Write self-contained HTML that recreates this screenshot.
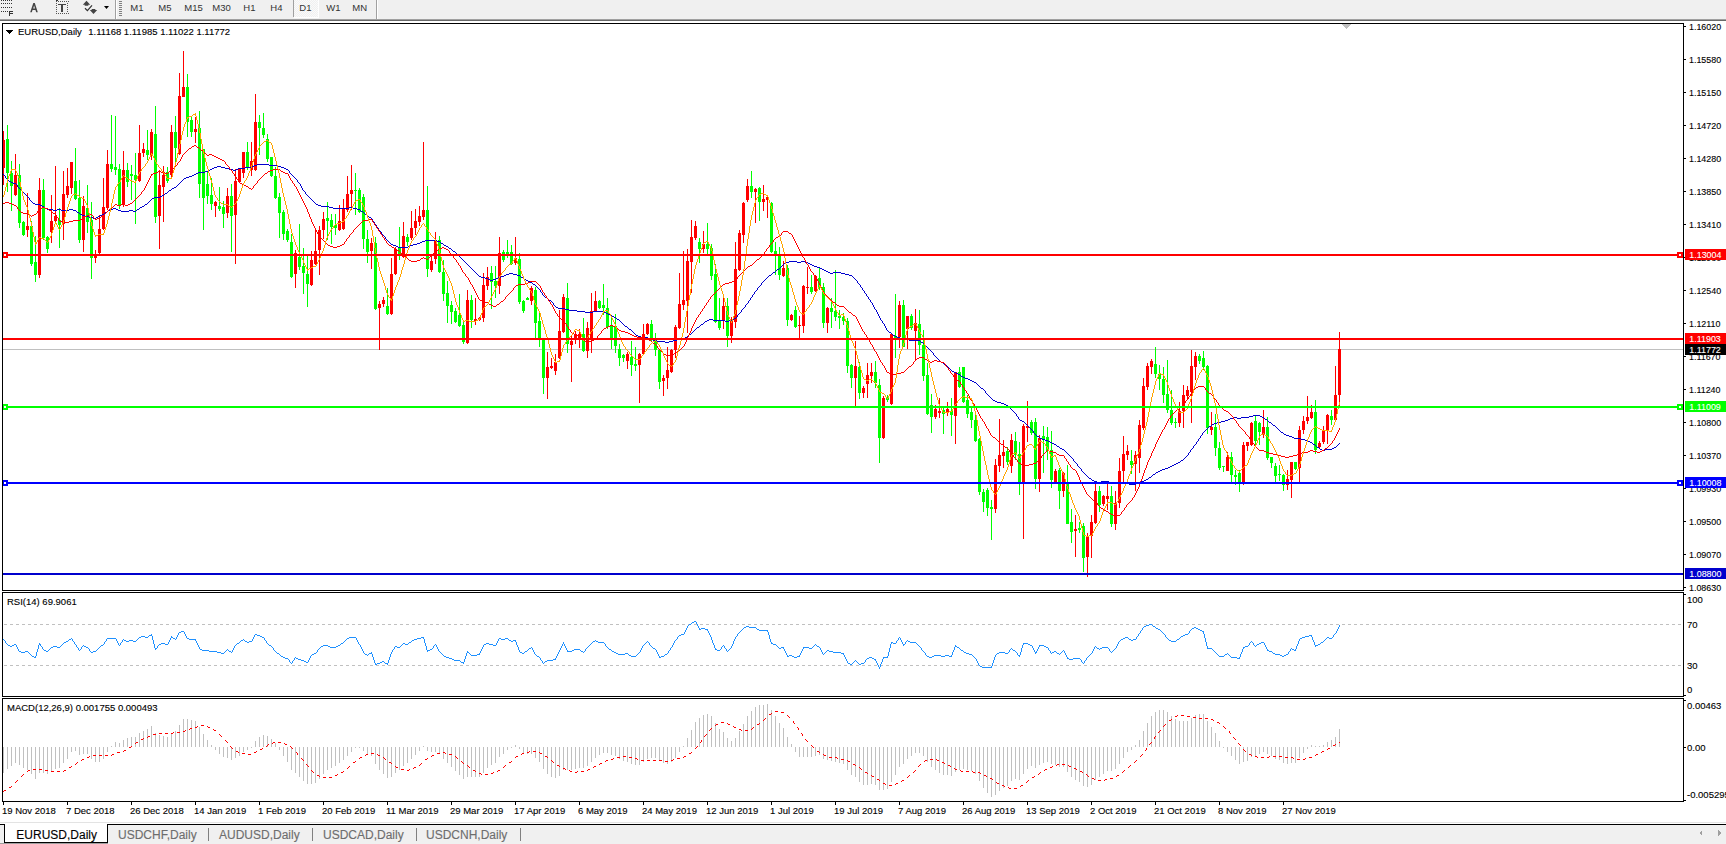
<!DOCTYPE html>
<html><head><meta charset="utf-8"><style>
html,body{margin:0;padding:0;background:#fff;width:1726px;height:844px;overflow:hidden}
svg{display:block}
text{font-family:"Liberation Sans", sans-serif;stroke:currentColor;stroke-width:0.12px;paint-order:stroke}
</style></head><body>
<svg width="1726" height="844" viewBox="0 0 1726 844" shape-rendering="crispEdges">
<rect x="0" y="0" width="1726" height="19" fill="#f0f0f0"/>
<rect x="0" y="19" width="1726" height="1" fill="#a0a0a0"/>
<rect x="0" y="20" width="1726" height="1" fill="#696969"/>
<rect x="0" y="21" width="1726" height="2" fill="#ffffff"/>
<rect x="1" y="0" width="1" height="1" fill="#333"/>
<rect x="3" y="0" width="1" height="1" fill="#333"/>
<rect x="5" y="0" width="1" height="1" fill="#333"/>
<rect x="7" y="0" width="1" height="1" fill="#333"/>
<rect x="9" y="0" width="1" height="1" fill="#333"/>
<rect x="11" y="0" width="1" height="1" fill="#333"/>
<rect x="1" y="3" width="1" height="1" fill="#333"/>
<rect x="3" y="3" width="1" height="1" fill="#333"/>
<rect x="5" y="3" width="1" height="1" fill="#333"/>
<rect x="7" y="3" width="1" height="1" fill="#333"/>
<rect x="9" y="3" width="1" height="1" fill="#333"/>
<rect x="11" y="3" width="1" height="1" fill="#333"/>
<rect x="1" y="7" width="1" height="1" fill="#333"/>
<rect x="3" y="7" width="1" height="1" fill="#333"/>
<rect x="5" y="7" width="1" height="1" fill="#333"/>
<rect x="7" y="7" width="1" height="1" fill="#333"/>
<rect x="9" y="7" width="1" height="1" fill="#333"/>
<rect x="11" y="7" width="1" height="1" fill="#333"/>
<rect x="1" y="11" width="1" height="1" fill="#333"/>
<rect x="3" y="11" width="1" height="1" fill="#333"/>
<rect x="5" y="11" width="1" height="1" fill="#333"/>
<rect x="7" y="11" width="1" height="1" fill="#333"/>
<path d="M9,11h4.3v1.1h-3v1.2h2.6v1.1h-2.6v1.6h-1.3z" fill="#333"/>
<path d="M30.2,12.2 L33.3,3 h1.5 L37.8,12.2 h-1.6 l-0.75,-2.3 h-2.9 l-0.75,2.3z M33.2,8.6 h1.8 l-0.9,-3z" fill="#444" shape-rendering="geometricPrecision"/>
<rect x="56" y="1" width="1" height="1" fill="#555"/>
<rect x="56" y="13" width="1" height="1" fill="#555"/>
<rect x="58" y="1" width="1" height="1" fill="#555"/>
<rect x="58" y="13" width="1" height="1" fill="#555"/>
<rect x="60" y="1" width="1" height="1" fill="#555"/>
<rect x="60" y="13" width="1" height="1" fill="#555"/>
<rect x="62" y="1" width="1" height="1" fill="#555"/>
<rect x="62" y="13" width="1" height="1" fill="#555"/>
<rect x="64" y="1" width="1" height="1" fill="#555"/>
<rect x="64" y="13" width="1" height="1" fill="#555"/>
<rect x="66" y="1" width="1" height="1" fill="#555"/>
<rect x="66" y="13" width="1" height="1" fill="#555"/>
<rect x="68" y="1" width="1" height="1" fill="#555"/>
<rect x="68" y="13" width="1" height="1" fill="#555"/>
<rect x="56" y="3" width="1" height="1" fill="#555"/>
<rect x="67" y="3" width="1" height="1" fill="#555"/>
<rect x="56" y="5" width="1" height="1" fill="#555"/>
<rect x="67" y="5" width="1" height="1" fill="#555"/>
<rect x="56" y="7" width="1" height="1" fill="#555"/>
<rect x="67" y="7" width="1" height="1" fill="#555"/>
<rect x="56" y="9" width="1" height="1" fill="#555"/>
<rect x="67" y="9" width="1" height="1" fill="#555"/>
<rect x="56" y="11" width="1" height="1" fill="#555"/>
<rect x="67" y="11" width="1" height="1" fill="#555"/>
<rect x="56" y="0" width="2" height="1" fill="#333"/>
<rect x="58" y="4" width="8" height="1" fill="#444"/>
<rect x="61" y="4" width="2" height="8" fill="#444"/>
<path d="M82.8,4.8 L86.5,0.8 L90.2,4.8z M84.7,4.5 h3.6v1.3h-3.6z M89.8,10 L97.2,10 L93.5,14.1z M91.7,9 h3.6v1.3h-3.6z" fill="#444" shape-rendering="geometricPrecision"/>
<path d="M85,8.3 L87.4,10.6 L92,5.3" fill="none" stroke="#333" stroke-width="1.2" shape-rendering="geometricPrecision"/>
<polygon points="104,6 109,6 106.5,9" fill="#000" shape-rendering="geometricPrecision"/>
<rect x="115" y="0" width="1" height="19" fill="#a0a0a0"/>
<rect x="116" y="0" width="1" height="19" fill="#fff"/>
<rect x="119" y="1" width="3" height="1" fill="#808080"/>
<rect x="119" y="3" width="3" height="1" fill="#808080"/>
<rect x="119" y="5" width="3" height="1" fill="#808080"/>
<rect x="119" y="7" width="3" height="1" fill="#808080"/>
<rect x="119" y="9" width="3" height="1" fill="#808080"/>
<rect x="119" y="11" width="3" height="1" fill="#808080"/>
<rect x="119" y="13" width="3" height="1" fill="#808080"/>
<rect x="119" y="15" width="3" height="1" fill="#808080"/>
<rect x="293" y="0" width="1" height="17" fill="#a0a0a0"/>
<defs><pattern id="chk" width="2" height="2" patternUnits="userSpaceOnUse"><rect width="2" height="2" fill="#f0f0f0"/><rect width="1" height="1" fill="#fafafa"/><rect x="1" y="1" width="1" height="1" fill="#fafafa"/></pattern></defs>
<rect x="294" y="0" width="24" height="17" fill="url(#chk)"/>
<rect x="294" y="17" width="25" height="1" fill="#fff"/>
<rect x="318" y="0" width="1" height="17" fill="#fff"/>
<rect x="376" y="0" width="1" height="19" fill="#a0a0a0"/>
<rect x="377" y="0" width="1" height="19" fill="#fff"/>
<text x="130.3" y="11" font-size="9.5" fill="#333" color="#333" text-anchor="start" style="stroke-width:0">M1</text>
<text x="158.3" y="11" font-size="9.5" fill="#333" color="#333" text-anchor="start" style="stroke-width:0">M5</text>
<text x="184.3" y="11" font-size="9.5" fill="#333" color="#333" text-anchor="start" style="stroke-width:0">M15</text>
<text x="212.3" y="11" font-size="9.5" fill="#333" color="#333" text-anchor="start" style="stroke-width:0">M30</text>
<text x="243.3" y="11" font-size="9.5" fill="#333" color="#333" text-anchor="start" style="stroke-width:0">H1</text>
<text x="270.3" y="11" font-size="9.5" fill="#333" color="#333" text-anchor="start" style="stroke-width:0">H4</text>
<text x="299.3" y="11" font-size="9.5" fill="#333" color="#333" text-anchor="start" style="stroke-width:0">D1</text>
<text x="326.3" y="11" font-size="9.5" fill="#333" color="#333" text-anchor="start" style="stroke-width:0">W1</text>
<text x="352.3" y="11" font-size="9.5" fill="#333" color="#333" text-anchor="start" style="stroke-width:0">MN</text>
<rect x="2" y="23" width="1682" height="1" fill="#000"/>
<rect x="2" y="590" width="1682" height="1" fill="#000"/>
<rect x="2" y="23" width="1" height="568" fill="#000"/>
<rect x="1683" y="23" width="1" height="568" fill="#000"/>
<clipPath id="cm"><rect x="3" y="24" width="1680" height="566"/></clipPath>
<g clip-path="url(#cm)">
<rect x="3" y="349" width="1680" height="1" fill="#c0c0c0"/>
<rect x="3" y="131" width="1" height="54" fill="#ff0000"/>
<rect x="2" y="140" width="3" height="28" fill="#ff0000"/>
<rect x="7" y="125" width="1" height="67" fill="#00ff00"/>
<rect x="6" y="139" width="3" height="34" fill="#00ff00"/>
<rect x="11" y="161" width="1" height="50" fill="#00ff00"/>
<rect x="10" y="173" width="3" height="13" fill="#00ff00"/>
<rect x="15" y="154" width="1" height="42" fill="#ff0000"/>
<rect x="14" y="175" width="3" height="20" fill="#ff0000"/>
<rect x="19" y="164" width="1" height="64" fill="#00ff00"/>
<rect x="18" y="175" width="3" height="48" fill="#00ff00"/>
<rect x="23" y="221" width="1" height="15" fill="#00ff00"/>
<rect x="22" y="222" width="3" height="13" fill="#00ff00"/>
<rect x="27" y="193" width="1" height="44" fill="#ff0000"/>
<rect x="26" y="226" width="3" height="4" fill="#ff0000"/>
<rect x="31" y="221" width="1" height="45" fill="#00ff00"/>
<rect x="30" y="226" width="3" height="38" fill="#00ff00"/>
<rect x="35" y="236" width="1" height="46" fill="#00ff00"/>
<rect x="34" y="262" width="3" height="13" fill="#00ff00"/>
<rect x="39" y="178" width="1" height="100" fill="#ff0000"/>
<rect x="38" y="190" width="3" height="85" fill="#ff0000"/>
<rect x="43" y="179" width="1" height="61" fill="#00ff00"/>
<rect x="42" y="190" width="3" height="48" fill="#00ff00"/>
<rect x="47" y="236" width="1" height="17" fill="#00ff00"/>
<rect x="46" y="237" width="3" height="12" fill="#00ff00"/>
<rect x="51" y="195" width="1" height="48" fill="#ff0000"/>
<rect x="50" y="221" width="3" height="11" fill="#ff0000"/>
<rect x="55" y="166" width="1" height="57" fill="#ff0000"/>
<rect x="54" y="216" width="3" height="5" fill="#ff0000"/>
<rect x="59" y="208" width="1" height="40" fill="#00ff00"/>
<rect x="58" y="220" width="3" height="5" fill="#00ff00"/>
<rect x="63" y="171" width="1" height="69" fill="#ff0000"/>
<rect x="62" y="194" width="3" height="30" fill="#ff0000"/>
<rect x="67" y="168" width="1" height="30" fill="#ff0000"/>
<rect x="66" y="186" width="3" height="9" fill="#ff0000"/>
<rect x="71" y="162" width="1" height="32" fill="#ff0000"/>
<rect x="70" y="162" width="3" height="26" fill="#ff0000"/>
<rect x="75" y="148" width="1" height="52" fill="#00ff00"/>
<rect x="74" y="181" width="3" height="18" fill="#00ff00"/>
<rect x="79" y="180" width="1" height="63" fill="#00ff00"/>
<rect x="78" y="198" width="3" height="42" fill="#00ff00"/>
<rect x="83" y="196" width="1" height="56" fill="#ff0000"/>
<rect x="82" y="206" width="3" height="34" fill="#ff0000"/>
<rect x="87" y="185" width="1" height="48" fill="#00ff00"/>
<rect x="86" y="208" width="3" height="14" fill="#00ff00"/>
<rect x="91" y="202" width="1" height="77" fill="#00ff00"/>
<rect x="90" y="220" width="3" height="38" fill="#00ff00"/>
<rect x="95" y="250" width="1" height="13" fill="#ff0000"/>
<rect x="94" y="255" width="3" height="3" fill="#ff0000"/>
<rect x="99" y="215" width="1" height="39" fill="#ff0000"/>
<rect x="98" y="229" width="3" height="24" fill="#ff0000"/>
<rect x="103" y="178" width="1" height="52" fill="#ff0000"/>
<rect x="102" y="207" width="3" height="22" fill="#ff0000"/>
<rect x="107" y="150" width="1" height="60" fill="#ff0000"/>
<rect x="106" y="164" width="3" height="44" fill="#ff0000"/>
<rect x="111" y="115" width="1" height="57" fill="#00ff00"/>
<rect x="110" y="164" width="3" height="5" fill="#00ff00"/>
<rect x="115" y="116" width="1" height="59" fill="#00ff00"/>
<rect x="114" y="167" width="3" height="3" fill="#00ff00"/>
<rect x="119" y="164" width="1" height="45" fill="#00ff00"/>
<rect x="118" y="169" width="3" height="36" fill="#00ff00"/>
<rect x="123" y="151" width="1" height="56" fill="#ff0000"/>
<rect x="122" y="170" width="3" height="35" fill="#ff0000"/>
<rect x="127" y="163" width="1" height="24" fill="#00ff00"/>
<rect x="126" y="170" width="3" height="12" fill="#00ff00"/>
<rect x="131" y="165" width="1" height="35" fill="#00ff00"/>
<rect x="130" y="174" width="3" height="2" fill="#00ff00"/>
<rect x="135" y="153" width="1" height="71" fill="#00ff00"/>
<rect x="134" y="175" width="3" height="5" fill="#00ff00"/>
<rect x="139" y="125" width="1" height="57" fill="#ff0000"/>
<rect x="138" y="153" width="3" height="28" fill="#ff0000"/>
<rect x="143" y="143" width="1" height="14" fill="#ff0000"/>
<rect x="142" y="149" width="3" height="4" fill="#ff0000"/>
<rect x="147" y="130" width="1" height="30" fill="#00ff00"/>
<rect x="146" y="150" width="3" height="5" fill="#00ff00"/>
<rect x="151" y="129" width="1" height="31" fill="#ff0000"/>
<rect x="150" y="132" width="3" height="23" fill="#ff0000"/>
<rect x="155" y="106" width="1" height="117" fill="#00ff00"/>
<rect x="154" y="134" width="3" height="83" fill="#00ff00"/>
<rect x="159" y="170" width="1" height="79" fill="#ff0000"/>
<rect x="158" y="185" width="3" height="31" fill="#ff0000"/>
<rect x="163" y="166" width="1" height="56" fill="#ff0000"/>
<rect x="162" y="175" width="3" height="12" fill="#ff0000"/>
<rect x="167" y="167" width="1" height="16" fill="#00ff00"/>
<rect x="166" y="172" width="3" height="9" fill="#00ff00"/>
<rect x="171" y="125" width="1" height="52" fill="#ff0000"/>
<rect x="170" y="132" width="3" height="43" fill="#ff0000"/>
<rect x="175" y="116" width="1" height="46" fill="#00ff00"/>
<rect x="174" y="132" width="3" height="16" fill="#00ff00"/>
<rect x="179" y="73" width="1" height="82" fill="#ff0000"/>
<rect x="178" y="96" width="3" height="58" fill="#ff0000"/>
<rect x="183" y="51" width="1" height="46" fill="#ff0000"/>
<rect x="182" y="87" width="3" height="10" fill="#ff0000"/>
<rect x="187" y="74" width="1" height="63" fill="#00ff00"/>
<rect x="186" y="87" width="3" height="35" fill="#00ff00"/>
<rect x="191" y="116" width="1" height="21" fill="#00ff00"/>
<rect x="190" y="120" width="3" height="12" fill="#00ff00"/>
<rect x="195" y="117" width="1" height="26" fill="#ff0000"/>
<rect x="194" y="129" width="3" height="3" fill="#ff0000"/>
<rect x="199" y="111" width="1" height="87" fill="#00ff00"/>
<rect x="198" y="128" width="3" height="56" fill="#00ff00"/>
<rect x="203" y="149" width="1" height="81" fill="#00ff00"/>
<rect x="202" y="149" width="3" height="49" fill="#00ff00"/>
<rect x="207" y="172" width="1" height="32" fill="#00ff00"/>
<rect x="206" y="184" width="3" height="12" fill="#00ff00"/>
<rect x="211" y="178" width="1" height="32" fill="#00ff00"/>
<rect x="210" y="195" width="3" height="9" fill="#00ff00"/>
<rect x="215" y="201" width="1" height="16" fill="#ff0000"/>
<rect x="214" y="202" width="3" height="4" fill="#ff0000"/>
<rect x="219" y="187" width="1" height="24" fill="#00ff00"/>
<rect x="218" y="206" width="3" height="3" fill="#00ff00"/>
<rect x="223" y="201" width="1" height="27" fill="#00ff00"/>
<rect x="222" y="207" width="3" height="7" fill="#00ff00"/>
<rect x="227" y="188" width="1" height="30" fill="#ff0000"/>
<rect x="226" y="196" width="3" height="17" fill="#ff0000"/>
<rect x="231" y="184" width="1" height="68" fill="#00ff00"/>
<rect x="230" y="196" width="3" height="20" fill="#00ff00"/>
<rect x="235" y="169" width="1" height="95" fill="#ff0000"/>
<rect x="234" y="181" width="3" height="34" fill="#ff0000"/>
<rect x="239" y="168" width="1" height="15" fill="#ff0000"/>
<rect x="238" y="169" width="3" height="13" fill="#ff0000"/>
<rect x="243" y="152" width="1" height="26" fill="#ff0000"/>
<rect x="242" y="152" width="3" height="21" fill="#ff0000"/>
<rect x="247" y="142" width="1" height="28" fill="#00ff00"/>
<rect x="246" y="152" width="3" height="16" fill="#00ff00"/>
<rect x="251" y="142" width="1" height="34" fill="#ff0000"/>
<rect x="250" y="161" width="3" height="9" fill="#ff0000"/>
<rect x="255" y="94" width="1" height="77" fill="#ff0000"/>
<rect x="254" y="122" width="3" height="48" fill="#ff0000"/>
<rect x="259" y="115" width="1" height="40" fill="#00ff00"/>
<rect x="258" y="122" width="3" height="6" fill="#00ff00"/>
<rect x="263" y="113" width="1" height="25" fill="#00ff00"/>
<rect x="262" y="128" width="3" height="7" fill="#00ff00"/>
<rect x="267" y="134" width="1" height="28" fill="#00ff00"/>
<rect x="266" y="139" width="3" height="20" fill="#00ff00"/>
<rect x="271" y="157" width="1" height="20" fill="#00ff00"/>
<rect x="270" y="157" width="3" height="19" fill="#00ff00"/>
<rect x="275" y="167" width="1" height="32" fill="#00ff00"/>
<rect x="274" y="176" width="3" height="22" fill="#00ff00"/>
<rect x="279" y="193" width="1" height="45" fill="#00ff00"/>
<rect x="278" y="197" width="3" height="16" fill="#00ff00"/>
<rect x="283" y="210" width="1" height="30" fill="#00ff00"/>
<rect x="282" y="212" width="3" height="22" fill="#00ff00"/>
<rect x="287" y="229" width="1" height="13" fill="#00ff00"/>
<rect x="286" y="231" width="3" height="9" fill="#00ff00"/>
<rect x="291" y="234" width="1" height="44" fill="#00ff00"/>
<rect x="290" y="242" width="3" height="35" fill="#00ff00"/>
<rect x="295" y="250" width="1" height="38" fill="#ff0000"/>
<rect x="294" y="253" width="3" height="21" fill="#ff0000"/>
<rect x="299" y="224" width="1" height="46" fill="#00ff00"/>
<rect x="298" y="257" width="3" height="10" fill="#00ff00"/>
<rect x="303" y="248" width="1" height="46" fill="#00ff00"/>
<rect x="302" y="266" width="3" height="7" fill="#00ff00"/>
<rect x="307" y="256" width="1" height="51" fill="#00ff00"/>
<rect x="306" y="274" width="3" height="10" fill="#00ff00"/>
<rect x="311" y="251" width="1" height="35" fill="#ff0000"/>
<rect x="310" y="260" width="3" height="25" fill="#ff0000"/>
<rect x="315" y="230" width="1" height="35" fill="#ff0000"/>
<rect x="314" y="251" width="3" height="13" fill="#ff0000"/>
<rect x="319" y="226" width="1" height="49" fill="#ff0000"/>
<rect x="318" y="230" width="3" height="20" fill="#ff0000"/>
<rect x="323" y="212" width="1" height="27" fill="#ff0000"/>
<rect x="322" y="219" width="3" height="11" fill="#ff0000"/>
<rect x="327" y="202" width="1" height="38" fill="#00ff00"/>
<rect x="326" y="218" width="3" height="3" fill="#00ff00"/>
<rect x="331" y="214" width="1" height="30" fill="#00ff00"/>
<rect x="330" y="220" width="3" height="7" fill="#00ff00"/>
<rect x="335" y="214" width="1" height="21" fill="#00ff00"/>
<rect x="334" y="225" width="3" height="3" fill="#00ff00"/>
<rect x="339" y="205" width="1" height="26" fill="#ff0000"/>
<rect x="338" y="221" width="3" height="9" fill="#ff0000"/>
<rect x="343" y="199" width="1" height="31" fill="#ff0000"/>
<rect x="342" y="209" width="3" height="20" fill="#ff0000"/>
<rect x="347" y="176" width="1" height="36" fill="#ff0000"/>
<rect x="346" y="194" width="3" height="16" fill="#ff0000"/>
<rect x="351" y="165" width="1" height="45" fill="#ff0000"/>
<rect x="350" y="190" width="3" height="4" fill="#ff0000"/>
<rect x="355" y="173" width="1" height="42" fill="#00ff00"/>
<rect x="354" y="190" width="3" height="1" fill="#00ff00"/>
<rect x="359" y="188" width="1" height="25" fill="#00ff00"/>
<rect x="358" y="190" width="3" height="22" fill="#00ff00"/>
<rect x="363" y="194" width="1" height="55" fill="#00ff00"/>
<rect x="362" y="197" width="3" height="42" fill="#00ff00"/>
<rect x="367" y="230" width="1" height="33" fill="#00ff00"/>
<rect x="366" y="239" width="3" height="13" fill="#00ff00"/>
<rect x="371" y="238" width="1" height="31" fill="#ff0000"/>
<rect x="370" y="243" width="3" height="8" fill="#ff0000"/>
<rect x="375" y="237" width="1" height="73" fill="#00ff00"/>
<rect x="374" y="243" width="3" height="66" fill="#00ff00"/>
<rect x="379" y="301" width="1" height="49" fill="#ff0000"/>
<rect x="378" y="304" width="3" height="4" fill="#ff0000"/>
<rect x="383" y="297" width="1" height="10" fill="#ff0000"/>
<rect x="382" y="300" width="3" height="4" fill="#ff0000"/>
<rect x="387" y="288" width="1" height="27" fill="#00ff00"/>
<rect x="386" y="306" width="3" height="8" fill="#00ff00"/>
<rect x="391" y="258" width="1" height="57" fill="#ff0000"/>
<rect x="390" y="274" width="3" height="40" fill="#ff0000"/>
<rect x="395" y="247" width="1" height="28" fill="#ff0000"/>
<rect x="394" y="249" width="3" height="25" fill="#ff0000"/>
<rect x="399" y="227" width="1" height="33" fill="#00ff00"/>
<rect x="398" y="247" width="3" height="7" fill="#00ff00"/>
<rect x="403" y="222" width="1" height="36" fill="#ff0000"/>
<rect x="402" y="236" width="3" height="21" fill="#ff0000"/>
<rect x="407" y="234" width="1" height="12" fill="#00ff00"/>
<rect x="406" y="237" width="3" height="5" fill="#00ff00"/>
<rect x="411" y="211" width="1" height="29" fill="#ff0000"/>
<rect x="410" y="228" width="3" height="10" fill="#ff0000"/>
<rect x="415" y="209" width="1" height="26" fill="#ff0000"/>
<rect x="414" y="221" width="3" height="7" fill="#ff0000"/>
<rect x="419" y="206" width="1" height="20" fill="#ff0000"/>
<rect x="418" y="216" width="3" height="6" fill="#ff0000"/>
<rect x="423" y="142" width="1" height="78" fill="#ff0000"/>
<rect x="422" y="210" width="3" height="7" fill="#ff0000"/>
<rect x="427" y="186" width="1" height="91" fill="#00ff00"/>
<rect x="426" y="210" width="3" height="59" fill="#00ff00"/>
<rect x="431" y="254" width="1" height="18" fill="#ff0000"/>
<rect x="430" y="261" width="3" height="9" fill="#ff0000"/>
<rect x="435" y="232" width="1" height="32" fill="#ff0000"/>
<rect x="434" y="240" width="3" height="19" fill="#ff0000"/>
<rect x="439" y="236" width="1" height="37" fill="#00ff00"/>
<rect x="438" y="240" width="3" height="32" fill="#00ff00"/>
<rect x="443" y="260" width="1" height="41" fill="#00ff00"/>
<rect x="442" y="272" width="3" height="22" fill="#00ff00"/>
<rect x="447" y="281" width="1" height="42" fill="#00ff00"/>
<rect x="446" y="293" width="3" height="13" fill="#00ff00"/>
<rect x="451" y="301" width="1" height="23" fill="#00ff00"/>
<rect x="450" y="305" width="3" height="7" fill="#00ff00"/>
<rect x="455" y="308" width="1" height="15" fill="#00ff00"/>
<rect x="454" y="311" width="3" height="11" fill="#00ff00"/>
<rect x="459" y="294" width="1" height="33" fill="#00ff00"/>
<rect x="458" y="315" width="3" height="11" fill="#00ff00"/>
<rect x="463" y="321" width="1" height="23" fill="#00ff00"/>
<rect x="462" y="325" width="3" height="17" fill="#00ff00"/>
<rect x="467" y="290" width="1" height="54" fill="#ff0000"/>
<rect x="466" y="300" width="3" height="43" fill="#ff0000"/>
<rect x="471" y="295" width="1" height="33" fill="#00ff00"/>
<rect x="470" y="300" width="3" height="20" fill="#00ff00"/>
<rect x="475" y="298" width="1" height="27" fill="#ff0000"/>
<rect x="474" y="319" width="3" height="2" fill="#ff0000"/>
<rect x="479" y="317" width="1" height="4" fill="#ff0000"/>
<rect x="478" y="318" width="3" height="2" fill="#ff0000"/>
<rect x="483" y="273" width="1" height="49" fill="#ff0000"/>
<rect x="482" y="285" width="3" height="33" fill="#ff0000"/>
<rect x="487" y="267" width="1" height="23" fill="#ff0000"/>
<rect x="486" y="277" width="3" height="9" fill="#ff0000"/>
<rect x="491" y="266" width="1" height="43" fill="#00ff00"/>
<rect x="490" y="273" width="3" height="9" fill="#00ff00"/>
<rect x="495" y="266" width="1" height="32" fill="#00ff00"/>
<rect x="494" y="281" width="3" height="5" fill="#00ff00"/>
<rect x="499" y="237" width="1" height="57" fill="#ff0000"/>
<rect x="498" y="253" width="3" height="33" fill="#ff0000"/>
<rect x="503" y="250" width="1" height="12" fill="#00ff00"/>
<rect x="502" y="252" width="3" height="8" fill="#00ff00"/>
<rect x="507" y="240" width="1" height="18" fill="#00ff00"/>
<rect x="506" y="252" width="3" height="2" fill="#00ff00"/>
<rect x="511" y="245" width="1" height="20" fill="#00ff00"/>
<rect x="510" y="252" width="3" height="12" fill="#00ff00"/>
<rect x="515" y="237" width="1" height="28" fill="#ff0000"/>
<rect x="514" y="258" width="3" height="5" fill="#ff0000"/>
<rect x="519" y="253" width="1" height="51" fill="#00ff00"/>
<rect x="518" y="259" width="3" height="43" fill="#00ff00"/>
<rect x="523" y="300" width="1" height="13" fill="#00ff00"/>
<rect x="522" y="301" width="3" height="10" fill="#00ff00"/>
<rect x="527" y="297" width="1" height="3" fill="#00ff00"/>
<rect x="526" y="298" width="3" height="2" fill="#00ff00"/>
<rect x="531" y="286" width="1" height="19" fill="#ff0000"/>
<rect x="530" y="288" width="3" height="13" fill="#ff0000"/>
<rect x="535" y="287" width="1" height="51" fill="#00ff00"/>
<rect x="534" y="290" width="3" height="33" fill="#00ff00"/>
<rect x="539" y="312" width="1" height="35" fill="#00ff00"/>
<rect x="538" y="321" width="3" height="17" fill="#00ff00"/>
<rect x="543" y="338" width="1" height="56" fill="#00ff00"/>
<rect x="542" y="338" width="3" height="40" fill="#00ff00"/>
<rect x="547" y="352" width="1" height="47" fill="#ff0000"/>
<rect x="546" y="367" width="3" height="11" fill="#ff0000"/>
<rect x="551" y="358" width="1" height="11" fill="#ff0000"/>
<rect x="550" y="366" width="3" height="2" fill="#ff0000"/>
<rect x="555" y="354" width="1" height="21" fill="#ff0000"/>
<rect x="554" y="362" width="3" height="9" fill="#ff0000"/>
<rect x="559" y="310" width="1" height="49" fill="#ff0000"/>
<rect x="558" y="331" width="3" height="27" fill="#ff0000"/>
<rect x="563" y="294" width="1" height="39" fill="#ff0000"/>
<rect x="562" y="297" width="3" height="35" fill="#ff0000"/>
<rect x="567" y="283" width="1" height="70" fill="#00ff00"/>
<rect x="566" y="298" width="3" height="46" fill="#00ff00"/>
<rect x="571" y="335" width="1" height="47" fill="#ff0000"/>
<rect x="570" y="341" width="3" height="4" fill="#ff0000"/>
<rect x="575" y="331" width="1" height="13" fill="#ff0000"/>
<rect x="574" y="334" width="3" height="5" fill="#ff0000"/>
<rect x="579" y="329" width="1" height="19" fill="#ff0000"/>
<rect x="578" y="334" width="3" height="4" fill="#ff0000"/>
<rect x="583" y="318" width="1" height="34" fill="#00ff00"/>
<rect x="582" y="334" width="3" height="17" fill="#00ff00"/>
<rect x="587" y="322" width="1" height="36" fill="#ff0000"/>
<rect x="586" y="328" width="3" height="23" fill="#ff0000"/>
<rect x="591" y="293" width="1" height="60" fill="#ff0000"/>
<rect x="590" y="311" width="3" height="27" fill="#ff0000"/>
<rect x="595" y="291" width="1" height="21" fill="#ff0000"/>
<rect x="594" y="301" width="3" height="11" fill="#ff0000"/>
<rect x="599" y="300" width="1" height="9" fill="#00ff00"/>
<rect x="598" y="301" width="3" height="7" fill="#00ff00"/>
<rect x="603" y="284" width="1" height="31" fill="#00ff00"/>
<rect x="602" y="305" width="3" height="3" fill="#00ff00"/>
<rect x="607" y="298" width="1" height="31" fill="#00ff00"/>
<rect x="606" y="308" width="3" height="19" fill="#00ff00"/>
<rect x="611" y="315" width="1" height="34" fill="#00ff00"/>
<rect x="610" y="325" width="3" height="14" fill="#00ff00"/>
<rect x="615" y="314" width="1" height="39" fill="#00ff00"/>
<rect x="614" y="326" width="3" height="20" fill="#00ff00"/>
<rect x="619" y="344" width="1" height="22" fill="#00ff00"/>
<rect x="618" y="349" width="3" height="9" fill="#00ff00"/>
<rect x="623" y="354" width="1" height="8" fill="#00ff00"/>
<rect x="622" y="355" width="3" height="3" fill="#00ff00"/>
<rect x="627" y="352" width="1" height="17" fill="#ff0000"/>
<rect x="626" y="354" width="3" height="7" fill="#ff0000"/>
<rect x="631" y="341" width="1" height="35" fill="#00ff00"/>
<rect x="630" y="357" width="3" height="8" fill="#00ff00"/>
<rect x="635" y="347" width="1" height="24" fill="#00ff00"/>
<rect x="634" y="364" width="3" height="2" fill="#00ff00"/>
<rect x="639" y="353" width="1" height="50" fill="#ff0000"/>
<rect x="638" y="354" width="3" height="11" fill="#ff0000"/>
<rect x="643" y="324" width="1" height="31" fill="#ff0000"/>
<rect x="642" y="334" width="3" height="20" fill="#ff0000"/>
<rect x="647" y="323" width="1" height="12" fill="#ff0000"/>
<rect x="646" y="324" width="3" height="10" fill="#ff0000"/>
<rect x="651" y="320" width="1" height="21" fill="#00ff00"/>
<rect x="650" y="324" width="3" height="16" fill="#00ff00"/>
<rect x="655" y="333" width="1" height="23" fill="#00ff00"/>
<rect x="654" y="338" width="3" height="12" fill="#00ff00"/>
<rect x="659" y="349" width="1" height="40" fill="#00ff00"/>
<rect x="658" y="350" width="3" height="32" fill="#00ff00"/>
<rect x="663" y="375" width="1" height="21" fill="#ff0000"/>
<rect x="662" y="378" width="3" height="3" fill="#ff0000"/>
<rect x="667" y="347" width="1" height="42" fill="#ff0000"/>
<rect x="666" y="370" width="3" height="8" fill="#ff0000"/>
<rect x="671" y="349" width="1" height="24" fill="#ff0000"/>
<rect x="670" y="350" width="3" height="22" fill="#ff0000"/>
<rect x="675" y="325" width="1" height="33" fill="#ff0000"/>
<rect x="674" y="327" width="3" height="23" fill="#ff0000"/>
<rect x="679" y="273" width="1" height="56" fill="#ff0000"/>
<rect x="678" y="304" width="3" height="24" fill="#ff0000"/>
<rect x="683" y="251" width="1" height="59" fill="#ff0000"/>
<rect x="682" y="300" width="3" height="5" fill="#ff0000"/>
<rect x="687" y="249" width="1" height="84" fill="#ff0000"/>
<rect x="686" y="261" width="3" height="40" fill="#ff0000"/>
<rect x="691" y="220" width="1" height="73" fill="#ff0000"/>
<rect x="690" y="237" width="3" height="25" fill="#ff0000"/>
<rect x="695" y="221" width="1" height="19" fill="#ff0000"/>
<rect x="694" y="226" width="3" height="12" fill="#ff0000"/>
<rect x="699" y="238" width="1" height="25" fill="#00ff00"/>
<rect x="698" y="242" width="3" height="7" fill="#00ff00"/>
<rect x="703" y="231" width="1" height="22" fill="#ff0000"/>
<rect x="702" y="244" width="3" height="5" fill="#ff0000"/>
<rect x="707" y="223" width="1" height="32" fill="#00ff00"/>
<rect x="706" y="244" width="3" height="5" fill="#00ff00"/>
<rect x="711" y="244" width="1" height="36" fill="#00ff00"/>
<rect x="710" y="248" width="3" height="28" fill="#00ff00"/>
<rect x="715" y="264" width="1" height="59" fill="#00ff00"/>
<rect x="714" y="274" width="3" height="48" fill="#00ff00"/>
<rect x="719" y="298" width="1" height="32" fill="#00ff00"/>
<rect x="718" y="321" width="3" height="7" fill="#00ff00"/>
<rect x="723" y="298" width="1" height="31" fill="#ff0000"/>
<rect x="722" y="306" width="3" height="15" fill="#ff0000"/>
<rect x="727" y="298" width="1" height="49" fill="#00ff00"/>
<rect x="726" y="306" width="3" height="30" fill="#00ff00"/>
<rect x="731" y="317" width="1" height="26" fill="#ff0000"/>
<rect x="730" y="321" width="3" height="15" fill="#ff0000"/>
<rect x="735" y="242" width="1" height="86" fill="#ff0000"/>
<rect x="734" y="269" width="3" height="53" fill="#ff0000"/>
<rect x="739" y="230" width="1" height="41" fill="#ff0000"/>
<rect x="738" y="233" width="3" height="37" fill="#ff0000"/>
<rect x="743" y="202" width="1" height="41" fill="#ff0000"/>
<rect x="742" y="203" width="3" height="32" fill="#ff0000"/>
<rect x="747" y="179" width="1" height="23" fill="#ff0000"/>
<rect x="746" y="186" width="3" height="14" fill="#ff0000"/>
<rect x="751" y="171" width="1" height="27" fill="#00ff00"/>
<rect x="750" y="186" width="3" height="6" fill="#00ff00"/>
<rect x="755" y="188" width="1" height="35" fill="#ff0000"/>
<rect x="754" y="189" width="3" height="3" fill="#ff0000"/>
<rect x="759" y="187" width="1" height="34" fill="#00ff00"/>
<rect x="758" y="188" width="3" height="14" fill="#00ff00"/>
<rect x="763" y="185" width="1" height="26" fill="#ff0000"/>
<rect x="762" y="199" width="3" height="3" fill="#ff0000"/>
<rect x="767" y="196" width="1" height="22" fill="#ff0000"/>
<rect x="766" y="197" width="3" height="3" fill="#ff0000"/>
<rect x="771" y="202" width="1" height="51" fill="#00ff00"/>
<rect x="770" y="203" width="3" height="49" fill="#00ff00"/>
<rect x="775" y="242" width="1" height="33" fill="#00ff00"/>
<rect x="774" y="251" width="3" height="5" fill="#00ff00"/>
<rect x="779" y="247" width="1" height="33" fill="#00ff00"/>
<rect x="778" y="255" width="3" height="20" fill="#00ff00"/>
<rect x="783" y="261" width="1" height="16" fill="#ff0000"/>
<rect x="782" y="268" width="3" height="8" fill="#ff0000"/>
<rect x="787" y="265" width="1" height="61" fill="#00ff00"/>
<rect x="786" y="268" width="3" height="52" fill="#00ff00"/>
<rect x="791" y="314" width="1" height="7" fill="#ff0000"/>
<rect x="790" y="315" width="3" height="5" fill="#ff0000"/>
<rect x="795" y="306" width="1" height="22" fill="#00ff00"/>
<rect x="794" y="310" width="3" height="17" fill="#00ff00"/>
<rect x="799" y="316" width="1" height="22" fill="#ff0000"/>
<rect x="798" y="325" width="3" height="1" fill="#ff0000"/>
<rect x="803" y="285" width="1" height="48" fill="#ff0000"/>
<rect x="802" y="286" width="3" height="40" fill="#ff0000"/>
<rect x="807" y="267" width="1" height="27" fill="#ff0000"/>
<rect x="806" y="287" width="3" height="1" fill="#ff0000"/>
<rect x="811" y="275" width="1" height="19" fill="#00ff00"/>
<rect x="810" y="287" width="3" height="5" fill="#00ff00"/>
<rect x="815" y="275" width="1" height="17" fill="#ff0000"/>
<rect x="814" y="276" width="3" height="15" fill="#ff0000"/>
<rect x="819" y="267" width="1" height="23" fill="#00ff00"/>
<rect x="818" y="278" width="3" height="10" fill="#00ff00"/>
<rect x="823" y="283" width="1" height="45" fill="#00ff00"/>
<rect x="822" y="287" width="3" height="36" fill="#00ff00"/>
<rect x="827" y="307" width="1" height="26" fill="#ff0000"/>
<rect x="826" y="308" width="3" height="15" fill="#ff0000"/>
<rect x="831" y="298" width="1" height="30" fill="#00ff00"/>
<rect x="830" y="308" width="3" height="4" fill="#00ff00"/>
<rect x="835" y="270" width="1" height="51" fill="#00ff00"/>
<rect x="834" y="311" width="3" height="6" fill="#00ff00"/>
<rect x="839" y="310" width="1" height="19" fill="#00ff00"/>
<rect x="838" y="316" width="3" height="2" fill="#00ff00"/>
<rect x="843" y="313" width="1" height="12" fill="#00ff00"/>
<rect x="842" y="317" width="3" height="4" fill="#00ff00"/>
<rect x="847" y="318" width="1" height="55" fill="#00ff00"/>
<rect x="846" y="321" width="3" height="45" fill="#00ff00"/>
<rect x="851" y="364" width="1" height="24" fill="#00ff00"/>
<rect x="850" y="365" width="3" height="13" fill="#00ff00"/>
<rect x="855" y="341" width="1" height="65" fill="#ff0000"/>
<rect x="854" y="366" width="3" height="12" fill="#ff0000"/>
<rect x="859" y="362" width="1" height="37" fill="#00ff00"/>
<rect x="858" y="367" width="3" height="26" fill="#00ff00"/>
<rect x="863" y="386" width="1" height="12" fill="#ff0000"/>
<rect x="862" y="388" width="3" height="5" fill="#ff0000"/>
<rect x="867" y="363" width="1" height="35" fill="#ff0000"/>
<rect x="866" y="375" width="3" height="9" fill="#ff0000"/>
<rect x="871" y="363" width="1" height="20" fill="#ff0000"/>
<rect x="870" y="372" width="3" height="4" fill="#ff0000"/>
<rect x="875" y="361" width="1" height="27" fill="#00ff00"/>
<rect x="874" y="372" width="3" height="11" fill="#00ff00"/>
<rect x="879" y="379" width="1" height="84" fill="#00ff00"/>
<rect x="878" y="385" width="3" height="53" fill="#00ff00"/>
<rect x="883" y="396" width="1" height="43" fill="#ff0000"/>
<rect x="882" y="398" width="3" height="40" fill="#ff0000"/>
<rect x="887" y="395" width="1" height="7" fill="#00ff00"/>
<rect x="886" y="397" width="3" height="3" fill="#00ff00"/>
<rect x="891" y="333" width="1" height="72" fill="#ff0000"/>
<rect x="890" y="334" width="3" height="70" fill="#ff0000"/>
<rect x="895" y="294" width="1" height="64" fill="#00ff00"/>
<rect x="894" y="336" width="3" height="2" fill="#00ff00"/>
<rect x="899" y="301" width="1" height="47" fill="#ff0000"/>
<rect x="898" y="305" width="3" height="32" fill="#ff0000"/>
<rect x="903" y="300" width="1" height="47" fill="#00ff00"/>
<rect x="902" y="305" width="3" height="42" fill="#00ff00"/>
<rect x="907" y="316" width="1" height="33" fill="#ff0000"/>
<rect x="906" y="316" width="3" height="13" fill="#ff0000"/>
<rect x="911" y="314" width="1" height="16" fill="#00ff00"/>
<rect x="910" y="316" width="3" height="12" fill="#00ff00"/>
<rect x="915" y="309" width="1" height="52" fill="#ff0000"/>
<rect x="914" y="323" width="3" height="8" fill="#ff0000"/>
<rect x="919" y="310" width="1" height="45" fill="#00ff00"/>
<rect x="918" y="324" width="3" height="21" fill="#00ff00"/>
<rect x="923" y="330" width="1" height="51" fill="#00ff00"/>
<rect x="922" y="345" width="3" height="31" fill="#00ff00"/>
<rect x="927" y="363" width="1" height="52" fill="#00ff00"/>
<rect x="926" y="375" width="3" height="39" fill="#00ff00"/>
<rect x="931" y="394" width="1" height="39" fill="#00ff00"/>
<rect x="930" y="405" width="3" height="12" fill="#00ff00"/>
<rect x="935" y="405" width="1" height="14" fill="#ff0000"/>
<rect x="934" y="409" width="3" height="8" fill="#ff0000"/>
<rect x="939" y="398" width="1" height="20" fill="#ff0000"/>
<rect x="938" y="411" width="3" height="2" fill="#ff0000"/>
<rect x="943" y="407" width="1" height="27" fill="#00ff00"/>
<rect x="942" y="410" width="3" height="4" fill="#00ff00"/>
<rect x="947" y="402" width="1" height="14" fill="#ff0000"/>
<rect x="946" y="409" width="3" height="4" fill="#ff0000"/>
<rect x="951" y="398" width="1" height="38" fill="#00ff00"/>
<rect x="950" y="411" width="3" height="4" fill="#00ff00"/>
<rect x="955" y="372" width="1" height="72" fill="#ff0000"/>
<rect x="954" y="372" width="3" height="44" fill="#ff0000"/>
<rect x="959" y="367" width="1" height="21" fill="#00ff00"/>
<rect x="958" y="372" width="3" height="15" fill="#00ff00"/>
<rect x="963" y="367" width="1" height="36" fill="#00ff00"/>
<rect x="962" y="367" width="3" height="35" fill="#00ff00"/>
<rect x="967" y="395" width="1" height="23" fill="#00ff00"/>
<rect x="966" y="400" width="3" height="14" fill="#00ff00"/>
<rect x="971" y="407" width="1" height="21" fill="#00ff00"/>
<rect x="970" y="412" width="3" height="8" fill="#00ff00"/>
<rect x="975" y="415" width="1" height="27" fill="#00ff00"/>
<rect x="974" y="420" width="3" height="21" fill="#00ff00"/>
<rect x="979" y="438" width="1" height="57" fill="#00ff00"/>
<rect x="978" y="439" width="3" height="53" fill="#00ff00"/>
<rect x="983" y="489" width="1" height="23" fill="#00ff00"/>
<rect x="982" y="492" width="3" height="10" fill="#00ff00"/>
<rect x="987" y="488" width="1" height="28" fill="#00ff00"/>
<rect x="986" y="490" width="3" height="18" fill="#00ff00"/>
<rect x="991" y="500" width="1" height="40" fill="#00ff00"/>
<rect x="990" y="507" width="3" height="2" fill="#00ff00"/>
<rect x="995" y="459" width="1" height="54" fill="#ff0000"/>
<rect x="994" y="465" width="3" height="44" fill="#ff0000"/>
<rect x="999" y="419" width="1" height="53" fill="#ff0000"/>
<rect x="998" y="455" width="3" height="11" fill="#ff0000"/>
<rect x="1003" y="440" width="1" height="28" fill="#ff0000"/>
<rect x="1002" y="452" width="3" height="4" fill="#ff0000"/>
<rect x="1007" y="447" width="1" height="18" fill="#00ff00"/>
<rect x="1006" y="451" width="3" height="11" fill="#00ff00"/>
<rect x="1011" y="434" width="1" height="39" fill="#ff0000"/>
<rect x="1010" y="440" width="3" height="26" fill="#ff0000"/>
<rect x="1015" y="432" width="1" height="28" fill="#00ff00"/>
<rect x="1014" y="441" width="3" height="14" fill="#00ff00"/>
<rect x="1019" y="442" width="1" height="53" fill="#00ff00"/>
<rect x="1018" y="454" width="3" height="28" fill="#00ff00"/>
<rect x="1023" y="424" width="1" height="115" fill="#ff0000"/>
<rect x="1022" y="426" width="3" height="56" fill="#ff0000"/>
<rect x="1027" y="401" width="1" height="41" fill="#ff0000"/>
<rect x="1026" y="426" width="3" height="2" fill="#ff0000"/>
<rect x="1031" y="420" width="1" height="15" fill="#00ff00"/>
<rect x="1030" y="422" width="3" height="11" fill="#00ff00"/>
<rect x="1035" y="418" width="1" height="71" fill="#00ff00"/>
<rect x="1034" y="422" width="3" height="57" fill="#00ff00"/>
<rect x="1039" y="435" width="1" height="57" fill="#ff0000"/>
<rect x="1038" y="438" width="3" height="41" fill="#ff0000"/>
<rect x="1043" y="426" width="1" height="47" fill="#00ff00"/>
<rect x="1042" y="436" width="3" height="3" fill="#00ff00"/>
<rect x="1047" y="427" width="1" height="33" fill="#00ff00"/>
<rect x="1046" y="437" width="3" height="14" fill="#00ff00"/>
<rect x="1051" y="431" width="1" height="57" fill="#00ff00"/>
<rect x="1050" y="450" width="3" height="30" fill="#00ff00"/>
<rect x="1055" y="469" width="1" height="14" fill="#ff0000"/>
<rect x="1054" y="471" width="3" height="11" fill="#ff0000"/>
<rect x="1059" y="468" width="1" height="41" fill="#00ff00"/>
<rect x="1058" y="470" width="3" height="21" fill="#00ff00"/>
<rect x="1063" y="472" width="1" height="25" fill="#ff0000"/>
<rect x="1062" y="473" width="3" height="18" fill="#ff0000"/>
<rect x="1067" y="465" width="1" height="59" fill="#00ff00"/>
<rect x="1066" y="484" width="3" height="40" fill="#00ff00"/>
<rect x="1071" y="509" width="1" height="34" fill="#00ff00"/>
<rect x="1070" y="522" width="3" height="10" fill="#00ff00"/>
<rect x="1075" y="515" width="1" height="42" fill="#ff0000"/>
<rect x="1074" y="529" width="3" height="2" fill="#ff0000"/>
<rect x="1079" y="522" width="1" height="11" fill="#00ff00"/>
<rect x="1078" y="528" width="3" height="2" fill="#00ff00"/>
<rect x="1083" y="523" width="1" height="49" fill="#00ff00"/>
<rect x="1082" y="526" width="3" height="32" fill="#00ff00"/>
<rect x="1087" y="533" width="1" height="44" fill="#ff0000"/>
<rect x="1086" y="536" width="3" height="21" fill="#ff0000"/>
<rect x="1091" y="515" width="1" height="43" fill="#ff0000"/>
<rect x="1090" y="522" width="3" height="14" fill="#ff0000"/>
<rect x="1095" y="484" width="1" height="40" fill="#ff0000"/>
<rect x="1094" y="491" width="3" height="32" fill="#ff0000"/>
<rect x="1099" y="486" width="1" height="26" fill="#00ff00"/>
<rect x="1098" y="491" width="3" height="14" fill="#00ff00"/>
<rect x="1103" y="495" width="1" height="11" fill="#ff0000"/>
<rect x="1102" y="496" width="3" height="8" fill="#ff0000"/>
<rect x="1107" y="484" width="1" height="26" fill="#ff0000"/>
<rect x="1106" y="496" width="3" height="3" fill="#ff0000"/>
<rect x="1111" y="486" width="1" height="41" fill="#00ff00"/>
<rect x="1110" y="496" width="3" height="28" fill="#00ff00"/>
<rect x="1115" y="491" width="1" height="39" fill="#ff0000"/>
<rect x="1114" y="503" width="3" height="21" fill="#ff0000"/>
<rect x="1119" y="458" width="1" height="50" fill="#ff0000"/>
<rect x="1118" y="471" width="3" height="32" fill="#ff0000"/>
<rect x="1123" y="436" width="1" height="46" fill="#ff0000"/>
<rect x="1122" y="454" width="3" height="17" fill="#ff0000"/>
<rect x="1127" y="445" width="1" height="15" fill="#ff0000"/>
<rect x="1126" y="451" width="3" height="4" fill="#ff0000"/>
<rect x="1131" y="450" width="1" height="24" fill="#00ff00"/>
<rect x="1130" y="461" width="3" height="4" fill="#00ff00"/>
<rect x="1135" y="451" width="1" height="40" fill="#ff0000"/>
<rect x="1134" y="455" width="3" height="9" fill="#ff0000"/>
<rect x="1139" y="420" width="1" height="53" fill="#ff0000"/>
<rect x="1138" y="425" width="3" height="33" fill="#ff0000"/>
<rect x="1143" y="378" width="1" height="52" fill="#ff0000"/>
<rect x="1142" y="386" width="3" height="42" fill="#ff0000"/>
<rect x="1147" y="363" width="1" height="27" fill="#ff0000"/>
<rect x="1146" y="366" width="3" height="21" fill="#ff0000"/>
<rect x="1151" y="359" width="1" height="15" fill="#ff0000"/>
<rect x="1150" y="361" width="3" height="6" fill="#ff0000"/>
<rect x="1155" y="347" width="1" height="31" fill="#00ff00"/>
<rect x="1154" y="364" width="3" height="10" fill="#00ff00"/>
<rect x="1159" y="365" width="1" height="25" fill="#00ff00"/>
<rect x="1158" y="374" width="3" height="5" fill="#00ff00"/>
<rect x="1163" y="367" width="1" height="36" fill="#00ff00"/>
<rect x="1162" y="379" width="3" height="16" fill="#00ff00"/>
<rect x="1167" y="360" width="1" height="53" fill="#00ff00"/>
<rect x="1166" y="394" width="3" height="16" fill="#00ff00"/>
<rect x="1171" y="390" width="1" height="35" fill="#00ff00"/>
<rect x="1170" y="410" width="3" height="13" fill="#00ff00"/>
<rect x="1175" y="418" width="1" height="10" fill="#00ff00"/>
<rect x="1174" y="422" width="3" height="1" fill="#00ff00"/>
<rect x="1179" y="402" width="1" height="25" fill="#ff0000"/>
<rect x="1178" y="411" width="3" height="12" fill="#ff0000"/>
<rect x="1183" y="385" width="1" height="43" fill="#ff0000"/>
<rect x="1182" y="395" width="3" height="16" fill="#ff0000"/>
<rect x="1187" y="386" width="1" height="14" fill="#ff0000"/>
<rect x="1186" y="390" width="3" height="6" fill="#ff0000"/>
<rect x="1191" y="350" width="1" height="73" fill="#ff0000"/>
<rect x="1190" y="366" width="3" height="26" fill="#ff0000"/>
<rect x="1195" y="352" width="1" height="28" fill="#ff0000"/>
<rect x="1194" y="356" width="3" height="11" fill="#ff0000"/>
<rect x="1199" y="354" width="1" height="10" fill="#00ff00"/>
<rect x="1198" y="356" width="3" height="5" fill="#00ff00"/>
<rect x="1203" y="351" width="1" height="19" fill="#00ff00"/>
<rect x="1202" y="358" width="3" height="9" fill="#00ff00"/>
<rect x="1207" y="365" width="1" height="69" fill="#00ff00"/>
<rect x="1206" y="366" width="3" height="62" fill="#00ff00"/>
<rect x="1211" y="412" width="1" height="23" fill="#ff0000"/>
<rect x="1210" y="427" width="3" height="3" fill="#ff0000"/>
<rect x="1215" y="414" width="1" height="42" fill="#00ff00"/>
<rect x="1214" y="427" width="3" height="21" fill="#00ff00"/>
<rect x="1219" y="442" width="1" height="28" fill="#00ff00"/>
<rect x="1218" y="448" width="3" height="20" fill="#00ff00"/>
<rect x="1223" y="466" width="1" height="6" fill="#00ff00"/>
<rect x="1222" y="466" width="3" height="1" fill="#00ff00"/>
<rect x="1227" y="452" width="1" height="19" fill="#ff0000"/>
<rect x="1226" y="457" width="3" height="14" fill="#ff0000"/>
<rect x="1231" y="452" width="1" height="30" fill="#00ff00"/>
<rect x="1230" y="457" width="3" height="18" fill="#00ff00"/>
<rect x="1235" y="470" width="1" height="15" fill="#00ff00"/>
<rect x="1234" y="475" width="3" height="2" fill="#00ff00"/>
<rect x="1239" y="470" width="1" height="22" fill="#00ff00"/>
<rect x="1238" y="473" width="3" height="9" fill="#00ff00"/>
<rect x="1243" y="442" width="1" height="43" fill="#ff0000"/>
<rect x="1242" y="445" width="3" height="37" fill="#ff0000"/>
<rect x="1247" y="442" width="1" height="9" fill="#ff0000"/>
<rect x="1246" y="442" width="3" height="4" fill="#ff0000"/>
<rect x="1251" y="422" width="1" height="24" fill="#ff0000"/>
<rect x="1250" y="423" width="3" height="22" fill="#ff0000"/>
<rect x="1255" y="416" width="1" height="29" fill="#00ff00"/>
<rect x="1254" y="421" width="3" height="20" fill="#00ff00"/>
<rect x="1259" y="422" width="1" height="23" fill="#00ff00"/>
<rect x="1258" y="423" width="3" height="9" fill="#00ff00"/>
<rect x="1263" y="410" width="1" height="28" fill="#ff0000"/>
<rect x="1262" y="427" width="3" height="7" fill="#ff0000"/>
<rect x="1267" y="417" width="1" height="43" fill="#00ff00"/>
<rect x="1266" y="427" width="3" height="31" fill="#00ff00"/>
<rect x="1271" y="457" width="1" height="11" fill="#00ff00"/>
<rect x="1270" y="457" width="3" height="6" fill="#00ff00"/>
<rect x="1275" y="463" width="1" height="19" fill="#00ff00"/>
<rect x="1274" y="466" width="3" height="10" fill="#00ff00"/>
<rect x="1279" y="465" width="1" height="16" fill="#00ff00"/>
<rect x="1278" y="474" width="3" height="1" fill="#00ff00"/>
<rect x="1283" y="474" width="1" height="17" fill="#00ff00"/>
<rect x="1282" y="475" width="3" height="10" fill="#00ff00"/>
<rect x="1287" y="470" width="1" height="20" fill="#ff0000"/>
<rect x="1286" y="479" width="3" height="6" fill="#ff0000"/>
<rect x="1291" y="462" width="1" height="36" fill="#ff0000"/>
<rect x="1290" y="462" width="3" height="18" fill="#ff0000"/>
<rect x="1295" y="462" width="1" height="8" fill="#00ff00"/>
<rect x="1294" y="462" width="3" height="7" fill="#00ff00"/>
<rect x="1299" y="426" width="1" height="56" fill="#ff0000"/>
<rect x="1298" y="430" width="3" height="38" fill="#ff0000"/>
<rect x="1303" y="416" width="1" height="18" fill="#ff0000"/>
<rect x="1302" y="421" width="3" height="9" fill="#ff0000"/>
<rect x="1307" y="396" width="1" height="28" fill="#ff0000"/>
<rect x="1306" y="417" width="3" height="4" fill="#ff0000"/>
<rect x="1311" y="405" width="1" height="14" fill="#ff0000"/>
<rect x="1310" y="412" width="3" height="6" fill="#ff0000"/>
<rect x="1315" y="400" width="1" height="54" fill="#00ff00"/>
<rect x="1314" y="412" width="3" height="38" fill="#00ff00"/>
<rect x="1319" y="441" width="1" height="7" fill="#ff0000"/>
<rect x="1318" y="443" width="3" height="4" fill="#ff0000"/>
<rect x="1323" y="426" width="1" height="18" fill="#ff0000"/>
<rect x="1322" y="430" width="3" height="12" fill="#ff0000"/>
<rect x="1327" y="414" width="1" height="30" fill="#ff0000"/>
<rect x="1326" y="415" width="3" height="15" fill="#ff0000"/>
<rect x="1331" y="410" width="1" height="15" fill="#00ff00"/>
<rect x="1330" y="416" width="3" height="4" fill="#00ff00"/>
<rect x="1335" y="366" width="1" height="55" fill="#ff0000"/>
<rect x="1334" y="395" width="3" height="25" fill="#ff0000"/>
<rect x="1339" y="332" width="1" height="74" fill="#ff0000"/>
<rect x="1338" y="349" width="3" height="46" fill="#ff0000"/>
<path d="M3 174h1v1h-1zM194 174h2v1h-2zM291 174h1v1h-1zM4 175h1v1h-1zM192 175h2v1h-2zM292 175h1v1h-1zM5 176h1v1h-1zM189 176h3v1h-3zM293 176h1v1h-1zM5 177h1v1h-1zM186 177h3v1h-3zM294 177h1v1h-1zM6 178h1v1h-1zM184 178h2v1h-2zM295 178h1v1h-1zM7 179h1v1h-1zM183 179h1v1h-1zM296 179h1v1h-1zM8 180h1v1h-1zM182 180h1v1h-1zM297 180h1v1h-1zM9 181h2v1h-2zM181 181h1v1h-1zM297 181h1v1h-1zM11 182h2v1h-2zM180 182h1v1h-1zM298 182h1v1h-1zM13 183h3v1h-3zM179 183h1v1h-1zM299 183h1v1h-1zM16 184h1v1h-1zM178 184h1v1h-1zM300 184h1v1h-1zM17 185h1v1h-1zM177 185h1v1h-1zM300 185h1v1h-1zM17 186h1v1h-1zM176 186h1v1h-1zM301 186h1v1h-1zM18 187h1v1h-1zM174 187h2v1h-2zM301 187h1v1h-1zM19 188h1v1h-1zM172 188h2v1h-2zM302 188h1v1h-1zM20 189h1v1h-1zM171 189h1v1h-1zM302 189h1v1h-1zM21 190h1v1h-1zM169 190h2v1h-2zM303 190h1v1h-1zM22 191h1v1h-1zM168 191h1v1h-1zM304 191h1v1h-1zM23 192h1v1h-1zM167 192h1v1h-1zM305 192h1v1h-1zM24 193h1v1h-1zM165 193h2v1h-2zM305 193h1v1h-1zM25 194h1v1h-1zM164 194h1v1h-1zM306 194h1v1h-1zM26 195h1v1h-1zM162 195h2v1h-2zM307 195h1v1h-1zM27 196h1v1h-1zM160 196h2v1h-2zM308 196h1v1h-1zM28 197h1v1h-1zM154 197h6v1h-6zM309 197h1v1h-1zM29 198h1v1h-1zM152 198h2v1h-2zM310 198h1v1h-1zM29 199h1v1h-1zM151 199h1v1h-1zM311 199h1v1h-1zM30 200h1v1h-1zM150 200h1v1h-1zM312 200h1v1h-1zM31 201h1v1h-1zM149 201h1v1h-1zM313 201h1v1h-1zM32 202h1v1h-1zM148 202h1v1h-1zM314 202h1v1h-1zM33 203h2v1h-2zM147 203h1v1h-1zM315 203h1v1h-1zM35 204h5v1h-5zM145 204h2v1h-2zM316 204h2v1h-2zM40 205h2v1h-2zM144 205h1v1h-1zM318 205h3v1h-3zM42 206h2v1h-2zM142 206h2v1h-2zM321 206h8v1h-8zM44 207h1v1h-1zM140 207h2v1h-2zM329 207h4v1h-4zM349 207h4v1h-4zM45 208h2v1h-2zM113 208h3v1h-3zM139 208h1v1h-1zM333 208h16v1h-16zM353 208h4v1h-4zM47 209h6v1h-6zM57 209h4v1h-4zM69 209h4v1h-4zM110 209h3v1h-3zM116 209h2v1h-2zM137 209h2v1h-2zM357 209h3v1h-3zM53 210h4v1h-4zM61 210h8v1h-8zM73 210h3v1h-3zM108 210h2v1h-2zM118 210h3v1h-3zM129 210h4v1h-4zM136 210h1v1h-1zM360 210h1v1h-1zM76 211h1v1h-1zM107 211h1v1h-1zM121 211h8v1h-8zM133 211h3v1h-3zM361 211h2v1h-2zM77 212h2v1h-2zM105 212h2v1h-2zM363 212h1v1h-1zM79 213h1v1h-1zM104 213h1v1h-1zM364 213h1v1h-1zM80 214h2v1h-2zM102 214h2v1h-2zM365 214h2v1h-2zM82 215h3v1h-3zM100 215h2v1h-2zM367 215h1v1h-1zM85 216h4v1h-4zM98 216h2v1h-2zM368 216h1v1h-1zM89 217h4v1h-4zM96 217h2v1h-2zM369 217h2v1h-2zM93 218h3v1h-3zM371 218h1v1h-1zM196 173h2v1h-2zM290 173h1v1h-1zM198 172h7v1h-7zM289 172h1v1h-1zM205 171h3v1h-3zM289 171h1v1h-1zM208 170h2v1h-2zM233 170h3v1h-3zM288 170h1v1h-1zM210 169h2v1h-2zM229 169h4v1h-4zM236 169h2v1h-2zM286 169h2v1h-2zM212 168h2v1h-2zM225 168h4v1h-4zM238 168h7v1h-7zM284 168h2v1h-2zM214 167h3v1h-3zM221 167h4v1h-4zM245 167h7v1h-7zM281 167h3v1h-3zM217 166h4v1h-4zM252 166h2v1h-2zM277 166h4v1h-4zM254 165h3v1h-3zM269 165h8v1h-8zM257 164h12v1h-12zM372 219h1v1h-1zM372 220h1v1h-1zM373 221h1v1h-1zM374 222h1v1h-1zM374 223h1v1h-1zM375 224h1v1h-1zM376 225h1v1h-1zM376 226h1v1h-1zM377 227h1v1h-1zM378 228h1v1h-1zM378 229h1v1h-1zM379 230h1v1h-1zM380 231h1v1h-1zM381 232h1v1h-1zM381 233h1v1h-1zM382 234h1v1h-1zM383 235h1v1h-1zM384 236h1v1h-1zM385 237h1v1h-1zM385 238h1v1h-1zM386 239h1v1h-1zM387 240h1v1h-1zM425 240h12v1h-12zM388 241h1v1h-1zM422 241h3v1h-3zM437 241h3v1h-3zM389 242h1v1h-1zM420 242h2v1h-2zM440 242h1v1h-1zM390 243h1v1h-1zM417 243h3v1h-3zM441 243h2v1h-2zM391 244h2v1h-2zM413 244h4v1h-4zM443 244h1v1h-1zM393 245h3v1h-3zM410 245h3v1h-3zM444 245h2v1h-2zM396 246h2v1h-2zM408 246h2v1h-2zM446 246h2v1h-2zM398 247h10v1h-10zM448 247h1v1h-1zM449 248h2v1h-2zM451 249h1v1h-1zM452 250h1v1h-1zM453 251h2v1h-2zM455 252h1v1h-1zM456 253h1v1h-1zM457 254h1v1h-1zM458 255h1v1h-1zM459 256h1v1h-1zM460 257h1v1h-1zM461 258h1v1h-1zM462 259h1v1h-1zM463 260h1v1h-1zM464 261h1v1h-1zM789 261h8v1h-8zM801 261h4v1h-4zM465 262h1v1h-1zM786 262h3v1h-3zM797 262h4v1h-4zM805 262h3v1h-3zM466 263h1v1h-1zM784 263h2v1h-2zM808 263h2v1h-2zM467 264h1v1h-1zM783 264h1v1h-1zM810 264h2v1h-2zM468 265h1v1h-1zM782 265h1v1h-1zM812 265h2v1h-2zM469 266h1v1h-1zM781 266h1v1h-1zM814 266h3v1h-3zM470 267h1v1h-1zM780 267h1v1h-1zM817 267h3v1h-3zM471 268h1v1h-1zM779 268h1v1h-1zM820 268h2v1h-2zM472 269h1v1h-1zM777 269h2v1h-2zM822 269h2v1h-2zM473 270h1v1h-1zM776 270h1v1h-1zM824 270h2v1h-2zM474 271h1v1h-1zM775 271h1v1h-1zM826 271h2v1h-2zM475 272h1v1h-1zM773 272h2v1h-2zM828 272h2v1h-2zM833 272h8v1h-8zM476 273h1v1h-1zM509 273h4v1h-4zM772 273h1v1h-1zM830 273h3v1h-3zM841 273h4v1h-4zM477 274h1v1h-1zM506 274h3v1h-3zM513 274h4v1h-4zM771 274h1v1h-1zM845 274h4v1h-4zM478 275h1v1h-1zM504 275h2v1h-2zM517 275h3v1h-3zM769 275h2v1h-2zM849 275h3v1h-3zM479 276h2v1h-2zM501 276h3v1h-3zM520 276h1v1h-1zM768 276h1v1h-1zM852 276h1v1h-1zM481 277h4v1h-4zM498 277h3v1h-3zM521 277h2v1h-2zM767 277h1v1h-1zM853 277h1v1h-1zM485 278h3v1h-3zM496 278h2v1h-2zM523 278h1v1h-1zM766 278h1v1h-1zM854 278h1v1h-1zM488 279h2v1h-2zM493 279h3v1h-3zM524 279h2v1h-2zM765 279h1v1h-1zM855 279h1v1h-1zM490 280h3v1h-3zM526 280h2v1h-2zM764 280h1v1h-1zM856 280h1v1h-1zM528 281h2v1h-2zM763 281h1v1h-1zM857 281h1v1h-1zM530 282h2v1h-2zM762 282h1v1h-1zM857 282h1v1h-1zM532 283h1v1h-1zM761 283h1v1h-1zM858 283h1v1h-1zM533 284h2v1h-2zM761 284h1v1h-1zM859 284h1v1h-1zM535 285h1v1h-1zM760 285h1v1h-1zM860 285h1v1h-1zM536 286h1v1h-1zM759 286h1v1h-1zM860 286h1v1h-1zM537 287h1v1h-1zM758 287h1v1h-1zM861 287h1v1h-1zM538 288h1v1h-1zM757 288h1v1h-1zM862 288h1v1h-1zM539 289h1v1h-1zM757 289h1v1h-1zM862 289h1v1h-1zM540 290h1v1h-1zM756 290h1v1h-1zM863 290h1v1h-1zM540 291h1v1h-1zM755 291h1v1h-1zM864 291h1v1h-1zM541 292h1v1h-1zM754 292h1v1h-1zM864 292h1v1h-1zM542 293h1v1h-1zM754 293h1v1h-1zM865 293h1v1h-1zM542 294h1v1h-1zM753 294h1v1h-1zM866 294h1v1h-1zM543 295h1v1h-1zM752 295h1v1h-1zM866 295h1v1h-1zM544 296h1v1h-1zM752 296h1v1h-1zM867 296h1v1h-1zM545 297h2v1h-2zM751 297h1v1h-1zM868 297h1v1h-1zM547 298h1v1h-1zM750 298h1v1h-1zM868 298h1v1h-1zM548 299h1v1h-1zM750 299h1v1h-1zM869 299h1v1h-1zM549 300h2v1h-2zM749 300h1v1h-1zM870 300h1v1h-1zM551 301h1v1h-1zM748 301h1v1h-1zM870 301h1v1h-1zM552 302h1v1h-1zM748 302h1v1h-1zM871 302h1v1h-1zM553 303h1v1h-1zM747 303h1v1h-1zM872 303h1v1h-1zM553 304h1v1h-1zM746 304h1v1h-1zM872 304h1v1h-1zM554 305h1v1h-1zM745 305h1v1h-1zM873 305h1v1h-1zM555 306h1v1h-1zM745 306h1v1h-1zM873 306h1v1h-1zM556 307h2v1h-2zM744 307h1v1h-1zM874 307h1v1h-1zM558 308h7v1h-7zM743 308h1v1h-1zM874 308h1v1h-1zM565 309h4v1h-4zM742 309h1v1h-1zM875 309h1v1h-1zM569 310h8v1h-8zM741 310h1v1h-1zM876 310h1v1h-1zM577 311h8v1h-8zM593 311h11v1h-11zM741 311h1v1h-1zM876 311h1v1h-1zM585 312h8v1h-8zM604 312h2v1h-2zM740 312h1v1h-1zM877 312h1v1h-1zM606 313h2v1h-2zM739 313h1v1h-1zM877 313h1v1h-1zM608 314h2v1h-2zM738 314h1v1h-1zM878 314h1v1h-1zM610 315h2v1h-2zM737 315h1v1h-1zM878 315h1v1h-1zM612 316h2v1h-2zM737 316h1v1h-1zM879 316h1v1h-1zM614 317h2v1h-2zM736 317h1v1h-1zM879 317h1v1h-1zM616 318h1v1h-1zM734 318h2v1h-2zM880 318h1v1h-1zM617 319h2v1h-2zM709 319h4v1h-4zM732 319h2v1h-2zM880 319h1v1h-1zM619 320h1v1h-1zM707 320h2v1h-2zM713 320h12v1h-12zM729 320h3v1h-3zM881 320h1v1h-1zM620 321h1v1h-1zM705 321h2v1h-2zM725 321h4v1h-4zM882 321h1v1h-1zM621 322h1v1h-1zM704 322h1v1h-1zM882 322h1v1h-1zM622 323h1v1h-1zM703 323h1v1h-1zM883 323h1v1h-1zM623 324h1v1h-1zM701 324h2v1h-2zM884 324h1v1h-1zM624 325h1v1h-1zM700 325h1v1h-1zM884 325h1v1h-1zM625 326h2v1h-2zM699 326h1v1h-1zM885 326h1v1h-1zM627 327h1v1h-1zM697 327h2v1h-2zM885 327h1v1h-1zM628 328h1v1h-1zM696 328h1v1h-1zM886 328h1v1h-1zM629 329h2v1h-2zM695 329h1v1h-1zM886 329h1v1h-1zM631 330h1v1h-1zM694 330h1v1h-1zM887 330h1v1h-1zM632 331h1v1h-1zM693 331h1v1h-1zM888 331h1v1h-1zM633 332h1v1h-1zM692 332h1v1h-1zM889 332h2v1h-2zM634 333h1v1h-1zM691 333h1v1h-1zM891 333h1v1h-1zM635 334h1v1h-1zM689 334h2v1h-2zM892 334h1v1h-1zM636 335h2v1h-2zM688 335h1v1h-1zM893 335h2v1h-2zM638 336h3v1h-3zM687 336h1v1h-1zM895 336h2v1h-2zM641 337h7v1h-7zM685 337h2v1h-2zM897 337h3v1h-3zM648 338h2v1h-2zM684 338h1v1h-1zM900 338h2v1h-2zM650 339h3v1h-3zM677 339h7v1h-7zM902 339h7v1h-7zM653 340h4v1h-4zM673 340h4v1h-4zM909 340h11v1h-11zM657 341h8v1h-8zM669 341h4v1h-4zM920 341h1v1h-1zM665 342h4v1h-4zM921 342h2v1h-2zM923 343h1v1h-1zM924 344h1v1h-1zM925 345h1v1h-1zM926 346h1v1h-1zM927 347h1v1h-1zM928 348h1v1h-1zM929 349h1v1h-1zM930 350h1v1h-1zM931 351h1v1h-1zM932 352h1v1h-1zM933 353h1v1h-1zM933 354h1v1h-1zM934 355h1v1h-1zM935 356h1v1h-1zM936 357h1v1h-1zM937 358h1v1h-1zM938 359h1v1h-1zM939 360h1v1h-1zM940 361h1v1h-1zM941 362h2v1h-2zM943 363h1v1h-1zM944 364h1v1h-1zM945 365h2v1h-2zM947 366h1v1h-1zM948 367h1v1h-1zM949 368h1v1h-1zM950 369h1v1h-1zM951 370h1v1h-1zM952 371h2v1h-2zM954 372h2v1h-2zM956 373h2v1h-2zM958 374h2v1h-2zM960 375h1v1h-1zM961 376h2v1h-2zM963 377h2v1h-2zM965 378h3v1h-3zM968 379h2v1h-2zM970 380h2v1h-2zM972 381h2v1h-2zM974 382h2v1h-2zM976 383h1v1h-1zM977 384h1v1h-1zM978 385h1v1h-1zM979 386h1v1h-1zM980 387h1v1h-1zM981 388h2v1h-2zM983 389h1v1h-1zM984 390h1v1h-1zM985 391h1v1h-1zM985 392h1v1h-1zM986 393h1v1h-1zM987 394h1v1h-1zM988 395h1v1h-1zM989 396h1v1h-1zM990 397h1v1h-1zM991 398h1v1h-1zM992 399h1v1h-1zM993 400h2v1h-2zM995 401h2v1h-2zM997 402h4v1h-4zM1001 403h3v1h-3zM1004 404h2v1h-2zM1006 405h2v1h-2zM1008 406h1v1h-1zM1009 407h1v1h-1zM1010 408h1v1h-1zM1011 409h1v1h-1zM1012 410h1v1h-1zM1013 411h1v1h-1zM1014 412h1v1h-1zM1015 413h1v1h-1zM1016 414h1v1h-1zM1016 415h1v1h-1zM1253 415h7v1h-7zM1017 416h1v1h-1zM1249 416h4v1h-4zM1260 416h2v1h-2zM1018 417h1v1h-1zM1233 417h4v1h-4zM1241 417h8v1h-8zM1262 417h2v1h-2zM1018 418h1v1h-1zM1230 418h3v1h-3zM1237 418h4v1h-4zM1264 418h1v1h-1zM1019 419h1v1h-1zM1228 419h2v1h-2zM1265 419h2v1h-2zM1020 420h2v1h-2zM1225 420h3v1h-3zM1267 420h1v1h-1zM1022 421h2v1h-2zM1221 421h4v1h-4zM1268 421h1v1h-1zM1024 422h1v1h-1zM1217 422h4v1h-4zM1269 422h2v1h-2zM1025 423h1v1h-1zM1214 423h3v1h-3zM1271 423h1v1h-1zM1026 424h1v1h-1zM1212 424h2v1h-2zM1272 424h1v1h-1zM1027 425h1v1h-1zM1211 425h1v1h-1zM1273 425h2v1h-2zM1028 426h1v1h-1zM1209 426h2v1h-2zM1275 426h1v1h-1zM1029 427h1v1h-1zM1208 427h1v1h-1zM1276 427h1v1h-1zM1030 428h1v1h-1zM1207 428h1v1h-1zM1277 428h1v1h-1zM1031 429h1v1h-1zM1206 429h1v1h-1zM1278 429h1v1h-1zM1032 430h1v1h-1zM1205 430h1v1h-1zM1279 430h1v1h-1zM1033 431h1v1h-1zM1204 431h1v1h-1zM1280 431h1v1h-1zM1033 432h1v1h-1zM1203 432h1v1h-1zM1281 432h2v1h-2zM1034 433h1v1h-1zM1202 433h1v1h-1zM1283 433h1v1h-1zM1035 434h1v1h-1zM1202 434h1v1h-1zM1284 434h2v1h-2zM1036 435h1v1h-1zM1201 435h1v1h-1zM1286 435h3v1h-3zM1037 436h2v1h-2zM1200 436h1v1h-1zM1289 436h3v1h-3zM1039 437h1v1h-1zM1200 437h1v1h-1zM1292 437h2v1h-2zM1040 438h2v1h-2zM1199 438h1v1h-1zM1294 438h7v1h-7zM1042 439h3v1h-3zM1198 439h1v1h-1zM1301 439h4v1h-4zM1045 440h3v1h-3zM1198 440h1v1h-1zM1305 440h3v1h-3zM1048 441h2v1h-2zM1197 441h1v1h-1zM1308 441h2v1h-2zM1050 442h2v1h-2zM1196 442h1v1h-1zM1310 442h2v1h-2zM1052 443h2v1h-2zM1196 443h1v1h-1zM1312 443h1v1h-1zM1339 443h1v1h-1zM1054 444h2v1h-2zM1195 444h1v1h-1zM1313 444h2v1h-2zM1338 444h1v1h-1zM1056 445h1v1h-1zM1194 445h1v1h-1zM1315 445h1v1h-1zM1337 445h1v1h-1zM1057 446h2v1h-2zM1193 446h1v1h-1zM1316 446h1v1h-1zM1336 446h1v1h-1zM1059 447h1v1h-1zM1193 447h1v1h-1zM1317 447h2v1h-2zM1334 447h2v1h-2zM1060 448h2v1h-2zM1192 448h1v1h-1zM1319 448h1v1h-1zM1332 448h2v1h-2zM1062 449h2v1h-2zM1191 449h1v1h-1zM1320 449h2v1h-2zM1325 449h7v1h-7zM1064 450h1v1h-1zM1190 450h1v1h-1zM1322 450h3v1h-3zM1065 451h1v1h-1zM1190 451h1v1h-1zM1066 452h1v1h-1zM1189 452h1v1h-1zM1067 453h1v1h-1zM1188 453h1v1h-1zM1068 454h1v1h-1zM1188 454h1v1h-1zM1069 455h1v1h-1zM1187 455h1v1h-1zM1070 456h1v1h-1zM1186 456h1v1h-1zM1071 457h1v1h-1zM1185 457h1v1h-1zM1072 458h1v1h-1zM1184 458h1v1h-1zM1073 459h1v1h-1zM1183 459h1v1h-1zM1073 460h1v1h-1zM1181 460h2v1h-2zM1074 461h1v1h-1zM1180 461h1v1h-1zM1075 462h1v1h-1zM1178 462h2v1h-2zM1076 463h1v1h-1zM1176 463h2v1h-2zM1077 464h1v1h-1zM1174 464h2v1h-2zM1077 465h1v1h-1zM1172 465h2v1h-2zM1078 466h1v1h-1zM1170 466h2v1h-2zM1079 467h1v1h-1zM1168 467h2v1h-2zM1080 468h1v1h-1zM1165 468h3v1h-3zM1081 469h1v1h-1zM1162 469h3v1h-3zM1081 470h1v1h-1zM1160 470h2v1h-2zM1082 471h1v1h-1zM1158 471h2v1h-2zM1083 472h1v1h-1zM1156 472h2v1h-2zM1084 473h1v1h-1zM1155 473h1v1h-1zM1085 474h1v1h-1zM1153 474h2v1h-2zM1086 475h1v1h-1zM1152 475h1v1h-1zM1087 476h1v1h-1zM1151 476h1v1h-1zM1088 477h1v1h-1zM1149 477h2v1h-2zM1089 478h2v1h-2zM1148 478h1v1h-1zM1091 479h1v1h-1zM1146 479h2v1h-2zM1092 480h2v1h-2zM1144 480h2v1h-2zM1094 481h3v1h-3zM1101 481h8v1h-8zM1141 481h3v1h-3zM1097 482h4v1h-4zM1109 482h4v1h-4zM1138 482h3v1h-3zM1113 483h16v1h-16zM1136 483h2v1h-2zM1129 484h7v1h-7z" fill="#0000cd"/>
<path d="M3 203h2v1h-2zM9 203h3v1h-3zM130 203h2v1h-2zM304 203h1v1h-1zM5 202h4v1h-4zM132 202h1v1h-1zM303 202h1v1h-1zM12 204h2v1h-2zM115 204h2v1h-2zM121 204h4v1h-4zM128 204h2v1h-2zM304 204h1v1h-1zM14 205h2v1h-2zM114 205h1v1h-1zM117 205h4v1h-4zM125 205h3v1h-3zM305 205h1v1h-1zM16 206h1v1h-1zM113 206h1v1h-1zM305 206h1v1h-1zM17 207h1v1h-1zM42 207h3v1h-3zM112 207h1v1h-1zM306 207h1v1h-1zM17 208h1v1h-1zM40 208h2v1h-2zM45 208h3v1h-3zM111 208h1v1h-1zM306 208h1v1h-1zM18 209h1v1h-1zM39 209h1v1h-1zM48 209h1v1h-1zM109 209h2v1h-2zM307 209h1v1h-1zM19 210h1v1h-1zM38 210h1v1h-1zM49 210h2v1h-2zM108 210h1v1h-1zM307 210h1v1h-1zM20 211h1v1h-1zM37 211h1v1h-1zM51 211h1v1h-1zM107 211h1v1h-1zM307 211h1v1h-1zM21 212h2v1h-2zM37 212h1v1h-1zM52 212h1v1h-1zM106 212h1v1h-1zM308 212h1v1h-1zM23 213h5v1h-5zM36 213h1v1h-1zM53 213h2v1h-2zM105 213h1v1h-1zM308 213h1v1h-1zM28 214h1v1h-1zM34 214h2v1h-2zM55 214h1v1h-1zM89 214h3v1h-3zM104 214h1v1h-1zM309 214h1v1h-1zM29 215h2v1h-2zM32 215h2v1h-2zM56 215h1v1h-1zM87 215h2v1h-2zM92 215h1v1h-1zM103 215h1v1h-1zM309 215h1v1h-1zM31 216h1v1h-1zM56 216h1v1h-1zM85 216h2v1h-2zM93 216h1v1h-1zM101 216h2v1h-2zM309 216h1v1h-1zM57 217h1v1h-1zM84 217h1v1h-1zM93 217h1v1h-1zM100 217h1v1h-1zM310 217h1v1h-1zM58 218h1v1h-1zM82 218h2v1h-2zM94 218h1v1h-1zM97 218h3v1h-3zM310 218h1v1h-1zM58 219h1v1h-1zM80 219h2v1h-2zM95 219h2v1h-2zM311 219h1v1h-1zM369 219h3v1h-3zM59 220h1v1h-1zM73 220h7v1h-7zM311 220h1v1h-1zM363 220h6v1h-6zM372 220h1v1h-1zM60 221h2v1h-2zM69 221h4v1h-4zM311 221h1v1h-1zM362 221h1v1h-1zM372 221h1v1h-1zM62 222h7v1h-7zM312 222h1v1h-1zM361 222h1v1h-1zM373 222h1v1h-1zM133 201h1v1h-1zM303 201h1v1h-1zM134 200h1v1h-1zM302 200h1v1h-1zM135 199h1v1h-1zM302 199h1v1h-1zM136 198h1v1h-1zM301 198h1v1h-1zM137 197h1v1h-1zM301 197h1v1h-1zM138 196h1v1h-1zM300 196h1v1h-1zM139 195h1v1h-1zM300 195h1v1h-1zM140 194h1v1h-1zM299 194h1v1h-1zM141 193h1v1h-1zM299 193h1v1h-1zM141 192h1v1h-1zM298 192h1v1h-1zM142 191h1v1h-1zM298 191h1v1h-1zM143 190h1v1h-1zM297 190h1v1h-1zM144 189h1v1h-1zM251 189h1v1h-1zM297 189h1v1h-1zM144 188h1v1h-1zM249 188h2v1h-2zM252 188h1v1h-1zM296 188h1v1h-1zM145 187h1v1h-1zM248 187h1v1h-1zM253 187h1v1h-1zM296 187h1v1h-1zM145 186h1v1h-1zM246 186h2v1h-2zM253 186h1v1h-1zM295 186h1v1h-1zM146 185h1v1h-1zM244 185h2v1h-2zM254 185h1v1h-1zM294 185h1v1h-1zM146 184h1v1h-1zM242 184h2v1h-2zM255 184h1v1h-1zM294 184h1v1h-1zM147 183h1v1h-1zM240 183h2v1h-2zM256 183h1v1h-1zM293 183h1v1h-1zM147 182h1v1h-1zM239 182h1v1h-1zM257 182h1v1h-1zM292 182h1v1h-1zM148 181h1v1h-1zM238 181h1v1h-1zM257 181h1v1h-1zM292 181h1v1h-1zM148 180h1v1h-1zM238 180h1v1h-1zM258 180h1v1h-1zM291 180h1v1h-1zM149 179h1v1h-1zM237 179h1v1h-1zM259 179h1v1h-1zM290 179h1v1h-1zM149 178h1v1h-1zM236 178h1v1h-1zM260 178h1v1h-1zM290 178h1v1h-1zM150 177h1v1h-1zM236 177h1v1h-1zM261 177h1v1h-1zM289 177h1v1h-1zM150 176h1v1h-1zM235 176h1v1h-1zM262 176h1v1h-1zM289 176h1v1h-1zM151 175h1v1h-1zM234 175h1v1h-1zM263 175h1v1h-1zM288 175h1v1h-1zM151 174h2v1h-2zM234 174h1v1h-1zM264 174h1v1h-1zM288 174h1v1h-1zM153 173h3v1h-3zM165 173h3v1h-3zM233 173h1v1h-1zM265 173h2v1h-2zM285 173h3v1h-3zM156 172h2v1h-2zM161 172h4v1h-4zM168 172h1v1h-1zM232 172h1v1h-1zM267 172h1v1h-1zM283 172h2v1h-2zM158 171h3v1h-3zM169 171h2v1h-2zM232 171h1v1h-1zM268 171h2v1h-2zM281 171h2v1h-2zM171 170h1v1h-1zM231 170h1v1h-1zM270 170h3v1h-3zM280 170h1v1h-1zM172 169h1v1h-1zM230 169h1v1h-1zM273 169h7v1h-7zM173 168h1v1h-1zM229 168h1v1h-1zM174 167h1v1h-1zM229 167h1v1h-1zM175 166h1v1h-1zM228 166h1v1h-1zM176 165h1v1h-1zM227 165h1v1h-1zM177 164h1v1h-1zM226 164h1v1h-1zM177 163h1v1h-1zM225 163h1v1h-1zM178 162h1v1h-1zM225 162h1v1h-1zM179 161h1v1h-1zM224 161h1v1h-1zM180 160h1v1h-1zM222 160h2v1h-2zM180 159h1v1h-1zM220 159h2v1h-2zM181 158h1v1h-1zM218 158h2v1h-2zM181 157h1v1h-1zM216 157h2v1h-2zM182 156h1v1h-1zM214 156h2v1h-2zM182 155h1v1h-1zM207 155h2v1h-2zM212 155h2v1h-2zM183 154h1v1h-1zM206 154h1v1h-1zM209 154h3v1h-3zM184 153h1v1h-1zM205 153h1v1h-1zM185 152h1v1h-1zM204 152h1v1h-1zM186 151h1v1h-1zM203 151h1v1h-1zM187 150h1v1h-1zM201 150h2v1h-2zM188 149h1v1h-1zM200 149h1v1h-1zM189 148h2v1h-2zM199 148h1v1h-1zM191 147h1v1h-1zM197 147h2v1h-2zM192 146h2v1h-2zM196 146h1v1h-1zM194 145h2v1h-2zM312 223h1v1h-1zM360 223h1v1h-1zM374 223h1v1h-1zM313 224h1v1h-1zM359 224h1v1h-1zM374 224h1v1h-1zM313 225h1v1h-1zM358 225h1v1h-1zM375 225h1v1h-1zM314 226h1v1h-1zM357 226h1v1h-1zM376 226h1v1h-1zM314 227h1v1h-1zM356 227h1v1h-1zM376 227h1v1h-1zM315 228h1v1h-1zM355 228h1v1h-1zM377 228h1v1h-1zM315 229h1v1h-1zM354 229h1v1h-1zM378 229h1v1h-1zM316 230h1v1h-1zM353 230h1v1h-1zM378 230h1v1h-1zM316 231h1v1h-1zM353 231h1v1h-1zM379 231h1v1h-1zM783 231h5v1h-5zM317 232h1v1h-1zM352 232h1v1h-1zM380 232h1v1h-1zM782 232h1v1h-1zM788 232h1v1h-1zM317 233h1v1h-1zM351 233h1v1h-1zM380 233h1v1h-1zM781 233h1v1h-1zM789 233h2v1h-2zM318 234h1v1h-1zM350 234h1v1h-1zM381 234h1v1h-1zM781 234h1v1h-1zM791 234h1v1h-1zM318 235h1v1h-1zM349 235h1v1h-1zM382 235h1v1h-1zM780 235h1v1h-1zM792 235h1v1h-1zM319 236h1v1h-1zM349 236h1v1h-1zM382 236h1v1h-1zM778 236h2v1h-2zM792 236h1v1h-1zM320 237h1v1h-1zM348 237h1v1h-1zM383 237h1v1h-1zM776 237h2v1h-2zM793 237h1v1h-1zM321 238h1v1h-1zM347 238h1v1h-1zM384 238h1v1h-1zM775 238h1v1h-1zM793 238h1v1h-1zM322 239h1v1h-1zM346 239h1v1h-1zM384 239h1v1h-1zM774 239h1v1h-1zM794 239h1v1h-1zM323 240h1v1h-1zM346 240h1v1h-1zM385 240h1v1h-1zM773 240h1v1h-1zM794 240h1v1h-1zM324 241h1v1h-1zM345 241h1v1h-1zM386 241h1v1h-1zM773 241h1v1h-1zM795 241h1v1h-1zM325 242h1v1h-1zM344 242h1v1h-1zM386 242h1v1h-1zM772 242h1v1h-1zM795 242h1v1h-1zM326 243h1v1h-1zM344 243h1v1h-1zM387 243h1v1h-1zM771 243h1v1h-1zM796 243h1v1h-1zM327 244h1v1h-1zM342 244h2v1h-2zM388 244h1v1h-1zM770 244h1v1h-1zM796 244h1v1h-1zM328 245h2v1h-2zM340 245h2v1h-2zM389 245h2v1h-2zM769 245h1v1h-1zM797 245h1v1h-1zM330 246h3v1h-3zM337 246h3v1h-3zM391 246h1v1h-1zM769 246h1v1h-1zM797 246h1v1h-1zM333 247h4v1h-4zM392 247h2v1h-2zM442 247h2v1h-2zM768 247h1v1h-1zM798 247h1v1h-1zM394 248h2v1h-2zM440 248h2v1h-2zM444 248h2v1h-2zM767 248h1v1h-1zM798 248h1v1h-1zM396 249h1v1h-1zM438 249h2v1h-2zM446 249h2v1h-2zM766 249h1v1h-1zM799 249h1v1h-1zM397 250h2v1h-2zM436 250h2v1h-2zM448 250h1v1h-1zM766 250h1v1h-1zM799 250h1v1h-1zM399 251h1v1h-1zM435 251h1v1h-1zM449 251h1v1h-1zM765 251h1v1h-1zM800 251h1v1h-1zM400 252h1v1h-1zM434 252h1v1h-1zM449 252h1v1h-1zM764 252h1v1h-1zM800 252h1v1h-1zM401 253h2v1h-2zM433 253h1v1h-1zM450 253h1v1h-1zM764 253h1v1h-1zM801 253h1v1h-1zM403 254h1v1h-1zM432 254h1v1h-1zM451 254h1v1h-1zM763 254h1v1h-1zM801 254h1v1h-1zM404 255h1v1h-1zM431 255h1v1h-1zM452 255h1v1h-1zM762 255h1v1h-1zM802 255h1v1h-1zM405 256h1v1h-1zM430 256h1v1h-1zM453 256h1v1h-1zM761 256h1v1h-1zM802 256h1v1h-1zM406 257h1v1h-1zM423 257h1v1h-1zM429 257h1v1h-1zM453 257h1v1h-1zM760 257h1v1h-1zM803 257h1v1h-1zM407 258h1v1h-1zM421 258h2v1h-2zM424 258h2v1h-2zM428 258h1v1h-1zM454 258h1v1h-1zM759 258h1v1h-1zM804 258h1v1h-1zM408 259h1v1h-1zM420 259h1v1h-1zM426 259h2v1h-2zM455 259h1v1h-1zM757 259h2v1h-2zM804 259h1v1h-1zM409 260h2v1h-2zM417 260h3v1h-3zM456 260h1v1h-1zM756 260h1v1h-1zM805 260h1v1h-1zM411 261h6v1h-6zM456 261h1v1h-1zM755 261h1v1h-1zM805 261h1v1h-1zM457 262h1v1h-1zM754 262h1v1h-1zM806 262h1v1h-1zM458 263h1v1h-1zM753 263h1v1h-1zM806 263h1v1h-1zM458 264h1v1h-1zM752 264h1v1h-1zM807 264h1v1h-1zM459 265h1v1h-1zM750 265h2v1h-2zM808 265h1v1h-1zM460 266h1v1h-1zM748 266h2v1h-2zM808 266h1v1h-1zM460 267h1v1h-1zM747 267h1v1h-1zM809 267h1v1h-1zM461 268h1v1h-1zM746 268h1v1h-1zM809 268h1v1h-1zM461 269h1v1h-1zM745 269h1v1h-1zM810 269h1v1h-1zM462 270h1v1h-1zM744 270h1v1h-1zM810 270h1v1h-1zM462 271h1v1h-1zM743 271h1v1h-1zM811 271h1v1h-1zM463 272h1v1h-1zM742 272h1v1h-1zM812 272h1v1h-1zM464 273h1v1h-1zM741 273h1v1h-1zM813 273h1v1h-1zM465 274h1v1h-1zM740 274h1v1h-1zM813 274h1v1h-1zM465 275h1v1h-1zM739 275h1v1h-1zM814 275h1v1h-1zM466 276h1v1h-1zM738 276h1v1h-1zM815 276h1v1h-1zM467 277h1v1h-1zM737 277h1v1h-1zM816 277h1v1h-1zM468 278h1v1h-1zM737 278h1v1h-1zM816 278h1v1h-1zM468 279h1v1h-1zM736 279h1v1h-1zM817 279h1v1h-1zM469 280h1v1h-1zM734 280h2v1h-2zM817 280h1v1h-1zM469 281h1v1h-1zM530 281h6v1h-6zM732 281h2v1h-2zM818 281h1v1h-1zM470 282h1v1h-1zM528 282h2v1h-2zM536 282h1v1h-1zM729 282h3v1h-3zM818 282h1v1h-1zM470 283h1v1h-1zM525 283h3v1h-3zM537 283h1v1h-1zM725 283h4v1h-4zM819 283h1v1h-1zM471 284h1v1h-1zM518 284h7v1h-7zM538 284h1v1h-1zM723 284h2v1h-2zM819 284h1v1h-1zM472 285h1v1h-1zM516 285h2v1h-2zM539 285h1v1h-1zM722 285h1v1h-1zM820 285h1v1h-1zM472 286h1v1h-1zM515 286h1v1h-1zM540 286h1v1h-1zM721 286h1v1h-1zM820 286h1v1h-1zM473 287h1v1h-1zM514 287h1v1h-1zM540 287h1v1h-1zM720 287h1v1h-1zM821 287h1v1h-1zM473 288h1v1h-1zM513 288h1v1h-1zM541 288h1v1h-1zM719 288h1v1h-1zM821 288h1v1h-1zM474 289h1v1h-1zM513 289h1v1h-1zM541 289h1v1h-1zM718 289h1v1h-1zM822 289h1v1h-1zM474 290h1v1h-1zM512 290h1v1h-1zM542 290h1v1h-1zM717 290h1v1h-1zM822 290h1v1h-1zM475 291h1v1h-1zM511 291h1v1h-1zM542 291h1v1h-1zM716 291h1v1h-1zM823 291h1v1h-1zM475 292h1v1h-1zM510 292h1v1h-1zM543 292h1v1h-1zM715 292h1v1h-1zM823 292h1v1h-1zM476 293h1v1h-1zM509 293h1v1h-1zM544 293h1v1h-1zM714 293h1v1h-1zM824 293h1v1h-1zM476 294h1v1h-1zM508 294h1v1h-1zM544 294h1v1h-1zM713 294h1v1h-1zM825 294h1v1h-1zM477 295h1v1h-1zM507 295h1v1h-1zM545 295h1v1h-1zM712 295h1v1h-1zM826 295h1v1h-1zM477 296h1v1h-1zM506 296h1v1h-1zM546 296h1v1h-1zM711 296h1v1h-1zM827 296h1v1h-1zM478 297h1v1h-1zM505 297h1v1h-1zM546 297h1v1h-1zM710 297h1v1h-1zM828 297h1v1h-1zM478 298h1v1h-1zM505 298h1v1h-1zM547 298h1v1h-1zM710 298h1v1h-1zM829 298h1v1h-1zM479 299h1v1h-1zM504 299h1v1h-1zM548 299h1v1h-1zM709 299h1v1h-1zM830 299h1v1h-1zM480 300h2v1h-2zM503 300h1v1h-1zM548 300h1v1h-1zM708 300h1v1h-1zM831 300h1v1h-1zM482 301h3v1h-3zM501 301h2v1h-2zM549 301h1v1h-1zM708 301h1v1h-1zM832 301h1v1h-1zM485 302h3v1h-3zM500 302h1v1h-1zM550 302h1v1h-1zM707 302h1v1h-1zM833 302h2v1h-2zM488 303h1v1h-1zM499 303h1v1h-1zM550 303h1v1h-1zM706 303h1v1h-1zM835 303h1v1h-1zM489 304h2v1h-2zM497 304h2v1h-2zM551 304h1v1h-1zM706 304h1v1h-1zM836 304h1v1h-1zM491 305h2v1h-2zM496 305h1v1h-1zM552 305h1v1h-1zM705 305h1v1h-1zM837 305h2v1h-2zM493 306h3v1h-3zM552 306h1v1h-1zM704 306h1v1h-1zM839 306h5v1h-5zM553 307h1v1h-1zM704 307h1v1h-1zM844 307h1v1h-1zM553 308h1v1h-1zM703 308h1v1h-1zM845 308h1v1h-1zM554 309h1v1h-1zM702 309h1v1h-1zM846 309h1v1h-1zM554 310h1v1h-1zM702 310h1v1h-1zM847 310h1v1h-1zM555 311h1v1h-1zM701 311h1v1h-1zM848 311h1v1h-1zM555 312h1v1h-1zM700 312h1v1h-1zM849 312h2v1h-2zM556 313h1v1h-1zM700 313h1v1h-1zM851 313h1v1h-1zM557 314h1v1h-1zM699 314h1v1h-1zM852 314h1v1h-1zM557 315h1v1h-1zM698 315h1v1h-1zM853 315h2v1h-2zM558 316h1v1h-1zM698 316h1v1h-1zM855 316h1v1h-1zM559 317h1v1h-1zM697 317h1v1h-1zM856 317h1v1h-1zM560 318h1v1h-1zM696 318h1v1h-1zM856 318h1v1h-1zM561 319h2v1h-2zM696 319h1v1h-1zM857 319h1v1h-1zM563 320h1v1h-1zM695 320h1v1h-1zM857 320h1v1h-1zM564 321h1v1h-1zM695 321h1v1h-1zM858 321h1v1h-1zM564 322h1v1h-1zM694 322h1v1h-1zM858 322h1v1h-1zM565 323h1v1h-1zM694 323h1v1h-1zM859 323h1v1h-1zM566 324h1v1h-1zM693 324h1v1h-1zM859 324h1v1h-1zM566 325h1v1h-1zM610 325h3v1h-3zM693 325h1v1h-1zM860 325h1v1h-1zM567 326h1v1h-1zM608 326h2v1h-2zM613 326h3v1h-3zM692 326h1v1h-1zM860 326h1v1h-1zM568 327h1v1h-1zM606 327h2v1h-2zM616 327h1v1h-1zM692 327h1v1h-1zM861 327h1v1h-1zM568 328h1v1h-1zM604 328h2v1h-2zM617 328h1v1h-1zM691 328h1v1h-1zM861 328h1v1h-1zM569 329h1v1h-1zM603 329h1v1h-1zM618 329h1v1h-1zM691 329h1v1h-1zM862 329h1v1h-1zM570 330h1v1h-1zM602 330h1v1h-1zM619 330h2v1h-2zM691 330h1v1h-1zM862 330h1v1h-1zM570 331h1v1h-1zM601 331h1v1h-1zM621 331h4v1h-4zM690 331h1v1h-1zM863 331h1v1h-1zM571 332h1v1h-1zM601 332h1v1h-1zM625 332h3v1h-3zM690 332h1v1h-1zM864 332h1v1h-1zM572 333h2v1h-2zM600 333h1v1h-1zM628 333h2v1h-2zM689 333h1v1h-1zM864 333h1v1h-1zM574 334h2v1h-2zM599 334h1v1h-1zM630 334h2v1h-2zM689 334h1v1h-1zM865 334h1v1h-1zM576 335h2v1h-2zM598 335h1v1h-1zM632 335h2v1h-2zM688 335h1v1h-1zM866 335h1v1h-1zM578 336h2v1h-2zM597 336h1v1h-1zM634 336h3v1h-3zM688 336h1v1h-1zM866 336h1v1h-1zM580 337h1v1h-1zM597 337h1v1h-1zM637 337h8v1h-8zM687 337h1v1h-1zM867 337h1v1h-1zM581 338h2v1h-2zM596 338h1v1h-1zM645 338h3v1h-3zM687 338h1v1h-1zM868 338h1v1h-1zM583 339h1v1h-1zM594 339h2v1h-2zM648 339h1v1h-1zM687 339h1v1h-1zM868 339h1v1h-1zM584 340h1v1h-1zM592 340h2v1h-2zM649 340h2v1h-2zM686 340h1v1h-1zM869 340h1v1h-1zM585 341h2v1h-2zM589 341h3v1h-3zM651 341h1v1h-1zM686 341h1v1h-1zM869 341h1v1h-1zM587 342h2v1h-2zM652 342h1v1h-1zM685 342h1v1h-1zM870 342h1v1h-1zM653 343h2v1h-2zM685 343h1v1h-1zM870 343h1v1h-1zM655 344h1v1h-1zM684 344h1v1h-1zM871 344h1v1h-1zM656 345h1v1h-1zM684 345h1v1h-1zM872 345h1v1h-1zM657 346h1v1h-1zM683 346h1v1h-1zM872 346h1v1h-1zM657 347h1v1h-1zM682 347h1v1h-1zM873 347h1v1h-1zM658 348h1v1h-1zM681 348h1v1h-1zM873 348h1v1h-1zM659 349h1v1h-1zM680 349h1v1h-1zM874 349h1v1h-1zM660 350h1v1h-1zM679 350h1v1h-1zM874 350h1v1h-1zM661 351h1v1h-1zM677 351h2v1h-2zM875 351h1v1h-1zM662 352h1v1h-1zM676 352h1v1h-1zM876 352h1v1h-1zM663 353h1v1h-1zM674 353h2v1h-2zM876 353h1v1h-1zM664 354h2v1h-2zM672 354h2v1h-2zM877 354h1v1h-1zM666 355h6v1h-6zM877 355h1v1h-1zM878 356h1v1h-1zM878 357h1v1h-1zM919 357h5v1h-5zM879 358h1v1h-1zM917 358h2v1h-2zM924 358h1v1h-1zM879 359h1v1h-1zM916 359h1v1h-1zM925 359h2v1h-2zM880 360h1v1h-1zM915 360h1v1h-1zM927 360h1v1h-1zM934 360h3v1h-3zM880 361h1v1h-1zM914 361h1v1h-1zM928 361h2v1h-2zM932 361h2v1h-2zM937 361h4v1h-4zM881 362h1v1h-1zM913 362h1v1h-1zM930 362h2v1h-2zM941 362h3v1h-3zM882 363h1v1h-1zM913 363h1v1h-1zM944 363h1v1h-1zM882 364h1v1h-1zM912 364h1v1h-1zM945 364h1v1h-1zM883 365h1v1h-1zM911 365h1v1h-1zM945 365h1v1h-1zM884 366h1v1h-1zM909 366h2v1h-2zM946 366h1v1h-1zM884 367h1v1h-1zM908 367h1v1h-1zM947 367h1v1h-1zM885 368h1v1h-1zM907 368h1v1h-1zM948 368h1v1h-1zM885 369h1v1h-1zM906 369h1v1h-1zM948 369h1v1h-1zM886 370h1v1h-1zM905 370h1v1h-1zM949 370h1v1h-1zM886 371h1v1h-1zM904 371h1v1h-1zM950 371h1v1h-1zM887 372h2v1h-2zM901 372h3v1h-3zM950 372h1v1h-1zM889 373h4v1h-4zM897 373h4v1h-4zM951 373h1v1h-1zM893 374h4v1h-4zM952 374h1v1h-1zM953 375h1v1h-1zM953 376h1v1h-1zM954 377h1v1h-1zM955 378h1v1h-1zM956 379h1v1h-1zM957 380h2v1h-2zM959 381h1v1h-1zM960 382h1v1h-1zM960 383h1v1h-1zM961 384h1v1h-1zM962 385h1v1h-1zM962 386h1v1h-1zM1198 386h6v1h-6zM963 387h1v1h-1zM1196 387h2v1h-2zM1204 387h1v1h-1zM964 388h1v1h-1zM1195 388h1v1h-1zM1205 388h1v1h-1zM964 389h1v1h-1zM1194 389h1v1h-1zM1205 389h1v1h-1zM965 390h1v1h-1zM1193 390h1v1h-1zM1206 390h1v1h-1zM966 391h1v1h-1zM1193 391h1v1h-1zM1207 391h1v1h-1zM966 392h1v1h-1zM1192 392h1v1h-1zM1208 392h1v1h-1zM967 393h1v1h-1zM1191 393h1v1h-1zM1209 393h2v1h-2zM968 394h1v1h-1zM1190 394h1v1h-1zM1211 394h1v1h-1zM968 395h1v1h-1zM1190 395h1v1h-1zM1212 395h1v1h-1zM969 396h1v1h-1zM1189 396h1v1h-1zM1213 396h1v1h-1zM969 397h1v1h-1zM1188 397h1v1h-1zM1213 397h1v1h-1zM970 398h1v1h-1zM1188 398h1v1h-1zM1214 398h1v1h-1zM970 399h1v1h-1zM1187 399h1v1h-1zM1215 399h1v1h-1zM971 400h1v1h-1zM1186 400h1v1h-1zM1216 400h1v1h-1zM972 401h1v1h-1zM1185 401h1v1h-1zM1216 401h1v1h-1zM972 402h1v1h-1zM1185 402h1v1h-1zM1217 402h1v1h-1zM973 403h1v1h-1zM1184 403h1v1h-1zM1218 403h1v1h-1zM974 404h1v1h-1zM1183 404h1v1h-1zM1218 404h1v1h-1zM974 405h1v1h-1zM1182 405h1v1h-1zM1219 405h1v1h-1zM975 406h1v1h-1zM1181 406h1v1h-1zM1220 406h1v1h-1zM975 407h1v1h-1zM1180 407h1v1h-1zM1221 407h1v1h-1zM976 408h1v1h-1zM1179 408h1v1h-1zM1222 408h1v1h-1zM976 409h1v1h-1zM1177 409h2v1h-2zM1223 409h1v1h-1zM977 410h1v1h-1zM1176 410h1v1h-1zM1224 410h2v1h-2zM977 411h1v1h-1zM1175 411h1v1h-1zM1226 411h2v1h-2zM978 412h1v1h-1zM1174 412h1v1h-1zM1228 412h1v1h-1zM978 413h1v1h-1zM1173 413h1v1h-1zM1229 413h1v1h-1zM979 414h1v1h-1zM1172 414h1v1h-1zM1230 414h1v1h-1zM979 415h1v1h-1zM1171 415h1v1h-1zM1231 415h1v1h-1zM980 416h1v1h-1zM1170 416h1v1h-1zM1232 416h1v1h-1zM980 417h1v1h-1zM1170 417h1v1h-1zM1233 417h1v1h-1zM981 418h1v1h-1zM1169 418h1v1h-1zM1233 418h1v1h-1zM982 419h1v1h-1zM1168 419h1v1h-1zM1234 419h1v1h-1zM982 420h1v1h-1zM1168 420h1v1h-1zM1235 420h1v1h-1zM983 421h1v1h-1zM1167 421h1v1h-1zM1236 421h1v1h-1zM984 422h1v1h-1zM1167 422h1v1h-1zM1236 422h1v1h-1zM984 423h1v1h-1zM1166 423h1v1h-1zM1237 423h1v1h-1zM985 424h1v1h-1zM1166 424h1v1h-1zM1238 424h1v1h-1zM985 425h1v1h-1zM1165 425h1v1h-1zM1238 425h1v1h-1zM986 426h1v1h-1zM1165 426h1v1h-1zM1239 426h1v1h-1zM986 427h1v1h-1zM1164 427h1v1h-1zM1240 427h1v1h-1zM987 428h1v1h-1zM1164 428h1v1h-1zM1241 428h1v1h-1zM1339 428h1v1h-1zM988 429h1v1h-1zM1163 429h1v1h-1zM1242 429h1v1h-1zM1339 429h1v1h-1zM988 430h1v1h-1zM1162 430h1v1h-1zM1243 430h1v1h-1zM1338 430h1v1h-1zM989 431h1v1h-1zM1162 431h1v1h-1zM1244 431h1v1h-1zM1338 431h1v1h-1zM989 432h1v1h-1zM1161 432h1v1h-1zM1245 432h1v1h-1zM1337 432h1v1h-1zM990 433h1v1h-1zM1161 433h1v1h-1zM1245 433h1v1h-1zM1337 433h1v1h-1zM990 434h1v1h-1zM1160 434h1v1h-1zM1246 434h1v1h-1zM1336 434h1v1h-1zM991 435h1v1h-1zM1160 435h1v1h-1zM1247 435h1v1h-1zM1336 435h1v1h-1zM992 436h1v1h-1zM1159 436h1v1h-1zM1248 436h1v1h-1zM1335 436h1v1h-1zM993 437h2v1h-2zM1159 437h1v1h-1zM1249 437h1v1h-1zM1335 437h1v1h-1zM995 438h1v1h-1zM1158 438h1v1h-1zM1249 438h1v1h-1zM1334 438h1v1h-1zM996 439h1v1h-1zM1158 439h1v1h-1zM1250 439h1v1h-1zM1334 439h1v1h-1zM997 440h1v1h-1zM1157 440h1v1h-1zM1251 440h1v1h-1zM1333 440h1v1h-1zM998 441h1v1h-1zM1157 441h1v1h-1zM1252 441h1v1h-1zM1332 441h1v1h-1zM999 442h1v1h-1zM1156 442h1v1h-1zM1252 442h1v1h-1zM1332 442h1v1h-1zM1000 443h1v1h-1zM1156 443h1v1h-1zM1253 443h1v1h-1zM1331 443h1v1h-1zM1001 444h2v1h-2zM1155 444h1v1h-1zM1254 444h1v1h-1zM1330 444h1v1h-1zM1003 445h1v1h-1zM1155 445h1v1h-1zM1254 445h1v1h-1zM1329 445h1v1h-1zM1004 446h1v1h-1zM1155 446h1v1h-1zM1255 446h1v1h-1zM1328 446h1v1h-1zM1005 447h2v1h-2zM1154 447h1v1h-1zM1256 447h1v1h-1zM1327 447h1v1h-1zM1007 448h1v1h-1zM1154 448h1v1h-1zM1257 448h1v1h-1zM1325 448h2v1h-2zM1008 449h1v1h-1zM1153 449h1v1h-1zM1258 449h1v1h-1zM1324 449h1v1h-1zM1009 450h1v1h-1zM1047 450h2v1h-2zM1153 450h1v1h-1zM1259 450h5v1h-5zM1310 450h3v1h-3zM1322 450h2v1h-2zM1009 451h1v1h-1zM1046 451h1v1h-1zM1049 451h4v1h-4zM1152 451h1v1h-1zM1264 451h2v1h-2zM1308 451h2v1h-2zM1313 451h4v1h-4zM1320 451h2v1h-2zM1010 452h1v1h-1zM1045 452h1v1h-1zM1053 452h3v1h-3zM1152 452h1v1h-1zM1266 452h3v1h-3zM1302 452h6v1h-6zM1317 452h3v1h-3zM1011 453h1v1h-1zM1044 453h1v1h-1zM1056 453h1v1h-1zM1151 453h1v1h-1zM1269 453h4v1h-4zM1300 453h2v1h-2zM1012 454h1v1h-1zM1043 454h1v1h-1zM1057 454h2v1h-2zM1151 454h1v1h-1zM1273 454h4v1h-4zM1297 454h3v1h-3zM1013 455h1v1h-1zM1042 455h1v1h-1zM1059 455h5v1h-5zM1151 455h1v1h-1zM1277 455h4v1h-4zM1293 455h4v1h-4zM1013 456h1v1h-1zM1041 456h1v1h-1zM1064 456h1v1h-1zM1150 456h1v1h-1zM1281 456h4v1h-4zM1289 456h4v1h-4zM1014 457h1v1h-1zM1041 457h1v1h-1zM1064 457h1v1h-1zM1150 457h1v1h-1zM1285 457h4v1h-4zM1015 458h1v1h-1zM1040 458h1v1h-1zM1065 458h1v1h-1zM1149 458h1v1h-1zM1016 459h1v1h-1zM1039 459h1v1h-1zM1066 459h1v1h-1zM1149 459h1v1h-1zM1017 460h1v1h-1zM1038 460h1v1h-1zM1066 460h1v1h-1zM1148 460h1v1h-1zM1017 461h1v1h-1zM1037 461h1v1h-1zM1067 461h1v1h-1zM1148 461h1v1h-1zM1018 462h1v1h-1zM1036 462h1v1h-1zM1068 462h1v1h-1zM1147 462h1v1h-1zM1019 463h2v1h-2zM1033 463h3v1h-3zM1068 463h1v1h-1zM1147 463h1v1h-1zM1021 464h4v1h-4zM1029 464h4v1h-4zM1069 464h1v1h-1zM1147 464h1v1h-1zM1025 465h4v1h-4zM1070 465h1v1h-1zM1146 465h1v1h-1zM1070 466h1v1h-1zM1146 466h1v1h-1zM1071 467h1v1h-1zM1146 467h1v1h-1zM1072 468h1v1h-1zM1145 468h1v1h-1zM1073 469h2v1h-2zM1145 469h1v1h-1zM1075 470h1v1h-1zM1144 470h1v1h-1zM1076 471h1v1h-1zM1144 471h1v1h-1zM1076 472h1v1h-1zM1144 472h1v1h-1zM1077 473h1v1h-1zM1143 473h1v1h-1zM1077 474h1v1h-1zM1143 474h1v1h-1zM1078 475h1v1h-1zM1143 475h1v1h-1zM1078 476h1v1h-1zM1142 476h1v1h-1zM1079 477h1v1h-1zM1142 477h1v1h-1zM1079 478h1v1h-1zM1142 478h1v1h-1zM1079 479h1v1h-1zM1141 479h1v1h-1zM1080 480h1v1h-1zM1141 480h1v1h-1zM1080 481h1v1h-1zM1140 481h1v1h-1zM1081 482h1v1h-1zM1140 482h1v1h-1zM1081 483h1v1h-1zM1140 483h1v1h-1zM1082 484h1v1h-1zM1139 484h1v1h-1zM1082 485h1v1h-1zM1139 485h1v1h-1zM1083 486h1v1h-1zM1139 486h1v1h-1zM1083 487h1v1h-1zM1138 487h1v1h-1zM1084 488h1v1h-1zM1138 488h1v1h-1zM1084 489h1v1h-1zM1137 489h1v1h-1zM1085 490h1v1h-1zM1137 490h1v1h-1zM1085 491h1v1h-1zM1136 491h1v1h-1zM1086 492h1v1h-1zM1136 492h1v1h-1zM1086 493h1v1h-1zM1135 493h1v1h-1zM1087 494h1v1h-1zM1135 494h1v1h-1zM1088 495h1v1h-1zM1134 495h1v1h-1zM1089 496h1v1h-1zM1134 496h1v1h-1zM1090 497h1v1h-1zM1133 497h1v1h-1zM1091 498h1v1h-1zM1132 498h1v1h-1zM1092 499h1v1h-1zM1132 499h1v1h-1zM1093 500h2v1h-2zM1131 500h1v1h-1zM1095 501h1v1h-1zM1130 501h1v1h-1zM1096 502h1v1h-1zM1129 502h1v1h-1zM1097 503h1v1h-1zM1128 503h1v1h-1zM1097 504h1v1h-1zM1127 504h1v1h-1zM1098 505h1v1h-1zM1126 505h1v1h-1zM1099 506h1v1h-1zM1126 506h1v1h-1zM1100 507h1v1h-1zM1125 507h1v1h-1zM1101 508h2v1h-2zM1124 508h1v1h-1zM1103 509h1v1h-1zM1124 509h1v1h-1zM1104 510h2v1h-2zM1123 510h1v1h-1zM1106 511h2v1h-2zM1122 511h1v1h-1zM1108 512h1v1h-1zM1121 512h1v1h-1zM1109 513h2v1h-2zM1121 513h1v1h-1zM1111 514h2v1h-2zM1120 514h1v1h-1zM1113 515h7v1h-7z" fill="#ff0000"/>
<path d="M3 196h1v1h-1zM23 196h1v1h-1zM71 196h1v1h-1zM79 196h1v1h-1zM113 196h1v1h-1zM215 196h1v1h-1zM239 196h1v1h-1zM283 196h1v1h-1zM758 196h1v1h-1zM767 196h1v1h-1zM3 195h1v1h-1zM22 195h1v1h-1zM72 195h1v1h-1zM77 195h2v1h-2zM113 195h1v1h-1zM215 195h1v1h-1zM239 195h1v1h-1zM283 195h1v1h-1zM758 195h1v1h-1zM766 195h2v1h-2zM4 194h1v1h-1zM22 194h1v1h-1zM73 194h2v1h-2zM76 194h1v1h-1zM113 194h1v1h-1zM214 194h1v1h-1zM239 194h1v1h-1zM283 194h1v1h-1zM759 194h2v1h-2zM764 194h2v1h-2zM4 193h1v1h-1zM22 193h1v1h-1zM75 193h1v1h-1zM114 193h1v1h-1zM214 193h1v1h-1zM240 193h1v1h-1zM283 193h1v1h-1zM761 193h3v1h-3zM4 192h1v1h-1zM22 192h1v1h-1zM114 192h1v1h-1zM214 192h1v1h-1zM240 192h1v1h-1zM282 192h1v1h-1zM4 191h1v1h-1zM22 191h1v1h-1zM114 191h1v1h-1zM214 191h1v1h-1zM240 191h1v1h-1zM282 191h1v1h-1zM5 190h1v1h-1zM21 190h1v1h-1zM114 190h1v1h-1zM213 190h1v1h-1zM241 190h1v1h-1zM282 190h1v1h-1zM5 189h1v1h-1zM21 189h1v1h-1zM115 189h1v1h-1zM213 189h1v1h-1zM241 189h1v1h-1zM282 189h1v1h-1zM5 188h1v1h-1zM21 188h1v1h-1zM115 188h1v1h-1zM213 188h1v1h-1zM241 188h1v1h-1zM282 188h1v1h-1zM5 187h1v1h-1zM21 187h1v1h-1zM115 187h1v1h-1zM213 187h1v1h-1zM242 187h1v1h-1zM281 187h1v1h-1zM6 186h1v1h-1zM20 186h1v1h-1zM116 186h1v1h-1zM212 186h1v1h-1zM242 186h1v1h-1zM281 186h1v1h-1zM6 185h1v1h-1zM20 185h1v1h-1zM117 185h1v1h-1zM212 185h1v1h-1zM242 185h1v1h-1zM281 185h1v1h-1zM6 184h1v1h-1zM20 184h1v1h-1zM117 184h1v1h-1zM212 184h1v1h-1zM243 184h1v1h-1zM281 184h1v1h-1zM6 183h1v1h-1zM20 183h1v1h-1zM118 183h1v1h-1zM212 183h1v1h-1zM243 183h1v1h-1zM281 183h1v1h-1zM7 182h1v1h-1zM20 182h1v1h-1zM119 182h1v1h-1zM134 182h2v1h-2zM211 182h1v1h-1zM244 182h1v1h-1zM280 182h1v1h-1zM7 181h1v1h-1zM19 181h1v1h-1zM120 181h1v1h-1zM132 181h2v1h-2zM135 181h1v1h-1zM211 181h1v1h-1zM244 181h1v1h-1zM280 181h1v1h-1zM7 180h1v1h-1zM19 180h1v1h-1zM120 180h1v1h-1zM130 180h2v1h-2zM136 180h1v1h-1zM211 180h1v1h-1zM245 180h1v1h-1zM280 180h1v1h-1zM7 179h1v1h-1zM19 179h1v1h-1zM121 179h1v1h-1zM128 179h2v1h-2zM136 179h1v1h-1zM210 179h1v1h-1zM246 179h1v1h-1zM280 179h1v1h-1zM8 178h1v1h-1zM19 178h1v1h-1zM121 178h1v1h-1zM127 178h1v1h-1zM137 178h1v1h-1zM167 178h5v1h-5zM210 178h1v1h-1zM246 178h1v1h-1zM280 178h1v1h-1zM8 177h1v1h-1zM18 177h1v1h-1zM122 177h1v1h-1zM125 177h2v1h-2zM137 177h1v1h-1zM166 177h1v1h-1zM171 177h1v1h-1zM210 177h1v1h-1zM247 177h1v1h-1zM279 177h1v1h-1zM8 176h1v1h-1zM18 176h1v1h-1zM122 176h1v1h-1zM124 176h1v1h-1zM137 176h1v1h-1zM166 176h1v1h-1zM172 176h1v1h-1zM210 176h1v1h-1zM247 176h1v1h-1zM279 176h1v1h-1zM9 175h1v1h-1zM17 175h1v1h-1zM123 175h1v1h-1zM138 175h1v1h-1zM165 175h1v1h-1zM172 175h1v1h-1zM209 175h1v1h-1zM248 175h1v1h-1zM279 175h1v1h-1zM9 174h1v1h-1zM17 174h1v1h-1zM138 174h1v1h-1zM164 174h1v1h-1zM172 174h1v1h-1zM209 174h1v1h-1zM248 174h1v1h-1zM279 174h1v1h-1zM10 173h1v1h-1zM17 173h1v1h-1zM139 173h1v1h-1zM164 173h1v1h-1zM172 173h1v1h-1zM209 173h1v1h-1zM248 173h1v1h-1zM279 173h1v1h-1zM10 172h1v1h-1zM16 172h1v1h-1zM139 172h1v1h-1zM163 172h1v1h-1zM173 172h1v1h-1zM208 172h1v1h-1zM249 172h1v1h-1zM278 172h1v1h-1zM10 171h1v1h-1zM16 171h1v1h-1zM140 171h1v1h-1zM162 171h1v1h-1zM173 171h1v1h-1zM208 171h1v1h-1zM249 171h1v1h-1zM278 171h1v1h-1zM11 170h1v1h-1zM15 170h1v1h-1zM141 170h1v1h-1zM161 170h1v1h-1zM173 170h1v1h-1zM208 170h1v1h-1zM250 170h1v1h-1zM278 170h1v1h-1zM11 169h5v1h-5zM141 169h1v1h-1zM161 169h1v1h-1zM174 169h1v1h-1zM208 169h1v1h-1zM250 169h1v1h-1zM278 169h1v1h-1zM23 197h1v1h-1zM71 197h1v1h-1zM80 197h2v1h-2zM113 197h1v1h-1zM216 197h1v1h-1zM238 197h1v1h-1zM284 197h1v1h-1zM757 197h1v1h-1zM768 197h1v1h-1zM23 198h1v1h-1zM70 198h1v1h-1zM82 198h2v1h-2zM113 198h1v1h-1zM217 198h1v1h-1zM238 198h1v1h-1zM284 198h1v1h-1zM756 198h1v1h-1zM768 198h1v1h-1zM23 199h1v1h-1zM70 199h1v1h-1zM84 199h1v1h-1zM112 199h1v1h-1zM217 199h1v1h-1zM237 199h1v1h-1zM284 199h1v1h-1zM358 199h2v1h-2zM756 199h1v1h-1zM768 199h1v1h-1zM24 200h1v1h-1zM70 200h1v1h-1zM84 200h1v1h-1zM112 200h1v1h-1zM218 200h1v1h-1zM237 200h1v1h-1zM284 200h1v1h-1zM356 200h2v1h-2zM360 200h1v1h-1zM755 200h1v1h-1zM769 200h1v1h-1zM24 201h1v1h-1zM69 201h1v1h-1zM85 201h1v1h-1zM112 201h1v1h-1zM219 201h1v1h-1zM236 201h1v1h-1zM285 201h1v1h-1zM355 201h1v1h-1zM360 201h1v1h-1zM755 201h1v1h-1zM769 201h1v1h-1zM25 202h1v1h-1zM69 202h1v1h-1zM85 202h1v1h-1zM112 202h1v1h-1zM220 202h1v1h-1zM236 202h1v1h-1zM285 202h1v1h-1zM354 202h1v1h-1zM361 202h1v1h-1zM755 202h1v1h-1zM769 202h1v1h-1zM25 203h1v1h-1zM69 203h1v1h-1zM86 203h1v1h-1zM111 203h1v1h-1zM221 203h2v1h-2zM235 203h1v1h-1zM285 203h1v1h-1zM354 203h1v1h-1zM362 203h1v1h-1zM754 203h1v1h-1zM770 203h1v1h-1zM25 204h1v1h-1zM68 204h1v1h-1zM86 204h1v1h-1zM111 204h1v1h-1zM223 204h5v1h-5zM234 204h1v1h-1zM285 204h1v1h-1zM353 204h1v1h-1zM362 204h1v1h-1zM754 204h1v1h-1zM770 204h1v1h-1zM26 205h1v1h-1zM68 205h1v1h-1zM87 205h1v1h-1zM111 205h1v1h-1zM228 205h1v1h-1zM233 205h1v1h-1zM286 205h1v1h-1zM353 205h1v1h-1zM363 205h1v1h-1zM754 205h1v1h-1zM770 205h1v1h-1zM26 206h1v1h-1zM68 206h1v1h-1zM87 206h1v1h-1zM111 206h1v1h-1zM229 206h2v1h-2zM232 206h1v1h-1zM286 206h1v1h-1zM352 206h1v1h-1zM363 206h1v1h-1zM754 206h1v1h-1zM771 206h1v1h-1zM27 207h1v1h-1zM67 207h1v1h-1zM87 207h1v1h-1zM111 207h1v1h-1zM231 207h1v1h-1zM286 207h1v1h-1zM352 207h1v1h-1zM364 207h1v1h-1zM753 207h1v1h-1zM771 207h1v1h-1zM27 208h1v1h-1zM67 208h1v1h-1zM88 208h1v1h-1zM110 208h1v1h-1zM286 208h1v1h-1zM351 208h1v1h-1zM364 208h1v1h-1zM753 208h1v1h-1zM771 208h1v1h-1zM27 209h1v1h-1zM67 209h1v1h-1zM88 209h1v1h-1zM110 209h1v1h-1zM287 209h1v1h-1zM350 209h1v1h-1zM364 209h1v1h-1zM753 209h1v1h-1zM772 209h1v1h-1zM28 210h1v1h-1zM66 210h1v1h-1zM88 210h1v1h-1zM110 210h1v1h-1zM287 210h1v1h-1zM350 210h1v1h-1zM365 210h1v1h-1zM753 210h1v1h-1zM772 210h1v1h-1zM28 211h1v1h-1zM66 211h1v1h-1zM88 211h1v1h-1zM110 211h1v1h-1zM287 211h1v1h-1zM349 211h1v1h-1zM365 211h1v1h-1zM752 211h1v1h-1zM772 211h1v1h-1zM28 212h1v1h-1zM66 212h1v1h-1zM88 212h1v1h-1zM109 212h1v1h-1zM287 212h1v1h-1zM349 212h1v1h-1zM366 212h1v1h-1zM752 212h1v1h-1zM772 212h1v1h-1zM28 213h1v1h-1zM65 213h1v1h-1zM89 213h1v1h-1zM109 213h1v1h-1zM287 213h1v1h-1zM348 213h1v1h-1zM366 213h1v1h-1zM752 213h1v1h-1zM773 213h1v1h-1zM29 214h1v1h-1zM65 214h1v1h-1zM89 214h1v1h-1zM109 214h1v1h-1zM288 214h1v1h-1zM348 214h1v1h-1zM366 214h1v1h-1zM752 214h1v1h-1zM773 214h1v1h-1zM29 215h1v1h-1zM65 215h1v1h-1zM89 215h1v1h-1zM109 215h1v1h-1zM288 215h1v1h-1zM347 215h1v1h-1zM367 215h1v1h-1zM751 215h1v1h-1zM773 215h1v1h-1zM29 216h1v1h-1zM65 216h1v1h-1zM89 216h1v1h-1zM108 216h1v1h-1zM288 216h1v1h-1zM346 216h1v1h-1zM367 216h1v1h-1zM751 216h1v1h-1zM774 216h1v1h-1zM29 217h1v1h-1zM64 217h1v1h-1zM90 217h1v1h-1zM108 217h1v1h-1zM288 217h1v1h-1zM346 217h1v1h-1zM367 217h1v1h-1zM751 217h1v1h-1zM774 217h1v1h-1zM30 218h1v1h-1zM64 218h1v1h-1zM90 218h1v1h-1zM108 218h1v1h-1zM288 218h1v1h-1zM345 218h1v1h-1zM368 218h1v1h-1zM751 218h1v1h-1zM774 218h1v1h-1zM30 219h1v1h-1zM64 219h1v1h-1zM90 219h1v1h-1zM108 219h1v1h-1zM289 219h1v1h-1zM344 219h1v1h-1zM368 219h1v1h-1zM751 219h1v1h-1zM774 219h1v1h-1zM30 220h1v1h-1zM63 220h1v1h-1zM90 220h1v1h-1zM107 220h1v1h-1zM289 220h1v1h-1zM344 220h1v1h-1zM368 220h1v1h-1zM750 220h1v1h-1zM775 220h1v1h-1zM30 221h1v1h-1zM63 221h1v1h-1zM90 221h1v1h-1zM107 221h1v1h-1zM289 221h1v1h-1zM342 221h2v1h-2zM369 221h1v1h-1zM750 221h1v1h-1zM775 221h1v1h-1zM31 222h1v1h-1zM55 222h1v1h-1zM63 222h1v1h-1zM91 222h1v1h-1zM107 222h1v1h-1zM289 222h1v1h-1zM340 222h2v1h-2zM369 222h1v1h-1zM750 222h1v1h-1zM775 222h1v1h-1zM31 223h1v1h-1zM55 223h2v1h-2zM62 223h1v1h-1zM91 223h1v1h-1zM107 223h1v1h-1zM289 223h1v1h-1zM337 223h3v1h-3zM370 223h1v1h-1zM423 223h1v1h-1zM750 223h1v1h-1zM776 223h1v1h-1zM31 224h1v1h-1zM54 224h1v1h-1zM56 224h1v1h-1zM62 224h1v1h-1zM91 224h1v1h-1zM106 224h1v1h-1zM290 224h1v1h-1zM335 224h2v1h-2zM370 224h1v1h-1zM422 224h1v1h-1zM424 224h1v1h-1zM750 224h1v1h-1zM776 224h1v1h-1zM31 225h1v1h-1zM54 225h1v1h-1zM57 225h1v1h-1zM61 225h1v1h-1zM91 225h1v1h-1zM106 225h1v1h-1zM290 225h1v1h-1zM334 225h1v1h-1zM370 225h1v1h-1zM421 225h1v1h-1zM424 225h1v1h-1zM750 225h1v1h-1zM776 225h1v1h-1zM31 226h1v1h-1zM54 226h1v1h-1zM57 226h1v1h-1zM61 226h1v1h-1zM92 226h1v1h-1zM106 226h1v1h-1zM290 226h1v1h-1zM333 226h1v1h-1zM371 226h1v1h-1zM421 226h1v1h-1zM425 226h1v1h-1zM749 226h1v1h-1zM776 226h1v1h-1zM32 227h1v1h-1zM53 227h1v1h-1zM58 227h1v1h-1zM60 227h1v1h-1zM92 227h1v1h-1zM105 227h1v1h-1zM290 227h1v1h-1zM333 227h1v1h-1zM371 227h1v1h-1zM420 227h1v1h-1zM426 227h1v1h-1zM749 227h1v1h-1zM777 227h1v1h-1zM32 228h1v1h-1zM53 228h1v1h-1zM58 228h1v1h-1zM60 228h1v1h-1zM92 228h1v1h-1zM105 228h1v1h-1zM290 228h1v1h-1zM332 228h1v1h-1zM371 228h1v1h-1zM419 228h1v1h-1zM426 228h1v1h-1zM749 228h1v1h-1zM777 228h1v1h-1zM32 229h1v1h-1zM53 229h1v1h-1zM59 229h1v1h-1zM93 229h1v1h-1zM105 229h1v1h-1zM291 229h1v1h-1zM331 229h1v1h-1zM371 229h1v1h-1zM419 229h1v1h-1zM427 229h1v1h-1zM749 229h1v1h-1zM777 229h1v1h-1zM32 230h1v1h-1zM52 230h1v1h-1zM93 230h1v1h-1zM104 230h1v1h-1zM291 230h1v1h-1zM330 230h1v1h-1zM372 230h1v1h-1zM418 230h1v1h-1zM428 230h1v1h-1zM749 230h1v1h-1zM778 230h1v1h-1zM32 231h1v1h-1zM52 231h1v1h-1zM93 231h1v1h-1zM104 231h1v1h-1zM291 231h1v1h-1zM330 231h1v1h-1zM372 231h1v1h-1zM418 231h1v1h-1zM428 231h1v1h-1zM749 231h1v1h-1zM778 231h1v1h-1zM33 232h1v1h-1zM52 232h1v1h-1zM94 232h1v1h-1zM104 232h1v1h-1zM291 232h1v1h-1zM329 232h1v1h-1zM372 232h1v1h-1zM417 232h1v1h-1zM429 232h1v1h-1zM749 232h1v1h-1zM778 232h1v1h-1zM33 233h1v1h-1zM51 233h1v1h-1zM94 233h1v1h-1zM103 233h1v1h-1zM292 233h1v1h-1zM329 233h1v1h-1zM372 233h1v1h-1zM417 233h1v1h-1zM430 233h1v1h-1zM748 233h1v1h-1zM778 233h1v1h-1zM33 234h1v1h-1zM51 234h1v1h-1zM94 234h1v1h-1zM98 234h6v1h-6zM292 234h1v1h-1zM328 234h1v1h-1zM372 234h1v1h-1zM416 234h1v1h-1zM430 234h1v1h-1zM748 234h1v1h-1zM779 234h1v1h-1zM33 235h1v1h-1zM51 235h1v1h-1zM95 235h3v1h-3zM292 235h1v1h-1zM328 235h1v1h-1zM372 235h1v1h-1zM416 235h1v1h-1zM431 235h1v1h-1zM748 235h1v1h-1zM779 235h1v1h-1zM33 236h1v1h-1zM50 236h1v1h-1zM95 236h1v1h-1zM293 236h1v1h-1zM327 236h1v1h-1zM373 236h1v1h-1zM415 236h1v1h-1zM432 236h1v1h-1zM748 236h1v1h-1zM779 236h1v1h-1zM34 237h1v1h-1zM39 237h2v1h-2zM50 237h1v1h-1zM293 237h1v1h-1zM327 237h1v1h-1zM373 237h1v1h-1zM414 237h1v1h-1zM433 237h1v1h-1zM748 237h1v1h-1zM780 237h1v1h-1zM34 238h1v1h-1zM38 238h1v1h-1zM41 238h3v1h-3zM49 238h1v1h-1zM293 238h1v1h-1zM326 238h1v1h-1zM373 238h1v1h-1zM413 238h1v1h-1zM434 238h1v1h-1zM748 238h1v1h-1zM780 238h1v1h-1zM34 239h1v1h-1zM38 239h1v1h-1zM44 239h1v1h-1zM49 239h1v1h-1zM294 239h1v1h-1zM326 239h1v1h-1zM373 239h1v1h-1zM413 239h1v1h-1zM435 239h1v1h-1zM747 239h1v1h-1zM780 239h1v1h-1zM34 240h1v1h-1zM37 240h1v1h-1zM45 240h1v1h-1zM48 240h1v1h-1zM294 240h1v1h-1zM326 240h1v1h-1zM373 240h1v1h-1zM412 240h1v1h-1zM435 240h1v1h-1zM747 240h1v1h-1zM780 240h1v1h-1zM34 241h1v1h-1zM37 241h1v1h-1zM46 241h1v1h-1zM48 241h1v1h-1zM294 241h1v1h-1zM325 241h1v1h-1zM373 241h1v1h-1zM411 241h1v1h-1zM436 241h1v1h-1zM706 241h2v1h-2zM747 241h1v1h-1zM781 241h1v1h-1zM35 242h2v1h-2zM47 242h1v1h-1zM295 242h1v1h-1zM325 242h1v1h-1zM374 242h1v1h-1zM411 242h1v1h-1zM436 242h1v1h-1zM704 242h2v1h-2zM708 242h1v1h-1zM747 242h1v1h-1zM781 242h1v1h-1zM35 243h2v1h-2zM295 243h1v1h-1zM325 243h1v1h-1zM374 243h1v1h-1zM410 243h1v1h-1zM436 243h1v1h-1zM703 243h1v1h-1zM708 243h1v1h-1zM747 243h1v1h-1zM781 243h1v1h-1zM35 244h1v1h-1zM295 244h1v1h-1zM325 244h1v1h-1zM374 244h1v1h-1zM410 244h1v1h-1zM437 244h1v1h-1zM703 244h1v1h-1zM709 244h1v1h-1zM747 244h1v1h-1zM782 244h1v1h-1zM142 168h1v1h-1zM160 168h1v1h-1zM174 168h1v1h-1zM207 168h1v1h-1zM250 168h1v1h-1zM277 168h1v1h-1zM143 167h1v1h-1zM159 167h1v1h-1zM174 167h1v1h-1zM207 167h1v1h-1zM251 167h1v1h-1zM277 167h1v1h-1zM144 166h1v1h-1zM158 166h1v1h-1zM174 166h1v1h-1zM207 166h1v1h-1zM251 166h1v1h-1zM277 166h1v1h-1zM145 165h1v1h-1zM158 165h1v1h-1zM175 165h1v1h-1zM206 165h1v1h-1zM251 165h1v1h-1zM277 165h1v1h-1zM145 164h1v1h-1zM157 164h1v1h-1zM175 164h1v1h-1zM206 164h1v1h-1zM252 164h1v1h-1zM276 164h1v1h-1zM146 163h1v1h-1zM156 163h1v1h-1zM175 163h1v1h-1zM206 163h1v1h-1zM252 163h1v1h-1zM276 163h1v1h-1zM147 162h1v1h-1zM156 162h1v1h-1zM175 162h1v1h-1zM206 162h1v1h-1zM252 162h1v1h-1zM276 162h1v1h-1zM147 161h1v1h-1zM155 161h1v1h-1zM176 161h1v1h-1zM205 161h1v1h-1zM253 161h1v1h-1zM276 161h1v1h-1zM148 160h1v1h-1zM155 160h1v1h-1zM176 160h1v1h-1zM205 160h1v1h-1zM253 160h1v1h-1zM275 160h1v1h-1zM148 159h1v1h-1zM154 159h1v1h-1zM176 159h1v1h-1zM205 159h1v1h-1zM253 159h1v1h-1zM275 159h1v1h-1zM149 158h1v1h-1zM154 158h1v1h-1zM176 158h1v1h-1zM205 158h1v1h-1zM254 158h1v1h-1zM275 158h1v1h-1zM149 157h1v1h-1zM153 157h1v1h-1zM177 157h1v1h-1zM204 157h1v1h-1zM254 157h1v1h-1zM275 157h1v1h-1zM150 156h1v1h-1zM153 156h1v1h-1zM177 156h1v1h-1zM204 156h1v1h-1zM254 156h1v1h-1zM274 156h1v1h-1zM150 155h1v1h-1zM152 155h1v1h-1zM177 155h1v1h-1zM204 155h1v1h-1zM255 155h1v1h-1zM274 155h1v1h-1zM151 154h2v1h-2zM177 154h1v1h-1zM204 154h1v1h-1zM255 154h1v1h-1zM274 154h1v1h-1zM151 153h1v1h-1zM177 153h1v1h-1zM203 153h1v1h-1zM256 153h1v1h-1zM274 153h1v1h-1zM178 152h1v1h-1zM203 152h1v1h-1zM256 152h1v1h-1zM273 152h1v1h-1zM178 151h1v1h-1zM203 151h1v1h-1zM257 151h1v1h-1zM273 151h1v1h-1zM178 150h1v1h-1zM203 150h1v1h-1zM257 150h1v1h-1zM273 150h1v1h-1zM178 149h1v1h-1zM202 149h1v1h-1zM258 149h1v1h-1zM273 149h1v1h-1zM179 148h1v1h-1zM202 148h1v1h-1zM258 148h1v1h-1zM272 148h1v1h-1zM179 147h1v1h-1zM202 147h1v1h-1zM259 147h1v1h-1zM272 147h1v1h-1zM179 146h1v1h-1zM202 146h1v1h-1zM259 146h1v1h-1zM272 146h1v1h-1zM179 145h1v1h-1zM202 145h1v1h-1zM260 145h1v1h-1zM272 145h1v1h-1zM179 144h1v1h-1zM202 144h1v1h-1zM261 144h1v1h-1zM271 144h1v1h-1zM180 143h1v1h-1zM201 143h1v1h-1zM262 143h1v1h-1zM271 143h1v1h-1zM180 142h1v1h-1zM201 142h1v1h-1zM263 142h1v1h-1zM269 142h2v1h-2zM180 141h1v1h-1zM201 141h1v1h-1zM264 141h2v1h-2zM268 141h1v1h-1zM180 140h1v1h-1zM201 140h1v1h-1zM266 140h2v1h-2zM181 139h1v1h-1zM201 139h1v1h-1zM181 138h1v1h-1zM200 138h1v1h-1zM181 137h1v1h-1zM200 137h1v1h-1zM181 136h1v1h-1zM200 136h1v1h-1zM181 135h1v1h-1zM200 135h1v1h-1zM182 134h1v1h-1zM200 134h1v1h-1zM182 133h1v1h-1zM200 133h1v1h-1zM182 132h1v1h-1zM199 132h1v1h-1zM182 131h1v1h-1zM199 131h1v1h-1zM183 130h1v1h-1zM199 130h1v1h-1zM183 129h1v1h-1zM199 129h1v1h-1zM183 128h1v1h-1zM199 128h1v1h-1zM183 127h1v1h-1zM198 127h1v1h-1zM184 126h1v1h-1zM198 126h1v1h-1zM184 125h1v1h-1zM198 125h1v1h-1zM184 124h1v1h-1zM198 124h1v1h-1zM185 123h1v1h-1zM197 123h1v1h-1zM185 122h1v1h-1zM197 122h1v1h-1zM186 121h1v1h-1zM197 121h1v1h-1zM186 120h1v1h-1zM197 120h1v1h-1zM186 119h1v1h-1zM196 119h1v1h-1zM187 118h1v1h-1zM196 118h1v1h-1zM187 117h2v1h-2zM196 117h1v1h-1zM189 116h3v1h-3zM196 116h1v1h-1zM192 115h1v1h-1zM195 115h1v1h-1zM193 114h3v1h-3zM195 113h1v1h-1zM296 245h1v1h-1zM324 245h1v1h-1zM374 245h1v1h-1zM409 245h1v1h-1zM437 245h1v1h-1zM702 245h1v1h-1zM709 245h1v1h-1zM747 245h1v1h-1zM782 245h1v1h-1zM296 246h1v1h-1zM324 246h1v1h-1zM374 246h1v1h-1zM409 246h1v1h-1zM438 246h1v1h-1zM702 246h1v1h-1zM710 246h1v1h-1zM746 246h1v1h-1zM782 246h1v1h-1zM297 247h1v1h-1zM324 247h1v1h-1zM374 247h1v1h-1zM409 247h1v1h-1zM438 247h1v1h-1zM702 247h1v1h-1zM710 247h1v1h-1zM746 247h1v1h-1zM782 247h1v1h-1zM297 248h1v1h-1zM323 248h1v1h-1zM375 248h1v1h-1zM408 248h1v1h-1zM438 248h1v1h-1zM701 248h1v1h-1zM711 248h1v1h-1zM746 248h1v1h-1zM783 248h1v1h-1zM297 249h1v1h-1zM323 249h1v1h-1zM375 249h1v1h-1zM408 249h1v1h-1zM439 249h1v1h-1zM701 249h1v1h-1zM711 249h1v1h-1zM746 249h1v1h-1zM783 249h1v1h-1zM298 250h1v1h-1zM323 250h1v1h-1zM375 250h1v1h-1zM407 250h1v1h-1zM439 250h1v1h-1zM700 250h1v1h-1zM711 250h1v1h-1zM746 250h1v1h-1zM783 250h1v1h-1zM298 251h1v1h-1zM322 251h1v1h-1zM375 251h1v1h-1zM407 251h1v1h-1zM439 251h1v1h-1zM700 251h1v1h-1zM712 251h1v1h-1zM746 251h1v1h-1zM783 251h1v1h-1zM299 252h1v1h-1zM322 252h1v1h-1zM375 252h1v1h-1zM407 252h1v1h-1zM439 252h1v1h-1zM700 252h1v1h-1zM712 252h1v1h-1zM746 252h1v1h-1zM784 252h1v1h-1zM299 253h1v1h-1zM321 253h1v1h-1zM376 253h1v1h-1zM406 253h1v1h-1zM440 253h1v1h-1zM699 253h1v1h-1zM712 253h1v1h-1zM746 253h1v1h-1zM784 253h1v1h-1zM300 254h1v1h-1zM321 254h1v1h-1zM376 254h1v1h-1zM406 254h1v1h-1zM440 254h1v1h-1zM699 254h1v1h-1zM712 254h1v1h-1zM745 254h1v1h-1zM784 254h1v1h-1zM300 255h1v1h-1zM321 255h1v1h-1zM376 255h1v1h-1zM406 255h1v1h-1zM440 255h1v1h-1zM699 255h1v1h-1zM712 255h1v1h-1zM745 255h1v1h-1zM784 255h1v1h-1zM301 256h1v1h-1zM320 256h1v1h-1zM376 256h1v1h-1zM406 256h1v1h-1zM440 256h1v1h-1zM698 256h1v1h-1zM713 256h1v1h-1zM745 256h1v1h-1zM784 256h1v1h-1zM301 257h1v1h-1zM320 257h1v1h-1zM376 257h1v1h-1zM405 257h1v1h-1zM441 257h1v1h-1zM515 257h1v1h-1zM698 257h1v1h-1zM713 257h1v1h-1zM745 257h1v1h-1zM784 257h1v1h-1zM302 258h1v1h-1zM319 258h1v1h-1zM377 258h1v1h-1zM405 258h1v1h-1zM441 258h1v1h-1zM514 258h2v1h-2zM698 258h1v1h-1zM713 258h1v1h-1zM745 258h1v1h-1zM785 258h1v1h-1zM302 259h1v1h-1zM319 259h1v1h-1zM377 259h1v1h-1zM405 259h1v1h-1zM441 259h1v1h-1zM514 259h1v1h-1zM516 259h1v1h-1zM697 259h1v1h-1zM713 259h1v1h-1zM745 259h1v1h-1zM785 259h1v1h-1zM303 260h1v1h-1zM318 260h1v1h-1zM377 260h1v1h-1zM404 260h1v1h-1zM441 260h1v1h-1zM513 260h1v1h-1zM516 260h1v1h-1zM697 260h1v1h-1zM714 260h1v1h-1zM745 260h1v1h-1zM785 260h1v1h-1zM303 261h1v1h-1zM318 261h1v1h-1zM377 261h1v1h-1zM404 261h1v1h-1zM442 261h1v1h-1zM512 261h1v1h-1zM517 261h1v1h-1zM697 261h1v1h-1zM714 261h1v1h-1zM744 261h1v1h-1zM785 261h1v1h-1zM303 262h1v1h-1zM317 262h1v1h-1zM378 262h1v1h-1zM404 262h1v1h-1zM442 262h1v1h-1zM512 262h1v1h-1zM517 262h1v1h-1zM696 262h1v1h-1zM714 262h1v1h-1zM744 262h1v1h-1zM785 262h1v1h-1zM304 263h1v1h-1zM317 263h1v1h-1zM378 263h1v1h-1zM404 263h1v1h-1zM442 263h1v1h-1zM511 263h1v1h-1zM517 263h1v1h-1zM696 263h1v1h-1zM714 263h1v1h-1zM744 263h1v1h-1zM785 263h1v1h-1zM304 264h1v1h-1zM316 264h1v1h-1zM378 264h1v1h-1zM403 264h1v1h-1zM442 264h1v1h-1zM509 264h2v1h-2zM518 264h1v1h-1zM696 264h1v1h-1zM714 264h1v1h-1zM744 264h1v1h-1zM786 264h1v1h-1zM305 265h1v1h-1zM316 265h1v1h-1zM378 265h1v1h-1zM403 265h1v1h-1zM443 265h1v1h-1zM508 265h1v1h-1zM518 265h1v1h-1zM695 265h1v1h-1zM715 265h1v1h-1zM744 265h1v1h-1zM786 265h1v1h-1zM305 266h1v1h-1zM313 266h3v1h-3zM378 266h1v1h-1zM403 266h1v1h-1zM443 266h1v1h-1zM507 266h1v1h-1zM519 266h1v1h-1zM695 266h1v1h-1zM715 266h1v1h-1zM744 266h1v1h-1zM786 266h1v1h-1zM306 267h1v1h-1zM311 267h2v1h-2zM379 267h1v1h-1zM402 267h1v1h-1zM443 267h1v1h-1zM506 267h1v1h-1zM519 267h1v1h-1zM695 267h1v1h-1zM715 267h1v1h-1zM744 267h1v1h-1zM786 267h1v1h-1zM306 268h1v1h-1zM309 268h2v1h-2zM379 268h1v1h-1zM402 268h1v1h-1zM444 268h1v1h-1zM505 268h1v1h-1zM519 268h1v1h-1zM695 268h1v1h-1zM715 268h1v1h-1zM744 268h1v1h-1zM786 268h1v1h-1zM307 269h2v1h-2zM379 269h1v1h-1zM402 269h1v1h-1zM444 269h1v1h-1zM505 269h1v1h-1zM520 269h1v1h-1zM694 269h1v1h-1zM716 269h1v1h-1zM743 269h1v1h-1zM786 269h1v1h-1zM307 270h1v1h-1zM379 270h1v1h-1zM401 270h1v1h-1zM445 270h1v1h-1zM504 270h1v1h-1zM520 270h1v1h-1zM694 270h1v1h-1zM716 270h1v1h-1zM743 270h1v1h-1zM787 270h1v1h-1zM380 271h1v1h-1zM401 271h1v1h-1zM445 271h1v1h-1zM503 271h1v1h-1zM521 271h1v1h-1zM694 271h1v1h-1zM716 271h1v1h-1zM743 271h1v1h-1zM787 271h1v1h-1zM380 272h1v1h-1zM401 272h1v1h-1zM446 272h1v1h-1zM502 272h1v1h-1zM521 272h1v1h-1zM694 272h1v1h-1zM716 272h1v1h-1zM743 272h1v1h-1zM787 272h1v1h-1zM380 273h1v1h-1zM401 273h1v1h-1zM446 273h1v1h-1zM501 273h1v1h-1zM521 273h1v1h-1zM694 273h1v1h-1zM717 273h1v1h-1zM743 273h1v1h-1zM787 273h1v1h-1zM381 274h1v1h-1zM400 274h1v1h-1zM447 274h1v1h-1zM501 274h1v1h-1zM522 274h1v1h-1zM693 274h1v1h-1zM717 274h1v1h-1zM743 274h1v1h-1zM787 274h1v1h-1zM381 275h1v1h-1zM400 275h1v1h-1zM447 275h1v1h-1zM500 275h1v1h-1zM522 275h1v1h-1zM693 275h1v1h-1zM717 275h1v1h-1zM742 275h1v1h-1zM788 275h1v1h-1zM381 276h1v1h-1zM400 276h1v1h-1zM448 276h1v1h-1zM499 276h1v1h-1zM523 276h1v1h-1zM693 276h1v1h-1zM717 276h1v1h-1zM742 276h1v1h-1zM788 276h1v1h-1zM382 277h1v1h-1zM399 277h1v1h-1zM448 277h1v1h-1zM499 277h1v1h-1zM523 277h1v1h-1zM693 277h1v1h-1zM718 277h1v1h-1zM742 277h1v1h-1zM788 277h1v1h-1zM382 278h1v1h-1zM399 278h1v1h-1zM449 278h1v1h-1zM498 278h1v1h-1zM523 278h1v1h-1zM693 278h1v1h-1zM718 278h1v1h-1zM742 278h1v1h-1zM789 278h1v1h-1zM382 279h1v1h-1zM399 279h1v1h-1zM449 279h1v1h-1zM498 279h1v1h-1zM524 279h1v1h-1zM692 279h1v1h-1zM718 279h1v1h-1zM742 279h1v1h-1zM789 279h1v1h-1zM383 280h1v1h-1zM398 280h1v1h-1zM449 280h1v1h-1zM498 280h1v1h-1zM524 280h1v1h-1zM692 280h1v1h-1zM718 280h1v1h-1zM741 280h1v1h-1zM789 280h1v1h-1zM383 281h1v1h-1zM398 281h1v1h-1zM450 281h1v1h-1zM497 281h1v1h-1zM525 281h1v1h-1zM692 281h1v1h-1zM719 281h1v1h-1zM741 281h1v1h-1zM789 281h1v1h-1zM383 282h1v1h-1zM397 282h1v1h-1zM450 282h1v1h-1zM497 282h1v1h-1zM525 282h1v1h-1zM692 282h1v1h-1zM719 282h1v1h-1zM741 282h1v1h-1zM790 282h1v1h-1zM384 283h1v1h-1zM397 283h1v1h-1zM451 283h1v1h-1zM497 283h1v1h-1zM526 283h1v1h-1zM692 283h1v1h-1zM719 283h1v1h-1zM741 283h1v1h-1zM790 283h1v1h-1zM384 284h1v1h-1zM397 284h1v1h-1zM451 284h1v1h-1zM497 284h1v1h-1zM526 284h1v1h-1zM691 284h1v1h-1zM719 284h1v1h-1zM741 284h1v1h-1zM790 284h1v1h-1zM384 285h1v1h-1zM396 285h1v1h-1zM451 285h1v1h-1zM496 285h1v1h-1zM527 285h1v1h-1zM691 285h1v1h-1zM720 285h1v1h-1zM741 285h1v1h-1zM791 285h1v1h-1zM819 285h1v1h-1zM385 286h1v1h-1zM396 286h1v1h-1zM452 286h1v1h-1zM496 286h1v1h-1zM527 286h1v1h-1zM691 286h1v1h-1zM720 286h1v1h-1zM740 286h1v1h-1zM791 286h1v1h-1zM819 286h2v1h-2zM385 287h1v1h-1zM395 287h1v1h-1zM452 287h1v1h-1zM496 287h1v1h-1zM528 287h1v1h-1zM691 287h1v1h-1zM720 287h1v1h-1zM740 287h1v1h-1zM791 287h1v1h-1zM818 287h1v1h-1zM820 287h1v1h-1zM385 288h1v1h-1zM395 288h1v1h-1zM452 288h1v1h-1zM495 288h1v1h-1zM529 288h1v1h-1zM691 288h1v1h-1zM721 288h1v1h-1zM740 288h1v1h-1zM792 288h1v1h-1zM818 288h1v1h-1zM821 288h1v1h-1zM385 289h1v1h-1zM395 289h1v1h-1zM452 289h1v1h-1zM495 289h1v1h-1zM529 289h1v1h-1zM690 289h1v1h-1zM721 289h1v1h-1zM740 289h1v1h-1zM792 289h1v1h-1zM817 289h1v1h-1zM821 289h1v1h-1zM386 290h1v1h-1zM394 290h1v1h-1zM453 290h1v1h-1zM494 290h1v1h-1zM530 290h1v1h-1zM690 290h1v1h-1zM721 290h1v1h-1zM740 290h1v1h-1zM792 290h1v1h-1zM817 290h1v1h-1zM822 290h1v1h-1zM386 291h1v1h-1zM394 291h1v1h-1zM453 291h1v1h-1zM494 291h1v1h-1zM531 291h1v1h-1zM690 291h1v1h-1zM722 291h1v1h-1zM739 291h1v1h-1zM792 291h1v1h-1zM816 291h1v1h-1zM822 291h1v1h-1zM386 292h1v1h-1zM394 292h1v1h-1zM453 292h1v1h-1zM493 292h1v1h-1zM531 292h1v1h-1zM690 292h1v1h-1zM722 292h1v1h-1zM739 292h1v1h-1zM793 292h1v1h-1zM816 292h1v1h-1zM823 292h1v1h-1zM387 293h1v1h-1zM393 293h1v1h-1zM453 293h1v1h-1zM493 293h1v1h-1zM532 293h1v1h-1zM690 293h1v1h-1zM722 293h1v1h-1zM739 293h1v1h-1zM793 293h1v1h-1zM815 293h1v1h-1zM823 293h1v1h-1zM387 294h1v1h-1zM393 294h1v1h-1zM454 294h1v1h-1zM492 294h1v1h-1zM532 294h1v1h-1zM690 294h1v1h-1zM723 294h1v1h-1zM739 294h1v1h-1zM793 294h1v1h-1zM815 294h1v1h-1zM824 294h1v1h-1zM388 295h1v1h-1zM393 295h1v1h-1zM454 295h1v1h-1zM492 295h1v1h-1zM532 295h1v1h-1zM689 295h1v1h-1zM723 295h1v1h-1zM739 295h1v1h-1zM794 295h1v1h-1zM814 295h1v1h-1zM825 295h1v1h-1zM388 296h1v1h-1zM392 296h1v1h-1zM454 296h1v1h-1zM491 296h1v1h-1zM533 296h1v1h-1zM689 296h1v1h-1zM723 296h1v1h-1zM738 296h1v1h-1zM794 296h1v1h-1zM814 296h1v1h-1zM826 296h1v1h-1zM389 297h1v1h-1zM392 297h1v1h-1zM454 297h1v1h-1zM491 297h1v1h-1zM533 297h1v1h-1zM689 297h1v1h-1zM723 297h1v1h-1zM738 297h1v1h-1zM794 297h1v1h-1zM813 297h1v1h-1zM827 297h1v1h-1zM390 298h1v1h-1zM392 298h1v1h-1zM455 298h1v1h-1zM490 298h1v1h-1zM533 298h1v1h-1zM689 298h1v1h-1zM724 298h1v1h-1zM738 298h1v1h-1zM794 298h1v1h-1zM813 298h1v1h-1zM828 298h1v1h-1zM390 299h2v1h-2zM455 299h1v1h-1zM490 299h1v1h-1zM533 299h1v1h-1zM689 299h1v1h-1zM724 299h1v1h-1zM738 299h1v1h-1zM795 299h1v1h-1zM813 299h1v1h-1zM829 299h1v1h-1zM391 300h1v1h-1zM455 300h1v1h-1zM489 300h1v1h-1zM534 300h1v1h-1zM688 300h1v1h-1zM724 300h1v1h-1zM738 300h1v1h-1zM795 300h1v1h-1zM812 300h1v1h-1zM830 300h1v1h-1zM455 301h1v1h-1zM489 301h1v1h-1zM534 301h1v1h-1zM688 301h1v1h-1zM724 301h1v1h-1zM737 301h1v1h-1zM795 301h1v1h-1zM812 301h1v1h-1zM831 301h1v1h-1zM456 302h1v1h-1zM488 302h1v1h-1zM534 302h1v1h-1zM688 302h1v1h-1zM725 302h1v1h-1zM737 302h1v1h-1zM796 302h1v1h-1zM811 302h1v1h-1zM832 302h1v1h-1zM456 303h1v1h-1zM488 303h1v1h-1zM535 303h1v1h-1zM688 303h1v1h-1zM725 303h1v1h-1zM737 303h1v1h-1zM796 303h1v1h-1zM811 303h1v1h-1zM832 303h1v1h-1zM456 304h1v1h-1zM487 304h1v1h-1zM535 304h1v1h-1zM688 304h1v1h-1zM725 304h1v1h-1zM737 304h1v1h-1zM796 304h1v1h-1zM810 304h1v1h-1zM833 304h1v1h-1zM457 305h1v1h-1zM486 305h1v1h-1zM536 305h1v1h-1zM688 305h1v1h-1zM725 305h1v1h-1zM736 305h1v1h-1zM797 305h1v1h-1zM809 305h1v1h-1zM833 305h1v1h-1zM457 306h1v1h-1zM485 306h1v1h-1zM536 306h1v1h-1zM687 306h1v1h-1zM725 306h1v1h-1zM736 306h1v1h-1zM797 306h1v1h-1zM809 306h1v1h-1zM834 306h1v1h-1zM458 307h1v1h-1zM484 307h1v1h-1zM537 307h1v1h-1zM687 307h1v1h-1zM726 307h1v1h-1zM736 307h1v1h-1zM798 307h1v1h-1zM808 307h1v1h-1zM834 307h1v1h-1zM458 308h1v1h-1zM483 308h1v1h-1zM537 308h1v1h-1zM687 308h1v1h-1zM726 308h1v1h-1zM736 308h1v1h-1zM798 308h1v1h-1zM807 308h1v1h-1zM835 308h1v1h-1zM458 309h1v1h-1zM483 309h1v1h-1zM538 309h1v1h-1zM687 309h1v1h-1zM726 309h1v1h-1zM736 309h1v1h-1zM798 309h1v1h-1zM806 309h1v1h-1zM835 309h1v1h-1zM459 310h1v1h-1zM482 310h1v1h-1zM538 310h1v1h-1zM605 310h3v1h-3zM687 310h1v1h-1zM726 310h1v1h-1zM735 310h1v1h-1zM799 310h1v1h-1zM806 310h1v1h-1zM836 310h1v1h-1zM459 311h1v1h-1zM482 311h1v1h-1zM539 311h1v1h-1zM603 311h2v1h-2zM608 311h1v1h-1zM686 311h1v1h-1zM727 311h1v1h-1zM735 311h1v1h-1zM799 311h1v1h-1zM805 311h1v1h-1zM836 311h1v1h-1zM459 312h1v1h-1zM482 312h1v1h-1zM539 312h1v1h-1zM603 312h1v1h-1zM608 312h1v1h-1zM686 312h1v1h-1zM727 312h1v1h-1zM735 312h1v1h-1zM800 312h1v1h-1zM804 312h1v1h-1zM837 312h1v1h-1zM460 313h1v1h-1zM481 313h1v1h-1zM540 313h1v1h-1zM602 313h1v1h-1zM609 313h1v1h-1zM686 313h1v1h-1zM727 313h1v1h-1zM735 313h1v1h-1zM801 313h2v1h-2zM804 313h1v1h-1zM838 313h1v1h-1zM460 314h1v1h-1zM481 314h1v1h-1zM540 314h1v1h-1zM602 314h1v1h-1zM610 314h1v1h-1zM686 314h1v1h-1zM727 314h1v1h-1zM734 314h1v1h-1zM803 314h1v1h-1zM838 314h1v1h-1zM841 314h3v1h-3zM461 315h1v1h-1zM480 315h1v1h-1zM540 315h1v1h-1zM601 315h1v1h-1zM610 315h1v1h-1zM686 315h1v1h-1zM728 315h1v1h-1zM734 315h1v1h-1zM839 315h2v1h-2zM843 315h1v1h-1zM461 316h1v1h-1zM480 316h1v1h-1zM540 316h1v1h-1zM601 316h1v1h-1zM611 316h1v1h-1zM686 316h1v1h-1zM728 316h1v1h-1zM733 316h1v1h-1zM844 316h1v1h-1zM461 317h1v1h-1zM480 317h1v1h-1zM541 317h1v1h-1zM600 317h1v1h-1zM611 317h1v1h-1zM685 317h1v1h-1zM729 317h1v1h-1zM733 317h1v1h-1zM844 317h1v1h-1zM462 318h1v1h-1zM479 318h1v1h-1zM541 318h1v1h-1zM600 318h1v1h-1zM612 318h1v1h-1zM685 318h1v1h-1zM729 318h1v1h-1zM733 318h1v1h-1zM844 318h1v1h-1zM462 319h1v1h-1zM478 319h2v1h-2zM541 319h1v1h-1zM599 319h1v1h-1zM612 319h1v1h-1zM685 319h1v1h-1zM730 319h1v1h-1zM732 319h1v1h-1zM845 319h1v1h-1zM463 320h1v1h-1zM465 320h4v1h-4zM476 320h2v1h-2zM542 320h1v1h-1zM598 320h1v1h-1zM613 320h1v1h-1zM685 320h1v1h-1zM730 320h1v1h-1zM732 320h1v1h-1zM845 320h1v1h-1zM463 321h2v1h-2zM469 321h7v1h-7zM542 321h1v1h-1zM598 321h1v1h-1zM613 321h1v1h-1zM685 321h1v1h-1zM731 321h1v1h-1zM845 321h1v1h-1zM542 322h1v1h-1zM597 322h1v1h-1zM614 322h1v1h-1zM684 322h1v1h-1zM731 322h1v1h-1zM846 322h1v1h-1zM542 323h1v1h-1zM596 323h1v1h-1zM614 323h1v1h-1zM684 323h1v1h-1zM846 323h1v1h-1zM915 323h1v1h-1zM543 324h1v1h-1zM596 324h1v1h-1zM615 324h1v1h-1zM684 324h1v1h-1zM846 324h1v1h-1zM913 324h2v1h-2zM916 324h1v1h-1zM543 325h1v1h-1zM595 325h1v1h-1zM615 325h1v1h-1zM684 325h1v1h-1zM847 325h1v1h-1zM912 325h1v1h-1zM916 325h1v1h-1zM543 326h1v1h-1zM594 326h1v1h-1zM615 326h1v1h-1zM684 326h1v1h-1zM847 326h1v1h-1zM910 326h2v1h-2zM917 326h1v1h-1zM544 327h1v1h-1zM594 327h1v1h-1zM616 327h1v1h-1zM684 327h1v1h-1zM847 327h1v1h-1zM908 327h2v1h-2zM917 327h1v1h-1zM544 328h1v1h-1zM593 328h1v1h-1zM616 328h1v1h-1zM683 328h1v1h-1zM848 328h1v1h-1zM907 328h1v1h-1zM918 328h1v1h-1zM544 329h1v1h-1zM575 329h2v1h-2zM592 329h1v1h-1zM617 329h1v1h-1zM683 329h1v1h-1zM848 329h1v1h-1zM907 329h1v1h-1zM918 329h1v1h-1zM545 330h1v1h-1zM574 330h1v1h-1zM577 330h3v1h-3zM592 330h1v1h-1zM617 330h1v1h-1zM683 330h1v1h-1zM848 330h1v1h-1zM907 330h1v1h-1zM919 330h1v1h-1zM545 331h1v1h-1zM574 331h1v1h-1zM579 331h1v1h-1zM591 331h1v1h-1zM617 331h1v1h-1zM683 331h1v1h-1zM849 331h1v1h-1zM906 331h1v1h-1zM919 331h1v1h-1zM545 332h1v1h-1zM573 332h1v1h-1zM580 332h1v1h-1zM590 332h1v1h-1zM618 332h1v1h-1zM683 332h1v1h-1zM849 332h1v1h-1zM906 332h1v1h-1zM920 332h1v1h-1zM545 333h1v1h-1zM572 333h1v1h-1zM580 333h1v1h-1zM590 333h1v1h-1zM618 333h1v1h-1zM682 333h1v1h-1zM849 333h1v1h-1zM906 333h1v1h-1zM920 333h1v1h-1zM546 334h1v1h-1zM572 334h1v1h-1zM581 334h1v1h-1zM589 334h1v1h-1zM619 334h1v1h-1zM682 334h1v1h-1zM849 334h1v1h-1zM906 334h1v1h-1zM921 334h1v1h-1zM546 335h1v1h-1zM571 335h1v1h-1zM581 335h1v1h-1zM588 335h1v1h-1zM619 335h1v1h-1zM682 335h1v1h-1zM850 335h1v1h-1zM905 335h1v1h-1zM922 335h1v1h-1zM546 336h1v1h-1zM570 336h1v1h-1zM581 336h1v1h-1zM588 336h1v1h-1zM619 336h1v1h-1zM682 336h1v1h-1zM850 336h1v1h-1zM905 336h1v1h-1zM922 336h1v1h-1zM547 337h1v1h-1zM569 337h1v1h-1zM582 337h1v1h-1zM587 337h1v1h-1zM620 337h1v1h-1zM681 337h1v1h-1zM850 337h1v1h-1zM905 337h1v1h-1zM923 337h1v1h-1zM547 338h1v1h-1zM569 338h1v1h-1zM582 338h1v1h-1zM585 338h2v1h-2zM620 338h1v1h-1zM681 338h1v1h-1zM851 338h1v1h-1zM905 338h1v1h-1zM923 338h1v1h-1zM547 339h1v1h-1zM568 339h1v1h-1zM583 339h2v1h-2zM621 339h1v1h-1zM681 339h1v1h-1zM851 339h1v1h-1zM904 339h1v1h-1zM923 339h1v1h-1zM548 340h1v1h-1zM567 340h1v1h-1zM583 340h1v1h-1zM621 340h1v1h-1zM655 340h1v1h-1zM681 340h1v1h-1zM851 340h1v1h-1zM904 340h1v1h-1zM924 340h1v1h-1zM548 341h1v1h-1zM566 341h1v1h-1zM621 341h1v1h-1zM653 341h2v1h-2zM656 341h1v1h-1zM680 341h1v1h-1zM852 341h1v1h-1zM904 341h1v1h-1zM924 341h1v1h-1zM548 342h1v1h-1zM565 342h1v1h-1zM622 342h1v1h-1zM652 342h1v1h-1zM657 342h1v1h-1zM680 342h1v1h-1zM852 342h1v1h-1zM904 342h1v1h-1zM924 342h1v1h-1zM548 343h1v1h-1zM565 343h1v1h-1zM622 343h1v1h-1zM651 343h1v1h-1zM657 343h1v1h-1zM680 343h1v1h-1zM853 343h1v1h-1zM903 343h1v1h-1zM924 343h1v1h-1zM549 344h1v1h-1zM564 344h1v1h-1zM623 344h1v1h-1zM650 344h1v1h-1zM658 344h1v1h-1zM680 344h1v1h-1zM853 344h1v1h-1zM903 344h1v1h-1zM924 344h1v1h-1zM549 345h1v1h-1zM563 345h1v1h-1zM623 345h1v1h-1zM649 345h1v1h-1zM659 345h1v1h-1zM679 345h1v1h-1zM853 345h1v1h-1zM903 345h1v1h-1zM925 345h1v1h-1zM549 346h1v1h-1zM563 346h1v1h-1zM624 346h1v1h-1zM649 346h1v1h-1zM659 346h1v1h-1zM679 346h1v1h-1zM854 346h1v1h-1zM902 346h1v1h-1zM925 346h1v1h-1zM549 347h1v1h-1zM563 347h1v1h-1zM625 347h1v1h-1zM648 347h1v1h-1zM660 347h1v1h-1zM679 347h1v1h-1zM854 347h1v1h-1zM902 347h1v1h-1zM925 347h1v1h-1zM550 348h1v1h-1zM562 348h1v1h-1zM625 348h1v1h-1zM647 348h1v1h-1zM660 348h1v1h-1zM678 348h1v1h-1zM855 348h1v1h-1zM902 348h1v1h-1zM925 348h1v1h-1zM550 349h1v1h-1zM562 349h1v1h-1zM626 349h1v1h-1zM646 349h1v1h-1zM661 349h1v1h-1zM678 349h1v1h-1zM855 349h1v1h-1zM901 349h1v1h-1zM926 349h1v1h-1zM550 350h1v1h-1zM562 350h1v1h-1zM627 350h1v1h-1zM646 350h1v1h-1zM661 350h1v1h-1zM678 350h1v1h-1zM855 350h1v1h-1zM901 350h1v1h-1zM926 350h1v1h-1zM550 351h1v1h-1zM562 351h1v1h-1zM628 351h1v1h-1zM645 351h1v1h-1zM662 351h1v1h-1zM678 351h1v1h-1zM856 351h1v1h-1zM900 351h1v1h-1zM926 351h1v1h-1zM551 352h1v1h-1zM561 352h1v1h-1zM629 352h1v1h-1zM644 352h1v1h-1zM662 352h1v1h-1zM677 352h1v1h-1zM856 352h1v1h-1zM900 352h1v1h-1zM926 352h1v1h-1zM551 353h1v1h-1zM561 353h1v1h-1zM629 353h1v1h-1zM644 353h1v1h-1zM663 353h1v1h-1zM677 353h1v1h-1zM856 353h1v1h-1zM900 353h1v1h-1zM926 353h1v1h-1zM551 354h1v1h-1zM561 354h1v1h-1zM630 354h1v1h-1zM643 354h1v1h-1zM663 354h1v1h-1zM677 354h1v1h-1zM856 354h1v1h-1zM899 354h1v1h-1zM927 354h1v1h-1zM552 355h1v1h-1zM561 355h1v1h-1zM631 355h1v1h-1zM642 355h1v1h-1zM663 355h1v1h-1zM677 355h1v1h-1zM857 355h1v1h-1zM899 355h1v1h-1zM927 355h1v1h-1zM552 356h1v1h-1zM560 356h1v1h-1zM632 356h1v1h-1zM641 356h1v1h-1zM664 356h1v1h-1zM676 356h1v1h-1zM857 356h1v1h-1zM899 356h1v1h-1zM927 356h1v1h-1zM553 357h1v1h-1zM560 357h1v1h-1zM633 357h1v1h-1zM641 357h1v1h-1zM664 357h1v1h-1zM676 357h1v1h-1zM857 357h1v1h-1zM899 357h1v1h-1zM927 357h1v1h-1zM553 358h1v1h-1zM560 358h1v1h-1zM634 358h1v1h-1zM640 358h1v1h-1zM665 358h1v1h-1zM676 358h1v1h-1zM857 358h1v1h-1zM899 358h1v1h-1zM927 358h1v1h-1zM554 359h1v1h-1zM560 359h1v1h-1zM635 359h5v1h-5zM665 359h1v1h-1zM676 359h1v1h-1zM858 359h1v1h-1zM898 359h1v1h-1zM928 359h1v1h-1zM554 360h1v1h-1zM559 360h1v1h-1zM666 360h1v1h-1zM675 360h1v1h-1zM858 360h1v1h-1zM898 360h1v1h-1zM928 360h1v1h-1zM555 361h1v1h-1zM557 361h3v1h-3zM666 361h1v1h-1zM675 361h1v1h-1zM858 361h1v1h-1zM898 361h1v1h-1zM928 361h1v1h-1zM555 362h2v1h-2zM667 362h1v1h-1zM674 362h1v1h-1zM858 362h1v1h-1zM898 362h1v1h-1zM928 362h1v1h-1zM667 363h1v1h-1zM673 363h1v1h-1zM859 363h1v1h-1zM898 363h1v1h-1zM929 363h1v1h-1zM668 364h1v1h-1zM673 364h1v1h-1zM859 364h1v1h-1zM898 364h1v1h-1zM929 364h1v1h-1zM669 365h2v1h-2zM672 365h1v1h-1zM859 365h1v1h-1zM897 365h1v1h-1zM929 365h1v1h-1zM671 366h1v1h-1zM860 366h1v1h-1zM897 366h1v1h-1zM929 366h1v1h-1zM860 367h1v1h-1zM897 367h1v1h-1zM929 367h1v1h-1zM860 368h1v1h-1zM897 368h1v1h-1zM930 368h1v1h-1zM1203 368h1v1h-1zM860 369h1v1h-1zM897 369h1v1h-1zM930 369h1v1h-1zM1202 369h1v1h-1zM1204 369h1v1h-1zM861 370h1v1h-1zM897 370h1v1h-1zM930 370h1v1h-1zM1201 370h1v1h-1zM1204 370h1v1h-1zM861 371h1v1h-1zM897 371h1v1h-1zM930 371h1v1h-1zM1201 371h1v1h-1zM1205 371h1v1h-1zM861 372h1v1h-1zM896 372h1v1h-1zM931 372h1v1h-1zM1200 372h1v1h-1zM1205 372h1v1h-1zM862 373h1v1h-1zM896 373h1v1h-1zM931 373h1v1h-1zM1159 373h2v1h-2zM1199 373h1v1h-1zM1206 373h1v1h-1zM862 374h1v1h-1zM896 374h1v1h-1zM931 374h1v1h-1zM1159 374h1v1h-1zM1161 374h3v1h-3zM1199 374h1v1h-1zM1206 374h1v1h-1zM862 375h1v1h-1zM896 375h1v1h-1zM931 375h1v1h-1zM1158 375h1v1h-1zM1163 375h1v1h-1zM1198 375h1v1h-1zM1207 375h1v1h-1zM862 376h1v1h-1zM896 376h1v1h-1zM931 376h1v1h-1zM1158 376h1v1h-1zM1164 376h1v1h-1zM1198 376h1v1h-1zM1207 376h1v1h-1zM863 377h1v1h-1zM896 377h1v1h-1zM932 377h1v1h-1zM1157 377h1v1h-1zM1164 377h1v1h-1zM1198 377h1v1h-1zM1208 377h1v1h-1zM863 378h1v1h-1zM895 378h1v1h-1zM932 378h1v1h-1zM1157 378h1v1h-1zM1165 378h1v1h-1zM1197 378h1v1h-1zM1208 378h1v1h-1zM864 379h2v1h-2zM869 379h3v1h-3zM895 379h1v1h-1zM932 379h1v1h-1zM1156 379h1v1h-1zM1165 379h1v1h-1zM1197 379h1v1h-1zM1208 379h1v1h-1zM866 380h3v1h-3zM872 380h1v1h-1zM895 380h1v1h-1zM932 380h1v1h-1zM1156 380h1v1h-1zM1166 380h1v1h-1zM1196 380h1v1h-1zM1209 380h1v1h-1zM873 381h2v1h-2zM895 381h1v1h-1zM933 381h1v1h-1zM1155 381h1v1h-1zM1166 381h1v1h-1zM1196 381h1v1h-1zM1209 381h1v1h-1zM875 382h1v1h-1zM895 382h1v1h-1zM933 382h1v1h-1zM1155 382h1v1h-1zM1167 382h1v1h-1zM1196 382h1v1h-1zM1209 382h1v1h-1zM875 383h1v1h-1zM894 383h1v1h-1zM933 383h1v1h-1zM1155 383h1v1h-1zM1167 383h1v1h-1zM1195 383h1v1h-1zM1210 383h1v1h-1zM876 384h1v1h-1zM894 384h1v1h-1zM933 384h1v1h-1zM1155 384h1v1h-1zM1167 384h1v1h-1zM1195 384h1v1h-1zM1210 384h1v1h-1zM876 385h1v1h-1zM893 385h1v1h-1zM934 385h1v1h-1zM1154 385h1v1h-1zM1168 385h1v1h-1zM1195 385h1v1h-1zM1210 385h1v1h-1zM877 386h1v1h-1zM893 386h1v1h-1zM934 386h1v1h-1zM1154 386h1v1h-1zM1168 386h1v1h-1zM1194 386h1v1h-1zM1211 386h1v1h-1zM877 387h1v1h-1zM892 387h1v1h-1zM934 387h1v1h-1zM1154 387h1v1h-1zM1168 387h1v1h-1zM1194 387h1v1h-1zM1211 387h1v1h-1zM878 388h1v1h-1zM892 388h1v1h-1zM934 388h1v1h-1zM1154 388h1v1h-1zM1169 388h1v1h-1zM1194 388h1v1h-1zM1211 388h1v1h-1zM878 389h1v1h-1zM891 389h1v1h-1zM935 389h1v1h-1zM1153 389h1v1h-1zM1169 389h1v1h-1zM1193 389h1v1h-1zM1211 389h1v1h-1zM879 390h1v1h-1zM891 390h1v1h-1zM935 390h1v1h-1zM1153 390h1v1h-1zM1169 390h1v1h-1zM1193 390h1v1h-1zM1212 390h1v1h-1zM879 391h1v1h-1zM891 391h1v1h-1zM935 391h1v1h-1zM1153 391h1v1h-1zM1170 391h1v1h-1zM1193 391h1v1h-1zM1212 391h1v1h-1zM880 392h2v1h-2zM890 392h1v1h-1zM935 392h1v1h-1zM1153 392h1v1h-1zM1170 392h1v1h-1zM1193 392h1v1h-1zM1212 392h1v1h-1zM882 393h2v1h-2zM890 393h1v1h-1zM936 393h1v1h-1zM1152 393h1v1h-1zM1170 393h1v1h-1zM1192 393h1v1h-1zM1212 393h1v1h-1zM884 394h1v1h-1zM889 394h1v1h-1zM936 394h1v1h-1zM1152 394h1v1h-1zM1171 394h1v1h-1zM1192 394h1v1h-1zM1213 394h1v1h-1zM885 395h1v1h-1zM889 395h1v1h-1zM936 395h1v1h-1zM1152 395h1v1h-1zM1171 395h1v1h-1zM1192 395h1v1h-1zM1213 395h1v1h-1zM885 396h1v1h-1zM888 396h1v1h-1zM936 396h1v1h-1zM963 396h2v1h-2zM1152 396h1v1h-1zM1171 396h1v1h-1zM1191 396h1v1h-1zM1213 396h1v1h-1zM886 397h1v1h-1zM888 397h1v1h-1zM937 397h1v1h-1zM961 397h2v1h-2zM965 397h4v1h-4zM1151 397h1v1h-1zM1172 397h1v1h-1zM1191 397h1v1h-1zM1213 397h1v1h-1zM887 398h1v1h-1zM937 398h1v1h-1zM960 398h1v1h-1zM969 398h3v1h-3zM1151 398h1v1h-1zM1172 398h1v1h-1zM1191 398h1v1h-1zM1213 398h1v1h-1zM937 399h1v1h-1zM959 399h1v1h-1zM971 399h1v1h-1zM1151 399h1v1h-1zM1173 399h1v1h-1zM1190 399h1v1h-1zM1214 399h1v1h-1zM938 400h1v1h-1zM958 400h1v1h-1zM972 400h1v1h-1zM1151 400h1v1h-1zM1173 400h1v1h-1zM1190 400h1v1h-1zM1214 400h1v1h-1zM938 401h1v1h-1zM957 401h1v1h-1zM972 401h1v1h-1zM1151 401h1v1h-1zM1173 401h1v1h-1zM1190 401h1v1h-1zM1214 401h1v1h-1zM938 402h1v1h-1zM957 402h1v1h-1zM972 402h1v1h-1zM1150 402h1v1h-1zM1174 402h1v1h-1zM1189 402h1v1h-1zM1214 402h1v1h-1zM1339 402h1v1h-1zM938 403h1v1h-1zM956 403h1v1h-1zM972 403h1v1h-1zM1150 403h1v1h-1zM1174 403h1v1h-1zM1189 403h1v1h-1zM1215 403h1v1h-1zM1339 403h1v1h-1zM939 404h1v1h-1zM955 404h1v1h-1zM973 404h1v1h-1zM1150 404h1v1h-1zM1175 404h1v1h-1zM1188 404h1v1h-1zM1215 404h1v1h-1zM1339 404h1v1h-1zM939 405h1v1h-1zM954 405h1v1h-1zM973 405h1v1h-1zM1150 405h1v1h-1zM1175 405h1v1h-1zM1188 405h1v1h-1zM1215 405h1v1h-1zM1338 405h1v1h-1zM940 406h1v1h-1zM954 406h1v1h-1zM973 406h1v1h-1zM1150 406h1v1h-1zM1176 406h1v1h-1zM1188 406h1v1h-1zM1215 406h1v1h-1zM1338 406h1v1h-1zM940 407h1v1h-1zM953 407h1v1h-1zM974 407h1v1h-1zM1149 407h1v1h-1zM1176 407h1v1h-1zM1187 407h1v1h-1zM1215 407h1v1h-1zM1338 407h1v1h-1zM941 408h1v1h-1zM953 408h1v1h-1zM974 408h1v1h-1zM1149 408h1v1h-1zM1177 408h1v1h-1zM1187 408h1v1h-1zM1216 408h1v1h-1zM1338 408h1v1h-1zM941 409h1v1h-1zM952 409h1v1h-1zM974 409h1v1h-1zM1149 409h1v1h-1zM1177 409h1v1h-1zM1186 409h1v1h-1zM1216 409h1v1h-1zM1337 409h1v1h-1zM942 410h1v1h-1zM952 410h1v1h-1zM974 410h1v1h-1zM1149 410h1v1h-1zM1178 410h1v1h-1zM1185 410h1v1h-1zM1216 410h1v1h-1zM1337 410h1v1h-1zM942 411h1v1h-1zM949 411h3v1h-3zM975 411h1v1h-1zM1149 411h1v1h-1zM1178 411h1v1h-1zM1184 411h1v1h-1zM1216 411h1v1h-1zM1337 411h1v1h-1zM943 412h6v1h-6zM975 412h1v1h-1zM1148 412h1v1h-1zM1179 412h5v1h-5zM1216 412h1v1h-1zM1337 412h1v1h-1zM975 413h1v1h-1zM1148 413h1v1h-1zM1216 413h1v1h-1zM1337 413h1v1h-1zM975 414h1v1h-1zM1148 414h1v1h-1zM1217 414h1v1h-1zM1336 414h1v1h-1zM976 415h1v1h-1zM1148 415h1v1h-1zM1217 415h1v1h-1zM1336 415h1v1h-1zM976 416h1v1h-1zM1148 416h1v1h-1zM1217 416h1v1h-1zM1336 416h1v1h-1zM976 417h1v1h-1zM1147 417h1v1h-1zM1217 417h1v1h-1zM1336 417h1v1h-1zM976 418h1v1h-1zM1147 418h1v1h-1zM1217 418h1v1h-1zM1335 418h1v1h-1zM976 419h1v1h-1zM1147 419h1v1h-1zM1218 419h1v1h-1zM1335 419h1v1h-1zM977 420h1v1h-1zM1147 420h1v1h-1zM1218 420h1v1h-1zM1335 420h1v1h-1zM977 421h1v1h-1zM1147 421h1v1h-1zM1218 421h1v1h-1zM1335 421h1v1h-1zM977 422h1v1h-1zM1146 422h1v1h-1zM1218 422h1v1h-1zM1334 422h1v1h-1zM977 423h1v1h-1zM1146 423h1v1h-1zM1218 423h1v1h-1zM1334 423h1v1h-1zM977 424h1v1h-1zM1146 424h1v1h-1zM1218 424h1v1h-1zM1334 424h1v1h-1zM977 425h1v1h-1zM1146 425h1v1h-1zM1219 425h1v1h-1zM1333 425h1v1h-1zM978 426h1v1h-1zM1145 426h1v1h-1zM1219 426h1v1h-1zM1315 426h1v1h-1zM1333 426h1v1h-1zM978 427h1v1h-1zM1145 427h1v1h-1zM1219 427h1v1h-1zM1314 427h1v1h-1zM1316 427h2v1h-2zM1332 427h1v1h-1zM978 428h1v1h-1zM1145 428h1v1h-1zM1219 428h1v1h-1zM1313 428h1v1h-1zM1318 428h2v1h-2zM1332 428h1v1h-1zM978 429h1v1h-1zM1145 429h1v1h-1zM1219 429h1v1h-1zM1312 429h1v1h-1zM1320 429h2v1h-2zM1332 429h1v1h-1zM978 430h1v1h-1zM1144 430h1v1h-1zM1220 430h1v1h-1zM1311 430h1v1h-1zM1322 430h7v1h-7zM1331 430h1v1h-1zM979 431h1v1h-1zM1144 431h1v1h-1zM1220 431h1v1h-1zM1311 431h1v1h-1zM1329 431h3v1h-3zM979 432h1v1h-1zM1144 432h1v1h-1zM1220 432h1v1h-1zM1310 432h1v1h-1zM979 433h1v1h-1zM1144 433h1v1h-1zM1220 433h1v1h-1zM1263 433h1v1h-1zM1310 433h1v1h-1zM979 434h1v1h-1zM1143 434h1v1h-1zM1220 434h1v1h-1zM1261 434h2v1h-2zM1264 434h1v1h-1zM1309 434h1v1h-1zM979 435h1v1h-1zM1143 435h1v1h-1zM1221 435h1v1h-1zM1260 435h1v1h-1zM1265 435h2v1h-2zM1309 435h1v1h-1zM980 436h1v1h-1zM1143 436h1v1h-1zM1221 436h1v1h-1zM1259 436h1v1h-1zM1267 436h1v1h-1zM1309 436h1v1h-1zM980 437h1v1h-1zM1143 437h1v1h-1zM1221 437h1v1h-1zM1259 437h1v1h-1zM1268 437h1v1h-1zM1308 437h1v1h-1zM980 438h1v1h-1zM1142 438h1v1h-1zM1221 438h1v1h-1zM1258 438h1v1h-1zM1268 438h1v1h-1zM1308 438h1v1h-1zM980 439h1v1h-1zM1142 439h1v1h-1zM1221 439h1v1h-1zM1258 439h1v1h-1zM1269 439h1v1h-1zM1307 439h1v1h-1zM980 440h1v1h-1zM1039 440h1v1h-1zM1142 440h1v1h-1zM1222 440h1v1h-1zM1257 440h1v1h-1zM1269 440h1v1h-1zM1307 440h1v1h-1zM981 441h1v1h-1zM1039 441h3v1h-3zM1142 441h1v1h-1zM1222 441h1v1h-1zM1257 441h1v1h-1zM1270 441h1v1h-1zM1307 441h1v1h-1zM981 442h1v1h-1zM1038 442h1v1h-1zM1042 442h2v1h-2zM1141 442h1v1h-1zM1222 442h1v1h-1zM1257 442h1v1h-1zM1270 442h1v1h-1zM1306 442h1v1h-1zM981 443h1v1h-1zM1038 443h1v1h-1zM1044 443h1v1h-1zM1141 443h1v1h-1zM1222 443h1v1h-1zM1256 443h1v1h-1zM1271 443h1v1h-1zM1306 443h1v1h-1zM981 444h1v1h-1zM1029 444h3v1h-3zM1037 444h1v1h-1zM1045 444h1v1h-1zM1141 444h1v1h-1zM1222 444h1v1h-1zM1256 444h1v1h-1zM1272 444h1v1h-1zM1306 444h1v1h-1zM981 445h1v1h-1zM1027 445h2v1h-2zM1032 445h1v1h-1zM1037 445h1v1h-1zM1045 445h1v1h-1zM1140 445h1v1h-1zM1223 445h1v1h-1zM1255 445h1v1h-1zM1272 445h1v1h-1zM1305 445h1v1h-1zM982 446h1v1h-1zM1026 446h1v1h-1zM1033 446h1v1h-1zM1036 446h1v1h-1zM1046 446h1v1h-1zM1140 446h1v1h-1zM1223 446h1v1h-1zM1255 446h1v1h-1zM1273 446h1v1h-1zM1305 446h1v1h-1zM982 447h1v1h-1zM1026 447h1v1h-1zM1033 447h1v1h-1zM1036 447h1v1h-1zM1047 447h1v1h-1zM1140 447h1v1h-1zM1223 447h1v1h-1zM1254 447h1v1h-1zM1273 447h1v1h-1zM1305 447h1v1h-1zM982 448h1v1h-1zM1025 448h1v1h-1zM1034 448h2v1h-2zM1047 448h1v1h-1zM1140 448h1v1h-1zM1224 448h1v1h-1zM1254 448h1v1h-1zM1274 448h1v1h-1zM1304 448h1v1h-1zM982 449h1v1h-1zM1025 449h1v1h-1zM1035 449h1v1h-1zM1048 449h1v1h-1zM1139 449h1v1h-1zM1224 449h1v1h-1zM1253 449h1v1h-1zM1274 449h1v1h-1zM1304 449h1v1h-1zM982 450h1v1h-1zM1024 450h1v1h-1zM1048 450h1v1h-1zM1139 450h1v1h-1zM1225 450h1v1h-1zM1253 450h1v1h-1zM1275 450h1v1h-1zM1304 450h1v1h-1zM983 451h1v1h-1zM1024 451h1v1h-1zM1049 451h1v1h-1zM1139 451h1v1h-1zM1226 451h1v1h-1zM1252 451h1v1h-1zM1275 451h1v1h-1zM1303 451h1v1h-1zM983 452h1v1h-1zM1015 452h1v1h-1zM1023 452h1v1h-1zM1049 452h1v1h-1zM1138 452h1v1h-1zM1226 452h1v1h-1zM1252 452h1v1h-1zM1276 452h1v1h-1zM1303 452h1v1h-1zM983 453h1v1h-1zM1013 453h2v1h-2zM1016 453h1v1h-1zM1022 453h1v1h-1zM1049 453h1v1h-1zM1138 453h1v1h-1zM1227 453h1v1h-1zM1251 453h1v1h-1zM1276 453h1v1h-1zM1303 453h1v1h-1zM983 454h1v1h-1zM1012 454h1v1h-1zM1016 454h1v1h-1zM1022 454h1v1h-1zM1050 454h1v1h-1zM1137 454h1v1h-1zM1227 454h1v1h-1zM1251 454h1v1h-1zM1277 454h1v1h-1zM1302 454h1v1h-1zM983 455h1v1h-1zM1011 455h1v1h-1zM1017 455h1v1h-1zM1021 455h1v1h-1zM1050 455h1v1h-1zM1054 455h2v1h-2zM1137 455h1v1h-1zM1228 455h1v1h-1zM1250 455h1v1h-1zM1277 455h1v1h-1zM1302 455h1v1h-1zM984 456h1v1h-1zM1011 456h1v1h-1zM1018 456h1v1h-1zM1020 456h1v1h-1zM1051 456h3v1h-3zM1055 456h1v1h-1zM1136 456h1v1h-1zM1228 456h1v1h-1zM1250 456h1v1h-1zM1278 456h1v1h-1zM1302 456h1v1h-1zM984 457h1v1h-1zM1010 457h1v1h-1zM1018 457h1v1h-1zM1020 457h1v1h-1zM1051 457h1v1h-1zM1056 457h1v1h-1zM1136 457h1v1h-1zM1229 457h1v1h-1zM1250 457h1v1h-1zM1278 457h1v1h-1zM1301 457h1v1h-1zM984 458h1v1h-1zM1010 458h1v1h-1zM1019 458h1v1h-1zM1056 458h1v1h-1zM1135 458h1v1h-1zM1229 458h1v1h-1zM1249 458h1v1h-1zM1279 458h1v1h-1zM1301 458h1v1h-1zM984 459h1v1h-1zM1010 459h1v1h-1zM1056 459h1v1h-1zM1135 459h1v1h-1zM1230 459h1v1h-1zM1249 459h1v1h-1zM1279 459h1v1h-1zM1301 459h1v1h-1zM984 460h1v1h-1zM1009 460h1v1h-1zM1057 460h1v1h-1zM1135 460h1v1h-1zM1230 460h1v1h-1zM1248 460h1v1h-1zM1279 460h1v1h-1zM1301 460h1v1h-1zM985 461h1v1h-1zM1009 461h1v1h-1zM1057 461h1v1h-1zM1134 461h1v1h-1zM1231 461h1v1h-1zM1248 461h1v1h-1zM1280 461h1v1h-1zM1300 461h1v1h-1zM985 462h1v1h-1zM1009 462h1v1h-1zM1058 462h1v1h-1zM1134 462h1v1h-1zM1231 462h1v1h-1zM1248 462h1v1h-1zM1280 462h1v1h-1zM1300 462h1v1h-1zM985 463h1v1h-1zM1009 463h1v1h-1zM1058 463h1v1h-1zM1133 463h1v1h-1zM1232 463h1v1h-1zM1247 463h1v1h-1zM1280 463h1v1h-1zM1300 463h1v1h-1zM985 464h1v1h-1zM1008 464h1v1h-1zM1058 464h1v1h-1zM1133 464h1v1h-1zM1232 464h1v1h-1zM1247 464h1v1h-1zM1281 464h1v1h-1zM1299 464h1v1h-1zM986 465h1v1h-1zM1008 465h1v1h-1zM1059 465h1v1h-1zM1133 465h1v1h-1zM1233 465h1v1h-1zM1245 465h2v1h-2zM1281 465h1v1h-1zM1299 465h1v1h-1zM986 466h1v1h-1zM1008 466h1v1h-1zM1059 466h1v1h-1zM1132 466h1v1h-1zM1234 466h1v1h-1zM1244 466h1v1h-1zM1282 466h1v1h-1zM1299 466h1v1h-1zM986 467h1v1h-1zM1007 467h1v1h-1zM1060 467h1v1h-1zM1132 467h1v1h-1zM1234 467h1v1h-1zM1243 467h1v1h-1zM1282 467h1v1h-1zM1298 467h1v1h-1zM986 468h1v1h-1zM1007 468h1v1h-1zM1060 468h1v1h-1zM1131 468h1v1h-1zM1235 468h1v1h-1zM1242 468h1v1h-1zM1282 468h1v1h-1zM1298 468h1v1h-1zM986 469h1v1h-1zM1007 469h1v1h-1zM1061 469h1v1h-1zM1131 469h1v1h-1zM1236 469h1v1h-1zM1241 469h1v1h-1zM1283 469h1v1h-1zM1297 469h1v1h-1zM987 470h1v1h-1zM1006 470h1v1h-1zM1061 470h1v1h-1zM1131 470h1v1h-1zM1237 470h2v1h-2zM1240 470h1v1h-1zM1283 470h1v1h-1zM1297 470h1v1h-1zM987 471h1v1h-1zM1006 471h1v1h-1zM1062 471h1v1h-1zM1130 471h1v1h-1zM1239 471h1v1h-1zM1284 471h1v1h-1zM1296 471h1v1h-1zM987 472h1v1h-1zM1005 472h1v1h-1zM1062 472h1v1h-1zM1130 472h1v1h-1zM1285 472h1v1h-1zM1296 472h1v1h-1zM987 473h1v1h-1zM1005 473h1v1h-1zM1063 473h1v1h-1zM1130 473h1v1h-1zM1285 473h1v1h-1zM1294 473h2v1h-2zM987 474h1v1h-1zM1004 474h1v1h-1zM1063 474h1v1h-1zM1129 474h1v1h-1zM1286 474h1v1h-1zM1292 474h2v1h-2zM988 475h1v1h-1zM1004 475h1v1h-1zM1064 475h1v1h-1zM1129 475h1v1h-1zM1287 475h5v1h-5zM988 476h1v1h-1zM1003 476h1v1h-1zM1064 476h1v1h-1zM1128 476h1v1h-1zM988 477h1v1h-1zM1003 477h1v1h-1zM1064 477h1v1h-1zM1128 477h1v1h-1zM988 478h1v1h-1zM1003 478h1v1h-1zM1064 478h1v1h-1zM1128 478h1v1h-1zM989 479h1v1h-1zM1002 479h1v1h-1zM1065 479h1v1h-1zM1127 479h1v1h-1zM989 480h1v1h-1zM1002 480h1v1h-1zM1065 480h1v1h-1zM1127 480h1v1h-1zM989 481h1v1h-1zM1001 481h1v1h-1zM1065 481h1v1h-1zM1127 481h1v1h-1zM989 482h1v1h-1zM1001 482h1v1h-1zM1066 482h1v1h-1zM1126 482h1v1h-1zM990 483h1v1h-1zM1001 483h1v1h-1zM1066 483h1v1h-1zM1126 483h1v1h-1zM990 484h1v1h-1zM1000 484h1v1h-1zM1066 484h1v1h-1zM1125 484h1v1h-1zM990 485h1v1h-1zM1000 485h1v1h-1zM1066 485h1v1h-1zM1125 485h1v1h-1zM990 486h1v1h-1zM999 486h1v1h-1zM1067 486h1v1h-1zM1124 486h1v1h-1zM991 487h1v1h-1zM999 487h1v1h-1zM1067 487h1v1h-1zM1124 487h1v1h-1zM991 488h1v1h-1zM998 488h1v1h-1zM1067 488h1v1h-1zM1123 488h1v1h-1zM991 489h1v1h-1zM998 489h1v1h-1zM1068 489h1v1h-1zM1123 489h1v1h-1zM992 490h1v1h-1zM997 490h1v1h-1zM1068 490h1v1h-1zM1123 490h1v1h-1zM993 491h1v1h-1zM997 491h1v1h-1zM1068 491h1v1h-1zM1122 491h1v1h-1zM993 492h1v1h-1zM996 492h1v1h-1zM1069 492h1v1h-1zM1122 492h1v1h-1zM994 493h1v1h-1zM996 493h1v1h-1zM1069 493h1v1h-1zM1121 493h1v1h-1zM995 494h1v1h-1zM1070 494h1v1h-1zM1121 494h1v1h-1zM1070 495h1v1h-1zM1120 495h1v1h-1zM1070 496h1v1h-1zM1120 496h1v1h-1zM1071 497h1v1h-1zM1119 497h1v1h-1zM1071 498h1v1h-1zM1119 498h1v1h-1zM1071 499h1v1h-1zM1118 499h1v1h-1zM1072 500h1v1h-1zM1118 500h1v1h-1zM1072 501h1v1h-1zM1117 501h1v1h-1zM1072 502h1v1h-1zM1107 502h5v1h-5zM1116 502h1v1h-1zM1073 503h1v1h-1zM1107 503h1v1h-1zM1112 503h2v1h-2zM1116 503h1v1h-1zM1073 504h1v1h-1zM1106 504h1v1h-1zM1114 504h2v1h-2zM1074 505h1v1h-1zM1106 505h1v1h-1zM1074 506h1v1h-1zM1105 506h1v1h-1zM1074 507h1v1h-1zM1105 507h1v1h-1zM1075 508h1v1h-1zM1104 508h1v1h-1zM1075 509h1v1h-1zM1104 509h1v1h-1zM1076 510h1v1h-1zM1103 510h1v1h-1zM1076 511h1v1h-1zM1103 511h1v1h-1zM1077 512h1v1h-1zM1102 512h1v1h-1zM1077 513h1v1h-1zM1102 513h1v1h-1zM1078 514h1v1h-1zM1102 514h1v1h-1zM1078 515h1v1h-1zM1101 515h1v1h-1zM1079 516h1v1h-1zM1101 516h1v1h-1zM1079 517h1v1h-1zM1101 517h1v1h-1zM1079 518h1v1h-1zM1100 518h1v1h-1zM1079 519h1v1h-1zM1100 519h1v1h-1zM1080 520h1v1h-1zM1100 520h1v1h-1zM1080 521h1v1h-1zM1099 521h1v1h-1zM1080 522h1v1h-1zM1099 522h1v1h-1zM1080 523h1v1h-1zM1098 523h1v1h-1zM1081 524h1v1h-1zM1097 524h1v1h-1zM1081 525h1v1h-1zM1097 525h1v1h-1zM1081 526h1v1h-1zM1096 526h1v1h-1zM1081 527h1v1h-1zM1095 527h1v1h-1zM1082 528h1v1h-1zM1095 528h1v1h-1zM1082 529h1v1h-1zM1094 529h1v1h-1zM1082 530h1v1h-1zM1094 530h1v1h-1zM1082 531h1v1h-1zM1093 531h1v1h-1zM1083 532h1v1h-1zM1093 532h1v1h-1zM1083 533h1v1h-1zM1092 533h1v1h-1zM1083 534h1v1h-1zM1092 534h1v1h-1zM1084 535h2v1h-2zM1089 535h3v1h-3zM1086 536h3v1h-3z" fill="#ffa500"/>
<rect x="3" y="254" width="1680" height="2" fill="#ff0000"/>
<rect x="3" y="338" width="1680" height="2" fill="#ff0000"/>
<rect x="3" y="406" width="1680" height="2" fill="#00ff00"/>
<rect x="3" y="482" width="1680" height="2" fill="#0000ff"/>
<rect x="3" y="573" width="1680" height="2" fill="#0000cd"/>
<rect x="2" y="252" width="6" height="6" fill="#ff0000"/>
<rect x="4" y="254" width="2" height="2" fill="#fff"/>
<rect x="1677" y="252" width="6" height="6" fill="#ff0000"/>
<rect x="1679" y="254" width="2" height="2" fill="#fff"/>
<rect x="2" y="404" width="6" height="6" fill="#00ff00"/>
<rect x="4" y="406" width="2" height="2" fill="#fff"/>
<rect x="1677" y="404" width="6" height="6" fill="#00ff00"/>
<rect x="1679" y="406" width="2" height="2" fill="#fff"/>
<rect x="2" y="480" width="6" height="6" fill="#0000ff"/>
<rect x="4" y="482" width="2" height="2" fill="#fff"/>
<rect x="1677" y="480" width="6" height="6" fill="#0000ff"/>
<rect x="1679" y="482" width="2" height="2" fill="#fff"/>
</g>
<polygon points="1341,24 1351,24 1346,29" fill="#c0c0c0"/>
<polygon points="6,30 13,30 9.5,34" fill="#000"/>
<text x="18" y="35" font-size="9.5" fill="#000" color="#000" text-anchor="start" >EURUSD,Daily</text>
<text x="88.3" y="35" font-size="9.5" fill="#000" color="#000" text-anchor="start" >1.11168 1.11985 1.11022 1.11772</text>
<rect x="1684" y="26" width="2" height="1" fill="#000"/>
<text transform="translate(1689,30) scale(0.9,1)" font-size="9.9" fill="#000" color="#000" text-anchor="start" >1.16020</text>
<rect x="1684" y="59" width="2" height="1" fill="#000"/>
<text transform="translate(1689,63) scale(0.9,1)" font-size="9.9" fill="#000" color="#000" text-anchor="start" >1.15580</text>
<rect x="1684" y="92" width="2" height="1" fill="#000"/>
<text transform="translate(1689,96) scale(0.9,1)" font-size="9.9" fill="#000" color="#000" text-anchor="start" >1.15150</text>
<rect x="1684" y="125" width="2" height="1" fill="#000"/>
<text transform="translate(1689,129) scale(0.9,1)" font-size="9.9" fill="#000" color="#000" text-anchor="start" >1.14720</text>
<rect x="1684" y="158" width="2" height="1" fill="#000"/>
<text transform="translate(1689,162) scale(0.9,1)" font-size="9.9" fill="#000" color="#000" text-anchor="start" >1.14280</text>
<rect x="1684" y="191" width="2" height="1" fill="#000"/>
<text transform="translate(1689,195) scale(0.9,1)" font-size="9.9" fill="#000" color="#000" text-anchor="start" >1.13850</text>
<rect x="1684" y="224" width="2" height="1" fill="#000"/>
<text transform="translate(1689,228) scale(0.9,1)" font-size="9.9" fill="#000" color="#000" text-anchor="start" >1.13410</text>
<rect x="1684" y="257" width="2" height="1" fill="#000"/>
<text transform="translate(1689,261) scale(0.9,1)" font-size="9.9" fill="#000" color="#000" text-anchor="start" >1.12980</text>
<rect x="1684" y="290" width="2" height="1" fill="#000"/>
<text transform="translate(1689,294) scale(0.9,1)" font-size="9.9" fill="#000" color="#000" text-anchor="start" >1.12540</text>
<rect x="1684" y="323" width="2" height="1" fill="#000"/>
<text transform="translate(1689,327) scale(0.9,1)" font-size="9.9" fill="#000" color="#000" text-anchor="start" >1.12110</text>
<rect x="1684" y="356" width="2" height="1" fill="#000"/>
<text transform="translate(1689,360) scale(0.9,1)" font-size="9.9" fill="#000" color="#000" text-anchor="start" >1.11670</text>
<rect x="1684" y="389" width="2" height="1" fill="#000"/>
<text transform="translate(1689,393) scale(0.9,1)" font-size="9.9" fill="#000" color="#000" text-anchor="start" >1.11240</text>
<rect x="1684" y="422" width="2" height="1" fill="#000"/>
<text transform="translate(1689,426) scale(0.9,1)" font-size="9.9" fill="#000" color="#000" text-anchor="start" >1.10800</text>
<rect x="1684" y="455" width="2" height="1" fill="#000"/>
<text transform="translate(1689,459) scale(0.9,1)" font-size="9.9" fill="#000" color="#000" text-anchor="start" >1.10370</text>
<rect x="1684" y="488" width="2" height="1" fill="#000"/>
<text transform="translate(1689,492) scale(0.9,1)" font-size="9.9" fill="#000" color="#000" text-anchor="start" >1.09930</text>
<rect x="1684" y="521" width="2" height="1" fill="#000"/>
<text transform="translate(1689,525) scale(0.9,1)" font-size="9.9" fill="#000" color="#000" text-anchor="start" >1.09500</text>
<rect x="1684" y="554" width="2" height="1" fill="#000"/>
<text transform="translate(1689,558) scale(0.9,1)" font-size="9.9" fill="#000" color="#000" text-anchor="start" >1.09070</text>
<rect x="1684" y="587" width="2" height="1" fill="#000"/>
<text transform="translate(1689,591) scale(0.9,1)" font-size="9.9" fill="#000" color="#000" text-anchor="start" >1.08630</text>
<rect x="1685" y="249" width="41" height="11" fill="#ff0000"/>
<text transform="translate(1689.3,258) scale(0.9,1)" font-size="9.9" fill="#fff" color="#fff" text-anchor="start" >1.13004</text>
<rect x="1685" y="333" width="41" height="11" fill="#ff0000"/>
<text transform="translate(1689.3,342) scale(0.9,1)" font-size="9.9" fill="#fff" color="#fff" text-anchor="start" >1.11903</text>
<rect x="1685" y="344" width="41" height="11" fill="#000000"/>
<text transform="translate(1689.3,353) scale(0.9,1)" font-size="9.9" fill="#fff" color="#fff" text-anchor="start" >1.11772</text>
<rect x="1685" y="401" width="41" height="11" fill="#00ff00"/>
<text transform="translate(1689.3,410) scale(0.9,1)" font-size="9.9" fill="#fff" color="#fff" text-anchor="start" >1.11009</text>
<rect x="1685" y="477" width="41" height="11" fill="#0000ff"/>
<text transform="translate(1689.3,486) scale(0.9,1)" font-size="9.9" fill="#fff" color="#fff" text-anchor="start" >1.10008</text>
<rect x="1685" y="568" width="41" height="11" fill="#0000cd"/>
<text transform="translate(1689.3,577) scale(0.9,1)" font-size="9.9" fill="#fff" color="#fff" text-anchor="start" >1.08800</text>
<rect x="2" y="592" width="1682" height="1" fill="#000"/>
<rect x="2" y="696" width="1682" height="1" fill="#000"/>
<rect x="2" y="592" width="1" height="105" fill="#000"/>
<rect x="1683" y="592" width="1" height="105" fill="#000"/>
<line x1="4" y1="624.5" x2="1683" y2="624.5" stroke="#c0c0c0" stroke-dasharray="3 3"/>
<line x1="4" y1="665.5" x2="1683" y2="665.5" stroke="#c0c0c0" stroke-dasharray="3 3"/>
<text x="7" y="605" font-size="9.5" fill="#000" color="#000" text-anchor="start" >RSI(14) 69.9061</text>
<clipPath id="cr"><rect x="3" y="593" width="1680" height="102"/></clipPath><g clip-path="url(#cr)">
<path d="M3 639h1v1h-1zM69 639h2v1h-2zM72 639h1v1h-1zM106 639h1v1h-1zM116 639h1v1h-1zM123 639h1v1h-1zM137 639h1v1h-1zM152 639h1v1h-1zM170 639h1v1h-1zM175 639h1v1h-1zM189 639h7v1h-7zM243 639h1v1h-1zM252 639h1v1h-1zM264 639h1v1h-1zM346 639h1v1h-1zM356 639h1v1h-1zM414 639h3v1h-3zM424 639h1v1h-1zM498 639h1v1h-1zM501 639h4v1h-4zM508 639h1v1h-1zM676 639h1v1h-1zM711 639h1v1h-1zM734 639h1v1h-1zM770 639h1v1h-1zM898 639h1v1h-1zM900 639h1v1h-1zM1121 639h2v1h-2zM1129 639h2v1h-2zM1133 639h3v1h-3zM1168 639h1v1h-1zM1177 639h2v1h-2zM1205 639h1v1h-1zM1299 639h1v1h-1zM1312 639h1v1h-1zM1325 639h1v1h-1zM4 640h1v1h-1zM68 640h1v1h-1zM72 640h1v1h-1zM106 640h1v1h-1zM116 640h1v1h-1zM122 640h1v1h-1zM124 640h2v1h-2zM129 640h4v1h-4zM136 640h1v1h-1zM153 640h1v1h-1zM169 640h1v1h-1zM195 640h1v1h-1zM241 640h2v1h-2zM244 640h1v1h-1zM252 640h1v1h-1zM265 640h1v1h-1zM345 640h1v1h-1zM357 640h1v1h-1zM412 640h2v1h-2zM424 640h1v1h-1zM498 640h1v1h-1zM509 640h2v1h-2zM513 640h3v1h-3zM595 640h1v1h-1zM675 640h1v1h-1zM712 640h1v1h-1zM734 640h1v1h-1zM770 640h1v1h-1zM897 640h1v1h-1zM901 640h1v1h-1zM907 640h1v1h-1zM1120 640h1v1h-1zM1131 640h2v1h-2zM1169 640h2v1h-2zM1176 640h1v1h-1zM1205 640h1v1h-1zM1299 640h1v1h-1zM1313 640h1v1h-1zM1324 640h1v1h-1zM5 641h1v1h-1zM66 641h2v1h-2zM73 641h1v1h-1zM105 641h1v1h-1zM117 641h1v1h-1zM122 641h1v1h-1zM126 641h3v1h-3zM133 641h3v1h-3zM153 641h1v1h-1zM169 641h1v1h-1zM196 641h1v1h-1zM240 641h1v1h-1zM245 641h2v1h-2zM249 641h3v1h-3zM266 641h1v1h-1zM344 641h1v1h-1zM357 641h1v1h-1zM411 641h1v1h-1zM424 641h1v1h-1zM497 641h1v1h-1zM511 641h2v1h-2zM515 641h1v1h-1zM593 641h2v1h-2zM596 641h2v1h-2zM647 641h1v1h-1zM674 641h1v1h-1zM712 641h1v1h-1zM733 641h1v1h-1zM770 641h1v1h-1zM896 641h1v1h-1zM901 641h1v1h-1zM906 641h1v1h-1zM908 641h2v1h-2zM1119 641h1v1h-1zM1171 641h5v1h-5zM1205 641h1v1h-1zM1251 641h1v1h-1zM1298 641h1v1h-1zM1313 641h1v1h-1zM1323 641h1v1h-1zM5 642h1v1h-1zM64 642h2v1h-2zM74 642h1v1h-1zM104 642h1v1h-1zM117 642h1v1h-1zM121 642h1v1h-1zM153 642h1v1h-1zM168 642h1v1h-1zM196 642h1v1h-1zM239 642h1v1h-1zM247 642h2v1h-2zM266 642h1v1h-1zM343 642h1v1h-1zM358 642h1v1h-1zM409 642h2v1h-2zM424 642h1v1h-1zM497 642h1v1h-1zM516 642h1v1h-1zM563 642h1v1h-1zM592 642h1v1h-1zM598 642h6v1h-6zM646 642h1v1h-1zM648 642h1v1h-1zM674 642h1v1h-1zM712 642h1v1h-1zM733 642h1v1h-1zM771 642h1v1h-1zM891 642h2v1h-2zM896 642h1v1h-1zM902 642h1v1h-1zM905 642h1v1h-1zM910 642h6v1h-6zM1118 642h1v1h-1zM1206 642h1v1h-1zM1250 642h1v1h-1zM1252 642h1v1h-1zM1261 642h3v1h-3zM1298 642h1v1h-1zM1314 642h1v1h-1zM1321 642h2v1h-2zM6 643h1v1h-1zM39 643h1v1h-1zM63 643h1v1h-1zM74 643h1v1h-1zM104 643h1v1h-1zM118 643h1v1h-1zM120 643h1v1h-1zM153 643h1v1h-1zM161 643h4v1h-4zM168 643h1v1h-1zM197 643h1v1h-1zM237 643h2v1h-2zM267 643h1v1h-1zM341 643h2v1h-2zM358 643h1v1h-1zM403 643h2v1h-2zM408 643h1v1h-1zM425 643h1v1h-1zM486 643h3v1h-3zM496 643h1v1h-1zM516 643h1v1h-1zM563 643h1v1h-1zM591 643h1v1h-1zM604 643h1v1h-1zM645 643h1v1h-1zM649 643h1v1h-1zM673 643h1v1h-1zM713 643h1v1h-1zM733 643h1v1h-1zM771 643h2v1h-2zM891 643h1v1h-1zM893 643h3v1h-3zM902 643h1v1h-1zM905 643h1v1h-1zM916 643h1v1h-1zM1023 643h5v1h-5zM1118 643h1v1h-1zM1206 643h1v1h-1zM1249 643h1v1h-1zM1253 643h1v1h-1zM1259 643h2v1h-2zM1264 643h1v1h-1zM1298 643h1v1h-1zM1314 643h1v1h-1zM1320 643h1v1h-1zM7 644h1v1h-1zM14 644h2v1h-2zM39 644h2v1h-2zM62 644h1v1h-1zM75 644h1v1h-1zM103 644h1v1h-1zM118 644h1v1h-1zM120 644h1v1h-1zM154 644h1v1h-1zM159 644h2v1h-2zM165 644h3v1h-3zM197 644h1v1h-1zM236 644h1v1h-1zM268 644h1v1h-1zM340 644h1v1h-1zM359 644h1v1h-1zM402 644h1v1h-1zM405 644h3v1h-3zM425 644h1v1h-1zM435 644h1v1h-1zM484 644h2v1h-2zM489 644h4v1h-4zM496 644h1v1h-1zM516 644h1v1h-1zM562 644h1v1h-1zM564 644h1v1h-1zM590 644h1v1h-1zM605 644h1v1h-1zM644 644h1v1h-1zM649 644h1v1h-1zM673 644h1v1h-1zM713 644h1v1h-1zM732 644h1v1h-1zM773 644h3v1h-3zM815 644h1v1h-1zM890 644h1v1h-1zM903 644h2v1h-2zM917 644h1v1h-1zM1023 644h1v1h-1zM1028 644h2v1h-2zM1117 644h1v1h-1zM1206 644h1v1h-1zM1249 644h1v1h-1zM1253 644h1v1h-1zM1257 644h2v1h-2zM1264 644h1v1h-1zM1297 644h1v1h-1zM1314 644h1v1h-1zM1318 644h2v1h-2zM8 645h2v1h-2zM12 645h2v1h-2zM16 645h1v1h-1zM38 645h1v1h-1zM40 645h1v1h-1zM61 645h1v1h-1zM76 645h1v1h-1zM83 645h1v1h-1zM101 645h2v1h-2zM119 645h1v1h-1zM154 645h1v1h-1zM158 645h1v1h-1zM198 645h1v1h-1zM235 645h1v1h-1zM269 645h2v1h-2zM323 645h5v1h-5zM338 645h2v1h-2zM360 645h1v1h-1zM401 645h1v1h-1zM425 645h1v1h-1zM434 645h1v1h-1zM436 645h1v1h-1zM483 645h1v1h-1zM493 645h3v1h-3zM517 645h1v1h-1zM562 645h1v1h-1zM564 645h1v1h-1zM589 645h1v1h-1zM605 645h1v1h-1zM643 645h1v1h-1zM650 645h1v1h-1zM672 645h1v1h-1zM714 645h1v1h-1zM723 645h1v1h-1zM732 645h1v1h-1zM776 645h1v1h-1zM814 645h1v1h-1zM816 645h1v1h-1zM890 645h1v1h-1zM903 645h1v1h-1zM918 645h1v1h-1zM955 645h1v1h-1zM1022 645h1v1h-1zM1030 645h2v1h-2zM1039 645h5v1h-5zM1117 645h1v1h-1zM1206 645h1v1h-1zM1248 645h1v1h-1zM1254 645h1v1h-1zM1256 645h1v1h-1zM1265 645h1v1h-1zM1297 645h1v1h-1zM1315 645h3v1h-3zM10 646h2v1h-2zM16 646h1v1h-1zM38 646h1v1h-1zM41 646h1v1h-1zM53 646h4v1h-4zM60 646h1v1h-1zM76 646h1v1h-1zM82 646h1v1h-1zM84 646h2v1h-2zM100 646h1v1h-1zM154 646h1v1h-1zM157 646h1v1h-1zM198 646h1v1h-1zM234 646h1v1h-1zM271 646h1v1h-1zM321 646h2v1h-2zM328 646h2v1h-2zM336 646h2v1h-2zM360 646h1v1h-1zM395 646h2v1h-2zM400 646h1v1h-1zM426 646h1v1h-1zM433 646h1v1h-1zM436 646h1v1h-1zM483 646h1v1h-1zM517 646h1v1h-1zM561 646h1v1h-1zM565 646h1v1h-1zM588 646h1v1h-1zM606 646h1v1h-1zM642 646h1v1h-1zM651 646h1v1h-1zM672 646h1v1h-1zM714 646h1v1h-1zM722 646h1v1h-1zM724 646h1v1h-1zM731 646h1v1h-1zM777 646h1v1h-1zM813 646h1v1h-1zM817 646h2v1h-2zM890 646h1v1h-1zM919 646h1v1h-1zM955 646h2v1h-2zM1022 646h1v1h-1zM1032 646h1v1h-1zM1039 646h1v1h-1zM1044 646h2v1h-2zM1095 646h1v1h-1zM1116 646h1v1h-1zM1207 646h1v1h-1zM1245 646h3v1h-3zM1255 646h1v1h-1zM1265 646h1v1h-1zM1296 646h1v1h-1zM1315 646h1v1h-1zM17 647h1v1h-1zM38 647h1v1h-1zM42 647h1v1h-1zM51 647h2v1h-2zM57 647h3v1h-3zM77 647h1v1h-1zM81 647h1v1h-1zM86 647h2v1h-2zM99 647h1v1h-1zM154 647h1v1h-1zM157 647h1v1h-1zM199 647h1v1h-1zM234 647h1v1h-1zM272 647h1v1h-1zM320 647h1v1h-1zM330 647h6v1h-6zM361 647h1v1h-1zM394 647h1v1h-1zM397 647h3v1h-3zM426 647h1v1h-1zM433 647h1v1h-1zM437 647h1v1h-1zM482 647h1v1h-1zM518 647h1v1h-1zM531 647h1v1h-1zM561 647h1v1h-1zM565 647h1v1h-1zM587 647h1v1h-1zM607 647h1v1h-1zM642 647h1v1h-1zM652 647h1v1h-1zM671 647h1v1h-1zM714 647h1v1h-1zM721 647h1v1h-1zM724 647h1v1h-1zM731 647h1v1h-1zM778 647h1v1h-1zM781 647h3v1h-3zM803 647h6v1h-6zM812 647h1v1h-1zM819 647h1v1h-1zM890 647h1v1h-1zM920 647h1v1h-1zM954 647h1v1h-1zM957 647h2v1h-2zM1022 647h1v1h-1zM1032 647h1v1h-1zM1038 647h1v1h-1zM1046 647h2v1h-2zM1094 647h1v1h-1zM1096 647h1v1h-1zM1102 647h6v1h-6zM1116 647h1v1h-1zM1207 647h1v1h-1zM1243 647h2v1h-2zM1266 647h1v1h-1zM1296 647h1v1h-1zM17 648h1v1h-1zM38 648h1v1h-1zM42 648h1v1h-1zM50 648h1v1h-1zM78 648h1v1h-1zM81 648h1v1h-1zM88 648h1v1h-1zM98 648h1v1h-1zM155 648h2v1h-2zM199 648h1v1h-1zM233 648h1v1h-1zM273 648h1v1h-1zM319 648h1v1h-1zM361 648h1v1h-1zM394 648h1v1h-1zM426 648h1v1h-1zM432 648h1v1h-1zM437 648h1v1h-1zM482 648h1v1h-1zM518 648h1v1h-1zM529 648h2v1h-2zM532 648h1v1h-1zM560 648h1v1h-1zM566 648h1v1h-1zM586 648h1v1h-1zM608 648h1v1h-1zM641 648h1v1h-1zM653 648h2v1h-2zM670 648h1v1h-1zM715 648h1v1h-1zM721 648h1v1h-1zM725 648h1v1h-1zM730 648h1v1h-1zM779 648h2v1h-2zM783 648h1v1h-1zM803 648h1v1h-1zM809 648h3v1h-3zM820 648h1v1h-1zM889 648h1v1h-1zM921 648h1v1h-1zM954 648h1v1h-1zM959 648h1v1h-1zM1011 648h1v1h-1zM1021 648h1v1h-1zM1033 648h1v1h-1zM1038 648h1v1h-1zM1048 648h1v1h-1zM1094 648h1v1h-1zM1097 648h2v1h-2zM1100 648h2v1h-2zM1108 648h1v1h-1zM1115 648h1v1h-1zM1207 648h5v1h-5zM1243 648h1v1h-1zM1266 648h1v1h-1zM1291 648h1v1h-1zM1296 648h1v1h-1zM18 649h1v1h-1zM37 649h1v1h-1zM43 649h1v1h-1zM49 649h1v1h-1zM78 649h1v1h-1zM80 649h1v1h-1zM89 649h1v1h-1zM97 649h1v1h-1zM155 649h1v1h-1zM200 649h2v1h-2zM227 649h1v1h-1zM233 649h1v1h-1zM273 649h1v1h-1zM318 649h1v1h-1zM362 649h1v1h-1zM393 649h1v1h-1zM426 649h1v1h-1zM430 649h2v1h-2zM438 649h1v1h-1zM481 649h1v1h-1zM518 649h1v1h-1zM528 649h1v1h-1zM532 649h1v1h-1zM560 649h1v1h-1zM566 649h1v1h-1zM574 649h6v1h-6zM585 649h1v1h-1zM609 649h2v1h-2zM641 649h1v1h-1zM655 649h1v1h-1zM670 649h1v1h-1zM715 649h2v1h-2zM720 649h1v1h-1zM726 649h1v1h-1zM729 649h1v1h-1zM784 649h1v1h-1zM802 649h1v1h-1zM820 649h1v1h-1zM889 649h1v1h-1zM921 649h1v1h-1zM954 649h1v1h-1zM960 649h1v1h-1zM1010 649h1v1h-1zM1012 649h1v1h-1zM1021 649h1v1h-1zM1033 649h1v1h-1zM1037 649h1v1h-1zM1048 649h1v1h-1zM1093 649h1v1h-1zM1099 649h1v1h-1zM1109 649h1v1h-1zM1114 649h1v1h-1zM1212 649h1v1h-1zM1242 649h1v1h-1zM1267 649h1v1h-1zM1290 649h1v1h-1zM1292 649h2v1h-2zM1295 649h1v1h-1zM18 650h1v1h-1zM37 650h1v1h-1zM44 650h2v1h-2zM48 650h1v1h-1zM79 650h1v1h-1zM89 650h1v1h-1zM96 650h1v1h-1zM202 650h7v1h-7zM226 650h1v1h-1zM228 650h1v1h-1zM232 650h1v1h-1zM274 650h1v1h-1zM317 650h1v1h-1zM362 650h1v1h-1zM392 650h1v1h-1zM427 650h3v1h-3zM438 650h1v1h-1zM481 650h1v1h-1zM519 650h1v1h-1zM527 650h1v1h-1zM533 650h1v1h-1zM559 650h1v1h-1zM567 650h1v1h-1zM572 650h2v1h-2zM580 650h1v1h-1zM585 650h1v1h-1zM611 650h1v1h-1zM640 650h1v1h-1zM656 650h1v1h-1zM669 650h1v1h-1zM717 650h3v1h-3zM726 650h1v1h-1zM728 650h1v1h-1zM784 650h1v1h-1zM802 650h1v1h-1zM821 650h1v1h-1zM827 650h2v1h-2zM889 650h1v1h-1zM922 650h1v1h-1zM953 650h1v1h-1zM961 650h2v1h-2zM1009 650h1v1h-1zM1013 650h2v1h-2zM1021 650h1v1h-1zM1034 650h1v1h-1zM1037 650h1v1h-1zM1049 650h1v1h-1zM1063 650h1v1h-1zM1093 650h1v1h-1zM1109 650h1v1h-1zM1113 650h1v1h-1zM1213 650h1v1h-1zM1242 650h1v1h-1zM1267 650h2v1h-2zM1290 650h1v1h-1zM1294 650h2v1h-2zM19 651h2v1h-2zM25 651h3v1h-3zM37 651h1v1h-1zM46 651h2v1h-2zM90 651h1v1h-1zM93 651h3v1h-3zM209 651h8v1h-8zM225 651h1v1h-1zM229 651h2v1h-2zM232 651h1v1h-1zM275 651h1v1h-1zM317 651h1v1h-1zM363 651h1v1h-1zM392 651h1v1h-1zM427 651h1v1h-1zM439 651h1v1h-1zM467 651h1v1h-1zM480 651h1v1h-1zM519 651h1v1h-1zM525 651h2v1h-2zM533 651h1v1h-1zM559 651h1v1h-1zM567 651h5v1h-5zM581 651h2v1h-2zM584 651h1v1h-1zM612 651h2v1h-2zM640 651h1v1h-1zM656 651h1v1h-1zM668 651h1v1h-1zM727 651h1v1h-1zM785 651h1v1h-1zM801 651h1v1h-1zM821 651h1v1h-1zM826 651h1v1h-1zM829 651h4v1h-4zM889 651h1v1h-1zM923 651h1v1h-1zM953 651h1v1h-1zM963 651h1v1h-1zM1009 651h1v1h-1zM1015 651h1v1h-1zM1021 651h1v1h-1zM1034 651h1v1h-1zM1036 651h1v1h-1zM1050 651h1v1h-1zM1054 651h2v1h-2zM1062 651h1v1h-1zM1064 651h1v1h-1zM1092 651h1v1h-1zM1110 651h1v1h-1zM1112 651h1v1h-1zM1214 651h1v1h-1zM1242 651h1v1h-1zM1269 651h3v1h-3zM1289 651h1v1h-1zM21 652h4v1h-4zM28 652h1v1h-1zM36 652h1v1h-1zM91 652h2v1h-2zM217 652h4v1h-4zM224 652h1v1h-1zM231 652h1v1h-1zM276 652h1v1h-1zM316 652h1v1h-1zM363 652h1v1h-1zM371 652h1v1h-1zM391 652h1v1h-1zM440 652h1v1h-1zM467 652h2v1h-2zM480 652h1v1h-1zM520 652h2v1h-2zM524 652h1v1h-1zM534 652h1v1h-1zM558 652h1v1h-1zM583 652h1v1h-1zM614 652h2v1h-2zM639 652h1v1h-1zM657 652h1v1h-1zM668 652h1v1h-1zM785 652h1v1h-1zM801 652h1v1h-1zM822 652h1v1h-1zM825 652h1v1h-1zM833 652h8v1h-8zM888 652h1v1h-1zM924 652h1v1h-1zM952 652h1v1h-1zM964 652h2v1h-2zM999 652h6v1h-6zM1008 652h1v1h-1zM1016 652h1v1h-1zM1020 652h1v1h-1zM1035 652h2v1h-2zM1050 652h1v1h-1zM1052 652h2v1h-2zM1056 652h1v1h-1zM1061 652h1v1h-1zM1064 652h1v1h-1zM1092 652h1v1h-1zM1111 652h1v1h-1zM1215 652h1v1h-1zM1241 652h1v1h-1zM1272 652h1v1h-1zM1288 652h1v1h-1zM29 653h1v1h-1zM36 653h1v1h-1zM221 653h3v1h-3zM277 653h2v1h-2zM314 653h2v1h-2zM364 653h1v1h-1zM369 653h3v1h-3zM391 653h1v1h-1zM441 653h1v1h-1zM466 653h1v1h-1zM469 653h1v1h-1zM479 653h1v1h-1zM522 653h2v1h-2zM534 653h1v1h-1zM558 653h1v1h-1zM616 653h2v1h-2zM625 653h3v1h-3zM638 653h1v1h-1zM657 653h1v1h-1zM667 653h1v1h-1zM786 653h1v1h-1zM800 653h1v1h-1zM822 653h1v1h-1zM824 653h1v1h-1zM841 653h3v1h-3zM888 653h1v1h-1zM925 653h1v1h-1zM952 653h1v1h-1zM966 653h3v1h-3zM997 653h2v1h-2zM1005 653h3v1h-3zM1017 653h1v1h-1zM1020 653h1v1h-1zM1035 653h1v1h-1zM1051 653h1v1h-1zM1057 653h2v1h-2zM1060 653h1v1h-1zM1065 653h1v1h-1zM1091 653h1v1h-1zM1216 653h1v1h-1zM1227 653h1v1h-1zM1241 653h1v1h-1zM1273 653h2v1h-2zM1288 653h1v1h-1zM30 654h1v1h-1zM36 654h1v1h-1zM279 654h1v1h-1zM312 654h2v1h-2zM365 654h2v1h-2zM368 654h1v1h-1zM372 654h1v1h-1zM390 654h1v1h-1zM442 654h1v1h-1zM466 654h1v1h-1zM470 654h1v1h-1zM477 654h3v1h-3zM535 654h1v1h-1zM557 654h1v1h-1zM618 654h7v1h-7zM628 654h1v1h-1zM637 654h1v1h-1zM658 654h1v1h-1zM665 654h2v1h-2zM786 654h1v1h-1zM800 654h1v1h-1zM823 654h1v1h-1zM843 654h1v1h-1zM888 654h1v1h-1zM925 654h1v1h-1zM952 654h1v1h-1zM969 654h3v1h-3zM996 654h1v1h-1zM1017 654h1v1h-1zM1020 654h1v1h-1zM1059 654h1v1h-1zM1065 654h1v1h-1zM1090 654h1v1h-1zM1217 654h1v1h-1zM1225 654h2v1h-2zM1228 654h1v1h-1zM1240 654h1v1h-1zM1275 654h5v1h-5zM1286 654h2v1h-2zM31 655h1v1h-1zM36 655h1v1h-1zM280 655h1v1h-1zM311 655h1v1h-1zM367 655h1v1h-1zM372 655h1v1h-1zM390 655h1v1h-1zM443 655h1v1h-1zM466 655h1v1h-1zM471 655h6v1h-6zM536 655h1v1h-1zM557 655h1v1h-1zM629 655h2v1h-2zM636 655h1v1h-1zM658 655h1v1h-1zM664 655h1v1h-1zM787 655h1v1h-1zM789 655h3v1h-3zM799 655h1v1h-1zM844 655h1v1h-1zM888 655h1v1h-1zM926 655h1v1h-1zM934 655h7v1h-7zM945 655h4v1h-4zM951 655h1v1h-1zM972 655h1v1h-1zM995 655h1v1h-1zM1018 655h2v1h-2zM1066 655h1v1h-1zM1089 655h1v1h-1zM1218 655h1v1h-1zM1224 655h1v1h-1zM1229 655h1v1h-1zM1240 655h1v1h-1zM1280 655h2v1h-2zM1284 655h2v1h-2zM32 656h2v1h-2zM35 656h1v1h-1zM281 656h2v1h-2zM310 656h1v1h-1zM372 656h1v1h-1zM390 656h1v1h-1zM444 656h2v1h-2zM465 656h1v1h-1zM537 656h2v1h-2zM556 656h1v1h-1zM631 656h5v1h-5zM659 656h1v1h-1zM661 656h3v1h-3zM787 656h2v1h-2zM792 656h2v1h-2zM797 656h3v1h-3zM844 656h1v1h-1zM887 656h1v1h-1zM927 656h2v1h-2zM932 656h2v1h-2zM941 656h4v1h-4zM949 656h3v1h-3zM973 656h1v1h-1zM995 656h1v1h-1zM1019 656h1v1h-1zM1066 656h1v1h-1zM1088 656h1v1h-1zM1219 656h5v1h-5zM1230 656h1v1h-1zM1240 656h1v1h-1zM1282 656h2v1h-2zM34 657h2v1h-2zM283 657h2v1h-2zM295 657h1v1h-1zM310 657h1v1h-1zM373 657h1v1h-1zM389 657h1v1h-1zM446 657h3v1h-3zM465 657h1v1h-1zM539 657h1v1h-1zM556 657h1v1h-1zM659 657h2v1h-2zM794 657h3v1h-3zM845 657h1v1h-1zM869 657h3v1h-3zM883 657h5v1h-5zM929 657h3v1h-3zM974 657h1v1h-1zM994 657h1v1h-1zM1067 657h1v1h-1zM1087 657h1v1h-1zM1231 657h6v1h-6zM1239 657h1v1h-1zM71 638h1v1h-1zM107 638h9v1h-9zM138 638h1v1h-1zM152 638h1v1h-1zM170 638h1v1h-1zM173 638h2v1h-2zM176 638h1v1h-1zM187 638h2v1h-2zM253 638h1v1h-1zM264 638h1v1h-1zM347 638h2v1h-2zM356 638h1v1h-1zM417 638h4v1h-4zM423 638h1v1h-1zM499 638h2v1h-2zM505 638h3v1h-3zM677 638h1v1h-1zM711 638h1v1h-1zM735 638h1v1h-1zM769 638h1v1h-1zM898 638h1v1h-1zM900 638h1v1h-1zM1123 638h2v1h-2zM1128 638h1v1h-1zM1136 638h1v1h-1zM1167 638h1v1h-1zM1179 638h1v1h-1zM1205 638h1v1h-1zM1300 638h2v1h-2zM1312 638h1v1h-1zM1326 638h1v1h-1zM1329 638h3v1h-3zM139 637h2v1h-2zM145 637h3v1h-3zM152 637h1v1h-1zM171 637h2v1h-2zM176 637h1v1h-1zM186 637h1v1h-1zM253 637h1v1h-1zM262 637h2v1h-2zM349 637h7v1h-7zM421 637h3v1h-3zM677 637h1v1h-1zM711 637h1v1h-1zM735 637h1v1h-1zM769 637h1v1h-1zM899 637h1v1h-1zM1125 637h3v1h-3zM1136 637h1v1h-1zM1166 637h1v1h-1zM1180 637h1v1h-1zM1204 637h1v1h-1zM1302 637h3v1h-3zM1312 637h1v1h-1zM1327 637h2v1h-2zM1332 637h1v1h-1zM141 636h4v1h-4zM148 636h1v1h-1zM152 636h1v1h-1zM171 636h1v1h-1zM177 636h1v1h-1zM186 636h1v1h-1zM254 636h1v1h-1zM260 636h2v1h-2zM678 636h1v1h-1zM710 636h1v1h-1zM736 636h1v1h-1zM769 636h1v1h-1zM1137 636h1v1h-1zM1165 636h1v1h-1zM1181 636h2v1h-2zM1204 636h1v1h-1zM1305 636h4v1h-4zM1311 636h1v1h-1zM1333 636h1v1h-1zM149 635h3v1h-3zM177 635h1v1h-1zM185 635h1v1h-1zM254 635h1v1h-1zM257 635h3v1h-3zM679 635h2v1h-2zM710 635h1v1h-1zM737 635h1v1h-1zM769 635h1v1h-1zM1138 635h1v1h-1zM1165 635h1v1h-1zM1183 635h2v1h-2zM1204 635h1v1h-1zM1309 635h3v1h-3zM1333 635h1v1h-1zM151 634h1v1h-1zM178 634h1v1h-1zM185 634h1v1h-1zM255 634h2v1h-2zM681 634h3v1h-3zM709 634h1v1h-1zM737 634h1v1h-1zM768 634h1v1h-1zM1138 634h1v1h-1zM1164 634h1v1h-1zM1185 634h3v1h-3zM1204 634h1v1h-1zM1334 634h1v1h-1zM178 633h1v1h-1zM184 633h1v1h-1zM684 633h1v1h-1zM709 633h1v1h-1zM738 633h1v1h-1zM768 633h1v1h-1zM1139 633h1v1h-1zM1163 633h1v1h-1zM1188 633h1v1h-1zM1203 633h1v1h-1zM1335 633h1v1h-1zM179 632h2v1h-2zM184 632h1v1h-1zM684 632h1v1h-1zM708 632h1v1h-1zM739 632h1v1h-1zM768 632h1v1h-1zM1140 632h1v1h-1zM1162 632h1v1h-1zM1189 632h1v1h-1zM1203 632h1v1h-1zM1336 632h1v1h-1zM181 631h3v1h-3zM685 631h1v1h-1zM708 631h1v1h-1zM740 631h1v1h-1zM767 631h1v1h-1zM1140 631h1v1h-1zM1161 631h1v1h-1zM1189 631h1v1h-1zM1202 631h2v1h-2zM1336 631h1v1h-1zM285 658h3v1h-3zM294 658h1v1h-1zM296 658h2v1h-2zM309 658h1v1h-1zM373 658h1v1h-1zM389 658h1v1h-1zM449 658h3v1h-3zM465 658h1v1h-1zM540 658h1v1h-1zM555 658h1v1h-1zM845 658h1v1h-1zM867 658h2v1h-2zM872 658h2v1h-2zM883 658h1v1h-1zM975 658h1v1h-1zM994 658h1v1h-1zM1067 658h2v1h-2zM1073 658h7v1h-7zM1086 658h1v1h-1zM1237 658h3v1h-3zM288 659h1v1h-1zM294 659h1v1h-1zM298 659h3v1h-3zM309 659h1v1h-1zM373 659h1v1h-1zM389 659h1v1h-1zM452 659h2v1h-2zM464 659h1v1h-1zM540 659h1v1h-1zM553 659h3v1h-3zM846 659h1v1h-1zM866 659h1v1h-1zM874 659h2v1h-2zM882 659h1v1h-1zM976 659h1v1h-1zM994 659h1v1h-1zM1069 659h4v1h-4zM1080 659h1v1h-1zM1086 659h1v1h-1zM289 660h1v1h-1zM293 660h1v1h-1zM301 660h3v1h-3zM308 660h1v1h-1zM374 660h1v1h-1zM388 660h1v1h-1zM454 660h6v1h-6zM464 660h1v1h-1zM541 660h1v1h-1zM547 660h6v1h-6zM846 660h1v1h-1zM855 660h1v1h-1zM865 660h1v1h-1zM875 660h1v1h-1zM882 660h1v1h-1zM976 660h1v1h-1zM993 660h1v1h-1zM1081 660h1v1h-1zM1085 660h1v1h-1zM289 661h1v1h-1zM292 661h1v1h-1zM304 661h2v1h-2zM308 661h1v1h-1zM374 661h1v1h-1zM382 661h2v1h-2zM388 661h1v1h-1zM460 661h1v1h-1zM464 661h1v1h-1zM542 661h1v1h-1zM545 661h2v1h-2zM847 661h1v1h-1zM854 661h1v1h-1zM856 661h1v1h-1zM865 661h1v1h-1zM876 661h1v1h-1zM882 661h1v1h-1zM977 661h1v1h-1zM993 661h1v1h-1zM1081 661h1v1h-1zM1084 661h1v1h-1zM290 662h1v1h-1zM292 662h1v1h-1zM306 662h2v1h-2zM374 662h1v1h-1zM380 662h2v1h-2zM384 662h1v1h-1zM388 662h1v1h-1zM461 662h3v1h-3zM542 662h1v1h-1zM544 662h1v1h-1zM847 662h1v1h-1zM853 662h1v1h-1zM857 662h1v1h-1zM864 662h1v1h-1zM876 662h1v1h-1zM881 662h1v1h-1zM977 662h1v1h-1zM993 662h1v1h-1zM1082 662h1v1h-1zM1084 662h1v1h-1zM291 663h1v1h-1zM375 663h1v1h-1zM377 663h3v1h-3zM385 663h3v1h-3zM463 663h1v1h-1zM543 663h1v1h-1zM848 663h2v1h-2zM852 663h1v1h-1zM858 663h1v1h-1zM861 663h3v1h-3zM877 663h1v1h-1zM881 663h1v1h-1zM978 663h1v1h-1zM992 663h1v1h-1zM1083 663h1v1h-1zM375 664h2v1h-2zM387 664h1v1h-1zM850 664h2v1h-2zM859 664h2v1h-2zM877 664h1v1h-1zM880 664h1v1h-1zM978 664h1v1h-1zM992 664h1v1h-1zM685 630h1v1h-1zM707 630h1v1h-1zM741 630h1v1h-1zM759 630h9v1h-9zM1141 630h1v1h-1zM1160 630h1v1h-1zM1190 630h1v1h-1zM1200 630h2v1h-2zM1337 630h1v1h-1zM686 629h1v1h-1zM699 629h2v1h-2zM705 629h3v1h-3zM742 629h1v1h-1zM757 629h2v1h-2zM1142 629h1v1h-1zM1158 629h2v1h-2zM1191 629h1v1h-1zM1198 629h2v1h-2zM1337 629h1v1h-1zM686 628h1v1h-1zM699 628h1v1h-1zM701 628h4v1h-4zM743 628h1v1h-1zM756 628h1v1h-1zM1142 628h1v1h-1zM1156 628h2v1h-2zM1192 628h2v1h-2zM1196 628h2v1h-2zM1338 628h1v1h-1zM687 627h1v1h-1zM698 627h1v1h-1zM744 627h2v1h-2zM749 627h7v1h-7zM1143 627h1v1h-1zM1155 627h1v1h-1zM1194 627h2v1h-2zM1338 627h1v1h-1zM687 626h1v1h-1zM698 626h1v1h-1zM746 626h3v1h-3zM1144 626h2v1h-2zM1153 626h2v1h-2zM1339 626h1v1h-1zM688 625h1v1h-1zM697 625h1v1h-1zM1146 625h3v1h-3zM1152 625h1v1h-1zM1339 625h1v1h-1zM689 624h2v1h-2zM697 624h1v1h-1zM1149 624h3v1h-3zM691 623h1v1h-1zM696 623h1v1h-1zM692 622h2v1h-2zM696 622h1v1h-1zM694 621h2v1h-2zM878 665h1v1h-1zM880 665h1v1h-1zM979 665h1v1h-1zM992 665h1v1h-1zM878 666h1v1h-1zM880 666h1v1h-1zM980 666h2v1h-2zM991 666h1v1h-1zM879 667h1v1h-1zM982 667h10v1h-10zM879 668h1v1h-1z" fill="#1e90ff"/>
</g>
<text x="1687" y="603" font-size="9.5" fill="#000" color="#000" text-anchor="start" >100</text>
<text x="1687" y="628" font-size="9.5" fill="#000" color="#000" text-anchor="start" >70</text>
<text x="1687" y="669" font-size="9.5" fill="#000" color="#000" text-anchor="start" >30</text>
<text x="1687" y="692.6" font-size="9.5" fill="#000" color="#000" text-anchor="start" >0</text>
<rect x="1684" y="594" width="2" height="1" fill="#000"/>
<rect x="1684" y="695" width="2" height="1" fill="#000"/>
<rect x="2" y="698" width="1682" height="1" fill="#000"/>
<rect x="2" y="801" width="1682" height="1" fill="#000"/>
<rect x="2" y="698" width="1" height="104" fill="#000"/>
<rect x="1683" y="698" width="1" height="104" fill="#000"/>
<text x="7" y="711" font-size="9.5" fill="#000" color="#000" text-anchor="start" >MACD(12,26,9) 0.001755 0.000493</text>
<clipPath id="cd"><rect x="3" y="699" width="1680" height="102"/></clipPath><g clip-path="url(#cd)">
<rect x="3" y="747" width="1" height="26" fill="#c0c0c0"/>
<rect x="7" y="747" width="1" height="22" fill="#c0c0c0"/>
<rect x="11" y="747" width="1" height="19" fill="#c0c0c0"/>
<rect x="15" y="747" width="1" height="16" fill="#c0c0c0"/>
<rect x="19" y="747" width="1" height="18" fill="#c0c0c0"/>
<rect x="23" y="747" width="1" height="21" fill="#c0c0c0"/>
<rect x="27" y="747" width="1" height="23" fill="#c0c0c0"/>
<rect x="31" y="747" width="1" height="27" fill="#c0c0c0"/>
<rect x="35" y="747" width="1" height="32" fill="#c0c0c0"/>
<rect x="39" y="747" width="1" height="26" fill="#c0c0c0"/>
<rect x="43" y="747" width="1" height="26" fill="#c0c0c0"/>
<rect x="47" y="747" width="1" height="27" fill="#c0c0c0"/>
<rect x="51" y="747" width="1" height="25" fill="#c0c0c0"/>
<rect x="55" y="747" width="1" height="22" fill="#c0c0c0"/>
<rect x="59" y="747" width="1" height="21" fill="#c0c0c0"/>
<rect x="63" y="747" width="1" height="16" fill="#c0c0c0"/>
<rect x="67" y="747" width="1" height="12" fill="#c0c0c0"/>
<rect x="71" y="747" width="1" height="5" fill="#c0c0c0"/>
<rect x="75" y="747" width="1" height="4" fill="#c0c0c0"/>
<rect x="79" y="747" width="1" height="8" fill="#c0c0c0"/>
<rect x="83" y="747" width="1" height="7" fill="#c0c0c0"/>
<rect x="87" y="747" width="1" height="7" fill="#c0c0c0"/>
<rect x="91" y="747" width="1" height="12" fill="#c0c0c0"/>
<rect x="95" y="747" width="1" height="15" fill="#c0c0c0"/>
<rect x="99" y="747" width="1" height="15" fill="#c0c0c0"/>
<rect x="103" y="747" width="1" height="12" fill="#c0c0c0"/>
<rect x="107" y="747" width="1" height="5" fill="#c0c0c0"/>
<rect x="111" y="746" width="1" height="1" fill="#c0c0c0"/>
<rect x="115" y="742" width="1" height="5" fill="#c0c0c0"/>
<rect x="119" y="743" width="1" height="4" fill="#c0c0c0"/>
<rect x="123" y="740" width="1" height="7" fill="#c0c0c0"/>
<rect x="127" y="738" width="1" height="9" fill="#c0c0c0"/>
<rect x="131" y="737" width="1" height="10" fill="#c0c0c0"/>
<rect x="135" y="737" width="1" height="10" fill="#c0c0c0"/>
<rect x="139" y="733" width="1" height="14" fill="#c0c0c0"/>
<rect x="143" y="731" width="1" height="16" fill="#c0c0c0"/>
<rect x="147" y="729" width="1" height="18" fill="#c0c0c0"/>
<rect x="151" y="726" width="1" height="21" fill="#c0c0c0"/>
<rect x="155" y="733" width="1" height="14" fill="#c0c0c0"/>
<rect x="159" y="735" width="1" height="12" fill="#c0c0c0"/>
<rect x="163" y="736" width="1" height="11" fill="#c0c0c0"/>
<rect x="167" y="737" width="1" height="10" fill="#c0c0c0"/>
<rect x="171" y="733" width="1" height="14" fill="#c0c0c0"/>
<rect x="175" y="731" width="1" height="16" fill="#c0c0c0"/>
<rect x="179" y="725" width="1" height="22" fill="#c0c0c0"/>
<rect x="183" y="719" width="1" height="28" fill="#c0c0c0"/>
<rect x="187" y="719" width="1" height="28" fill="#c0c0c0"/>
<rect x="191" y="720" width="1" height="27" fill="#c0c0c0"/>
<rect x="195" y="721" width="1" height="26" fill="#c0c0c0"/>
<rect x="199" y="727" width="1" height="20" fill="#c0c0c0"/>
<rect x="203" y="734" width="1" height="13" fill="#c0c0c0"/>
<rect x="207" y="740" width="1" height="7" fill="#c0c0c0"/>
<rect x="211" y="745" width="1" height="2" fill="#c0c0c0"/>
<rect x="215" y="747" width="1" height="3" fill="#c0c0c0"/>
<rect x="219" y="747" width="1" height="7" fill="#c0c0c0"/>
<rect x="223" y="747" width="1" height="10" fill="#c0c0c0"/>
<rect x="227" y="747" width="1" height="11" fill="#c0c0c0"/>
<rect x="231" y="747" width="1" height="13" fill="#c0c0c0"/>
<rect x="235" y="747" width="1" height="11" fill="#c0c0c0"/>
<rect x="239" y="747" width="1" height="9" fill="#c0c0c0"/>
<rect x="243" y="747" width="1" height="5" fill="#c0c0c0"/>
<rect x="247" y="747" width="1" height="3" fill="#c0c0c0"/>
<rect x="251" y="747" width="1" height="1" fill="#c0c0c0"/>
<rect x="255" y="741" width="1" height="6" fill="#c0c0c0"/>
<rect x="259" y="737" width="1" height="10" fill="#c0c0c0"/>
<rect x="263" y="735" width="1" height="12" fill="#c0c0c0"/>
<rect x="267" y="736" width="1" height="11" fill="#c0c0c0"/>
<rect x="271" y="739" width="1" height="8" fill="#c0c0c0"/>
<rect x="275" y="743" width="1" height="4" fill="#c0c0c0"/>
<rect x="279" y="747" width="1" height="3" fill="#c0c0c0"/>
<rect x="283" y="747" width="1" height="9" fill="#c0c0c0"/>
<rect x="287" y="747" width="1" height="15" fill="#c0c0c0"/>
<rect x="291" y="747" width="1" height="23" fill="#c0c0c0"/>
<rect x="295" y="747" width="1" height="26" fill="#c0c0c0"/>
<rect x="299" y="747" width="1" height="30" fill="#c0c0c0"/>
<rect x="303" y="747" width="1" height="34" fill="#c0c0c0"/>
<rect x="307" y="747" width="1" height="37" fill="#c0c0c0"/>
<rect x="311" y="747" width="1" height="37" fill="#c0c0c0"/>
<rect x="315" y="747" width="1" height="36" fill="#c0c0c0"/>
<rect x="319" y="747" width="1" height="32" fill="#c0c0c0"/>
<rect x="323" y="747" width="1" height="27" fill="#c0c0c0"/>
<rect x="327" y="747" width="1" height="23" fill="#c0c0c0"/>
<rect x="331" y="747" width="1" height="21" fill="#c0c0c0"/>
<rect x="335" y="747" width="1" height="19" fill="#c0c0c0"/>
<rect x="339" y="747" width="1" height="16" fill="#c0c0c0"/>
<rect x="343" y="747" width="1" height="13" fill="#c0c0c0"/>
<rect x="347" y="747" width="1" height="9" fill="#c0c0c0"/>
<rect x="351" y="747" width="1" height="5" fill="#c0c0c0"/>
<rect x="355" y="747" width="1" height="1" fill="#c0c0c0"/>
<rect x="359" y="747" width="1" height="1" fill="#c0c0c0"/>
<rect x="363" y="747" width="1" height="4" fill="#c0c0c0"/>
<rect x="367" y="747" width="1" height="7" fill="#c0c0c0"/>
<rect x="371" y="747" width="1" height="9" fill="#c0c0c0"/>
<rect x="375" y="747" width="1" height="17" fill="#c0c0c0"/>
<rect x="379" y="747" width="1" height="23" fill="#c0c0c0"/>
<rect x="383" y="747" width="1" height="27" fill="#c0c0c0"/>
<rect x="387" y="747" width="1" height="31" fill="#c0c0c0"/>
<rect x="391" y="747" width="1" height="30" fill="#c0c0c0"/>
<rect x="395" y="747" width="1" height="26" fill="#c0c0c0"/>
<rect x="399" y="747" width="1" height="23" fill="#c0c0c0"/>
<rect x="403" y="747" width="1" height="19" fill="#c0c0c0"/>
<rect x="407" y="747" width="1" height="16" fill="#c0c0c0"/>
<rect x="411" y="747" width="1" height="12" fill="#c0c0c0"/>
<rect x="415" y="747" width="1" height="8" fill="#c0c0c0"/>
<rect x="419" y="747" width="1" height="4" fill="#c0c0c0"/>
<rect x="423" y="746" width="1" height="1" fill="#c0c0c0"/>
<rect x="427" y="747" width="1" height="4" fill="#c0c0c0"/>
<rect x="431" y="747" width="1" height="5" fill="#c0c0c0"/>
<rect x="435" y="747" width="1" height="5" fill="#c0c0c0"/>
<rect x="439" y="747" width="1" height="7" fill="#c0c0c0"/>
<rect x="443" y="747" width="1" height="12" fill="#c0c0c0"/>
<rect x="447" y="747" width="1" height="16" fill="#c0c0c0"/>
<rect x="451" y="747" width="1" height="20" fill="#c0c0c0"/>
<rect x="455" y="747" width="1" height="24" fill="#c0c0c0"/>
<rect x="459" y="747" width="1" height="28" fill="#c0c0c0"/>
<rect x="463" y="747" width="1" height="32" fill="#c0c0c0"/>
<rect x="467" y="747" width="1" height="30" fill="#c0c0c0"/>
<rect x="471" y="747" width="1" height="30" fill="#c0c0c0"/>
<rect x="475" y="747" width="1" height="30" fill="#c0c0c0"/>
<rect x="479" y="747" width="1" height="30" fill="#c0c0c0"/>
<rect x="483" y="747" width="1" height="26" fill="#c0c0c0"/>
<rect x="487" y="747" width="1" height="21" fill="#c0c0c0"/>
<rect x="491" y="747" width="1" height="18" fill="#c0c0c0"/>
<rect x="495" y="747" width="1" height="16" fill="#c0c0c0"/>
<rect x="499" y="747" width="1" height="10" fill="#c0c0c0"/>
<rect x="503" y="747" width="1" height="7" fill="#c0c0c0"/>
<rect x="507" y="747" width="1" height="3" fill="#c0c0c0"/>
<rect x="511" y="747" width="1" height="1" fill="#c0c0c0"/>
<rect x="515" y="745" width="1" height="2" fill="#c0c0c0"/>
<rect x="519" y="747" width="1" height="2" fill="#c0c0c0"/>
<rect x="523" y="747" width="1" height="6" fill="#c0c0c0"/>
<rect x="527" y="747" width="1" height="7" fill="#c0c0c0"/>
<rect x="531" y="747" width="1" height="7" fill="#c0c0c0"/>
<rect x="535" y="747" width="1" height="11" fill="#c0c0c0"/>
<rect x="539" y="747" width="1" height="15" fill="#c0c0c0"/>
<rect x="543" y="747" width="1" height="22" fill="#c0c0c0"/>
<rect x="547" y="747" width="1" height="27" fill="#c0c0c0"/>
<rect x="551" y="747" width="1" height="30" fill="#c0c0c0"/>
<rect x="555" y="747" width="1" height="31" fill="#c0c0c0"/>
<rect x="559" y="747" width="1" height="29" fill="#c0c0c0"/>
<rect x="563" y="747" width="1" height="23" fill="#c0c0c0"/>
<rect x="567" y="747" width="1" height="23" fill="#c0c0c0"/>
<rect x="571" y="747" width="1" height="23" fill="#c0c0c0"/>
<rect x="575" y="747" width="1" height="22" fill="#c0c0c0"/>
<rect x="579" y="747" width="1" height="21" fill="#c0c0c0"/>
<rect x="583" y="747" width="1" height="21" fill="#c0c0c0"/>
<rect x="587" y="747" width="1" height="19" fill="#c0c0c0"/>
<rect x="591" y="747" width="1" height="15" fill="#c0c0c0"/>
<rect x="595" y="747" width="1" height="11" fill="#c0c0c0"/>
<rect x="599" y="747" width="1" height="8" fill="#c0c0c0"/>
<rect x="603" y="747" width="1" height="6" fill="#c0c0c0"/>
<rect x="607" y="747" width="1" height="6" fill="#c0c0c0"/>
<rect x="611" y="747" width="1" height="8" fill="#c0c0c0"/>
<rect x="615" y="747" width="1" height="9" fill="#c0c0c0"/>
<rect x="619" y="747" width="1" height="12" fill="#c0c0c0"/>
<rect x="623" y="747" width="1" height="14" fill="#c0c0c0"/>
<rect x="627" y="747" width="1" height="15" fill="#c0c0c0"/>
<rect x="631" y="747" width="1" height="17" fill="#c0c0c0"/>
<rect x="635" y="747" width="1" height="18" fill="#c0c0c0"/>
<rect x="639" y="747" width="1" height="18" fill="#c0c0c0"/>
<rect x="643" y="747" width="1" height="15" fill="#c0c0c0"/>
<rect x="647" y="747" width="1" height="12" fill="#c0c0c0"/>
<rect x="651" y="747" width="1" height="11" fill="#c0c0c0"/>
<rect x="655" y="747" width="1" height="11" fill="#c0c0c0"/>
<rect x="659" y="747" width="1" height="14" fill="#c0c0c0"/>
<rect x="663" y="747" width="1" height="16" fill="#c0c0c0"/>
<rect x="667" y="747" width="1" height="17" fill="#c0c0c0"/>
<rect x="671" y="747" width="1" height="15" fill="#c0c0c0"/>
<rect x="675" y="747" width="1" height="11" fill="#c0c0c0"/>
<rect x="679" y="747" width="1" height="5" fill="#c0c0c0"/>
<rect x="683" y="746" width="1" height="1" fill="#c0c0c0"/>
<rect x="687" y="738" width="1" height="9" fill="#c0c0c0"/>
<rect x="691" y="730" width="1" height="17" fill="#c0c0c0"/>
<rect x="695" y="722" width="1" height="25" fill="#c0c0c0"/>
<rect x="699" y="718" width="1" height="29" fill="#c0c0c0"/>
<rect x="703" y="715" width="1" height="32" fill="#c0c0c0"/>
<rect x="707" y="714" width="1" height="33" fill="#c0c0c0"/>
<rect x="711" y="716" width="1" height="31" fill="#c0c0c0"/>
<rect x="715" y="723" width="1" height="24" fill="#c0c0c0"/>
<rect x="719" y="729" width="1" height="18" fill="#c0c0c0"/>
<rect x="723" y="732" width="1" height="15" fill="#c0c0c0"/>
<rect x="727" y="738" width="1" height="9" fill="#c0c0c0"/>
<rect x="731" y="741" width="1" height="6" fill="#c0c0c0"/>
<rect x="735" y="738" width="1" height="9" fill="#c0c0c0"/>
<rect x="739" y="731" width="1" height="16" fill="#c0c0c0"/>
<rect x="743" y="724" width="1" height="23" fill="#c0c0c0"/>
<rect x="747" y="716" width="1" height="31" fill="#c0c0c0"/>
<rect x="751" y="711" width="1" height="36" fill="#c0c0c0"/>
<rect x="755" y="707" width="1" height="40" fill="#c0c0c0"/>
<rect x="759" y="705" width="1" height="42" fill="#c0c0c0"/>
<rect x="763" y="705" width="1" height="42" fill="#c0c0c0"/>
<rect x="767" y="704" width="1" height="43" fill="#c0c0c0"/>
<rect x="771" y="710" width="1" height="37" fill="#c0c0c0"/>
<rect x="775" y="716" width="1" height="31" fill="#c0c0c0"/>
<rect x="779" y="723" width="1" height="24" fill="#c0c0c0"/>
<rect x="783" y="728" width="1" height="19" fill="#c0c0c0"/>
<rect x="787" y="737" width="1" height="10" fill="#c0c0c0"/>
<rect x="791" y="744" width="1" height="3" fill="#c0c0c0"/>
<rect x="795" y="747" width="1" height="5" fill="#c0c0c0"/>
<rect x="799" y="747" width="1" height="10" fill="#c0c0c0"/>
<rect x="803" y="747" width="1" height="10" fill="#c0c0c0"/>
<rect x="807" y="747" width="1" height="10" fill="#c0c0c0"/>
<rect x="811" y="747" width="1" height="10" fill="#c0c0c0"/>
<rect x="815" y="747" width="1" height="9" fill="#c0c0c0"/>
<rect x="819" y="747" width="1" height="8" fill="#c0c0c0"/>
<rect x="823" y="747" width="1" height="12" fill="#c0c0c0"/>
<rect x="827" y="747" width="1" height="13" fill="#c0c0c0"/>
<rect x="831" y="747" width="1" height="14" fill="#c0c0c0"/>
<rect x="835" y="747" width="1" height="15" fill="#c0c0c0"/>
<rect x="839" y="747" width="1" height="16" fill="#c0c0c0"/>
<rect x="843" y="747" width="1" height="17" fill="#c0c0c0"/>
<rect x="847" y="747" width="1" height="23" fill="#c0c0c0"/>
<rect x="851" y="747" width="1" height="28" fill="#c0c0c0"/>
<rect x="855" y="747" width="1" height="30" fill="#c0c0c0"/>
<rect x="859" y="747" width="1" height="35" fill="#c0c0c0"/>
<rect x="863" y="747" width="1" height="38" fill="#c0c0c0"/>
<rect x="867" y="747" width="1" height="38" fill="#c0c0c0"/>
<rect x="871" y="747" width="1" height="37" fill="#c0c0c0"/>
<rect x="875" y="747" width="1" height="38" fill="#c0c0c0"/>
<rect x="879" y="747" width="1" height="43" fill="#c0c0c0"/>
<rect x="883" y="747" width="1" height="43" fill="#c0c0c0"/>
<rect x="887" y="747" width="1" height="42" fill="#c0c0c0"/>
<rect x="891" y="747" width="1" height="35" fill="#c0c0c0"/>
<rect x="895" y="747" width="1" height="28" fill="#c0c0c0"/>
<rect x="899" y="747" width="1" height="20" fill="#c0c0c0"/>
<rect x="903" y="747" width="1" height="17" fill="#c0c0c0"/>
<rect x="907" y="747" width="1" height="12" fill="#c0c0c0"/>
<rect x="911" y="747" width="1" height="9" fill="#c0c0c0"/>
<rect x="915" y="747" width="1" height="6" fill="#c0c0c0"/>
<rect x="919" y="747" width="1" height="6" fill="#c0c0c0"/>
<rect x="923" y="747" width="1" height="9" fill="#c0c0c0"/>
<rect x="927" y="747" width="1" height="15" fill="#c0c0c0"/>
<rect x="931" y="747" width="1" height="20" fill="#c0c0c0"/>
<rect x="935" y="747" width="1" height="23" fill="#c0c0c0"/>
<rect x="939" y="747" width="1" height="26" fill="#c0c0c0"/>
<rect x="943" y="747" width="1" height="28" fill="#c0c0c0"/>
<rect x="947" y="747" width="1" height="28" fill="#c0c0c0"/>
<rect x="951" y="747" width="1" height="29" fill="#c0c0c0"/>
<rect x="955" y="747" width="1" height="25" fill="#c0c0c0"/>
<rect x="959" y="747" width="1" height="23" fill="#c0c0c0"/>
<rect x="963" y="747" width="1" height="22" fill="#c0c0c0"/>
<rect x="967" y="747" width="1" height="23" fill="#c0c0c0"/>
<rect x="971" y="747" width="1" height="24" fill="#c0c0c0"/>
<rect x="975" y="747" width="1" height="27" fill="#c0c0c0"/>
<rect x="979" y="747" width="1" height="34" fill="#c0c0c0"/>
<rect x="983" y="747" width="1" height="41" fill="#c0c0c0"/>
<rect x="987" y="747" width="1" height="46" fill="#c0c0c0"/>
<rect x="991" y="747" width="1" height="50" fill="#c0c0c0"/>
<rect x="995" y="747" width="1" height="48" fill="#c0c0c0"/>
<rect x="999" y="747" width="1" height="44" fill="#c0c0c0"/>
<rect x="1003" y="747" width="1" height="41" fill="#c0c0c0"/>
<rect x="1007" y="747" width="1" height="39" fill="#c0c0c0"/>
<rect x="1011" y="747" width="1" height="34" fill="#c0c0c0"/>
<rect x="1015" y="747" width="1" height="32" fill="#c0c0c0"/>
<rect x="1019" y="747" width="1" height="33" fill="#c0c0c0"/>
<rect x="1023" y="747" width="1" height="27" fill="#c0c0c0"/>
<rect x="1027" y="747" width="1" height="22" fill="#c0c0c0"/>
<rect x="1031" y="747" width="1" height="19" fill="#c0c0c0"/>
<rect x="1035" y="747" width="1" height="21" fill="#c0c0c0"/>
<rect x="1039" y="747" width="1" height="18" fill="#c0c0c0"/>
<rect x="1043" y="747" width="1" height="16" fill="#c0c0c0"/>
<rect x="1047" y="747" width="1" height="15" fill="#c0c0c0"/>
<rect x="1051" y="747" width="1" height="17" fill="#c0c0c0"/>
<rect x="1055" y="747" width="1" height="18" fill="#c0c0c0"/>
<rect x="1059" y="747" width="1" height="20" fill="#c0c0c0"/>
<rect x="1063" y="747" width="1" height="20" fill="#c0c0c0"/>
<rect x="1067" y="747" width="1" height="25" fill="#c0c0c0"/>
<rect x="1071" y="747" width="1" height="30" fill="#c0c0c0"/>
<rect x="1075" y="747" width="1" height="33" fill="#c0c0c0"/>
<rect x="1079" y="747" width="1" height="35" fill="#c0c0c0"/>
<rect x="1083" y="747" width="1" height="39" fill="#c0c0c0"/>
<rect x="1087" y="747" width="1" height="40" fill="#c0c0c0"/>
<rect x="1091" y="747" width="1" height="38" fill="#c0c0c0"/>
<rect x="1095" y="747" width="1" height="33" fill="#c0c0c0"/>
<rect x="1099" y="747" width="1" height="30" fill="#c0c0c0"/>
<rect x="1103" y="747" width="1" height="27" fill="#c0c0c0"/>
<rect x="1107" y="747" width="1" height="24" fill="#c0c0c0"/>
<rect x="1111" y="747" width="1" height="24" fill="#c0c0c0"/>
<rect x="1115" y="747" width="1" height="22" fill="#c0c0c0"/>
<rect x="1119" y="747" width="1" height="17" fill="#c0c0c0"/>
<rect x="1123" y="747" width="1" height="11" fill="#c0c0c0"/>
<rect x="1127" y="747" width="1" height="5" fill="#c0c0c0"/>
<rect x="1131" y="747" width="1" height="3" fill="#c0c0c0"/>
<rect x="1135" y="745" width="1" height="2" fill="#c0c0c0"/>
<rect x="1139" y="740" width="1" height="7" fill="#c0c0c0"/>
<rect x="1143" y="731" width="1" height="16" fill="#c0c0c0"/>
<rect x="1147" y="723" width="1" height="24" fill="#c0c0c0"/>
<rect x="1151" y="716" width="1" height="31" fill="#c0c0c0"/>
<rect x="1155" y="712" width="1" height="35" fill="#c0c0c0"/>
<rect x="1159" y="710" width="1" height="37" fill="#c0c0c0"/>
<rect x="1163" y="710" width="1" height="37" fill="#c0c0c0"/>
<rect x="1167" y="712" width="1" height="35" fill="#c0c0c0"/>
<rect x="1171" y="716" width="1" height="31" fill="#c0c0c0"/>
<rect x="1175" y="719" width="1" height="28" fill="#c0c0c0"/>
<rect x="1179" y="721" width="1" height="26" fill="#c0c0c0"/>
<rect x="1183" y="721" width="1" height="26" fill="#c0c0c0"/>
<rect x="1187" y="721" width="1" height="26" fill="#c0c0c0"/>
<rect x="1191" y="718" width="1" height="29" fill="#c0c0c0"/>
<rect x="1195" y="715" width="1" height="32" fill="#c0c0c0"/>
<rect x="1199" y="714" width="1" height="33" fill="#c0c0c0"/>
<rect x="1203" y="714" width="1" height="33" fill="#c0c0c0"/>
<rect x="1207" y="721" width="1" height="26" fill="#c0c0c0"/>
<rect x="1211" y="727" width="1" height="20" fill="#c0c0c0"/>
<rect x="1215" y="733" width="1" height="14" fill="#c0c0c0"/>
<rect x="1219" y="741" width="1" height="6" fill="#c0c0c0"/>
<rect x="1223" y="747" width="1" height="1" fill="#c0c0c0"/>
<rect x="1227" y="747" width="1" height="5" fill="#c0c0c0"/>
<rect x="1231" y="747" width="1" height="9" fill="#c0c0c0"/>
<rect x="1235" y="747" width="1" height="13" fill="#c0c0c0"/>
<rect x="1239" y="747" width="1" height="17" fill="#c0c0c0"/>
<rect x="1243" y="747" width="1" height="15" fill="#c0c0c0"/>
<rect x="1247" y="747" width="1" height="14" fill="#c0c0c0"/>
<rect x="1251" y="747" width="1" height="10" fill="#c0c0c0"/>
<rect x="1255" y="747" width="1" height="9" fill="#c0c0c0"/>
<rect x="1259" y="747" width="1" height="7" fill="#c0c0c0"/>
<rect x="1263" y="747" width="1" height="5" fill="#c0c0c0"/>
<rect x="1267" y="747" width="1" height="7" fill="#c0c0c0"/>
<rect x="1271" y="747" width="1" height="9" fill="#c0c0c0"/>
<rect x="1275" y="747" width="1" height="12" fill="#c0c0c0"/>
<rect x="1279" y="747" width="1" height="13" fill="#c0c0c0"/>
<rect x="1283" y="747" width="1" height="16" fill="#c0c0c0"/>
<rect x="1287" y="747" width="1" height="17" fill="#c0c0c0"/>
<rect x="1291" y="747" width="1" height="16" fill="#c0c0c0"/>
<rect x="1295" y="747" width="1" height="16" fill="#c0c0c0"/>
<rect x="1299" y="747" width="1" height="11" fill="#c0c0c0"/>
<rect x="1303" y="747" width="1" height="6" fill="#c0c0c0"/>
<rect x="1307" y="747" width="1" height="2" fill="#c0c0c0"/>
<rect x="1311" y="745" width="1" height="2" fill="#c0c0c0"/>
<rect x="1315" y="746" width="1" height="1" fill="#c0c0c0"/>
<rect x="1319" y="746" width="1" height="1" fill="#c0c0c0"/>
<rect x="1323" y="745" width="1" height="2" fill="#c0c0c0"/>
<rect x="1327" y="742" width="1" height="5" fill="#c0c0c0"/>
<rect x="1331" y="740" width="1" height="7" fill="#c0c0c0"/>
<rect x="1335" y="737" width="1" height="10" fill="#c0c0c0"/>
<rect x="1339" y="729" width="1" height="18" fill="#c0c0c0"/>
<path d="M3 791h1v1h-1zM4 790h2v1h-2zM9 787h2v1h-2zM1008 787h1v1h-1zM11 786h1v1h-1zM1004 786h1v1h-1zM1020 786h1v1h-1zM15 782h1v1h-1zM996 782h1v1h-1zM1026 782h1v1h-1zM16 781h1v1h-1zM901 781h1v1h-1zM1027 781h1v1h-1zM17 780h1v1h-1zM879 780h1v1h-1zM902 780h2v1h-2zM1028 780h1v1h-1zM1098 780h3v1h-3zM1104 780h1v1h-1zM21 776h1v1h-1zM319 776h1v1h-1zM872 776h2v1h-2zM908 776h1v1h-1zM986 776h1v1h-1zM1034 776h1v1h-1zM1088 776h1v1h-1zM1116 776h1v1h-1zM22 775h1v1h-1zM317 775h2v1h-2zM335 775h2v1h-2zM871 775h1v1h-1zM909 775h1v1h-1zM984 775h2v1h-2zM1087 775h1v1h-1zM1117 775h2v1h-2zM23 774h1v1h-1zM337 774h1v1h-1zM481 774h1v1h-1zM485 774h3v1h-3zM1038 774h1v1h-1zM1086 774h1v1h-1zM27 771h1v1h-1zM51 771h3v1h-3zM57 771h3v1h-3zM63 771h1v1h-1zM312 771h1v1h-1zM343 771h1v1h-1zM475 771h1v1h-1zM497 771h1v1h-1zM570 771h2v1h-2zM577 771h1v1h-1zM581 771h3v1h-3zM914 771h1v1h-1zM961 771h2v1h-2zM966 771h3v1h-3zM972 771h1v1h-1zM1080 771h2v1h-2zM1123 771h1v1h-1zM28 770h2v1h-2zM45 770h3v1h-3zM64 770h2v1h-2zM311 770h1v1h-1zM407 770h2v1h-2zM473 770h2v1h-2zM498 770h2v1h-2zM569 770h1v1h-1zM587 770h1v1h-1zM915 770h1v1h-1zM960 770h1v1h-1zM1044 770h1v1h-1zM1124 770h1v1h-1zM33 769h3v1h-3zM39 769h3v1h-3zM401 769h3v1h-3zM409 769h1v1h-1zM565 769h1v1h-1zM588 769h2v1h-2zM861 769h1v1h-1zM955 769h2v1h-2zM1045 769h2v1h-2zM1076 769h1v1h-1zM69 767h2v1h-2zM348 767h1v1h-1zM396 767h2v1h-2zM414 767h2v1h-2zM469 767h1v1h-1zM503 767h1v1h-1zM593 767h1v1h-1zM859 767h1v1h-1zM1050 767h2v1h-2zM1128 767h1v1h-1zM71 766h1v1h-1zM308 766h1v1h-1zM349 766h1v1h-1zM395 766h1v1h-1zM468 766h1v1h-1zM504 766h1v1h-1zM559 766h1v1h-1zM594 766h2v1h-2zM918 766h1v1h-1zM950 766h1v1h-1zM1052 766h1v1h-1zM1069 766h2v1h-2zM1129 766h1v1h-1zM75 764h1v1h-1zM306 764h1v1h-1zM420 764h1v1h-1zM599 764h1v1h-1zM853 764h2v1h-2zM920 764h1v1h-1zM1057 764h2v1h-2zM1062 764h3v1h-3zM76 763h1v1h-1zM391 763h1v1h-1zM421 763h1v1h-1zM463 763h1v1h-1zM600 763h2v1h-2zM944 763h1v1h-1zM77 762h1v1h-1zM353 762h2v1h-2zM389 762h2v1h-2zM462 762h1v1h-1zM509 762h2v1h-2zM553 762h1v1h-1zM942 762h2v1h-2zM1134 762h1v1h-1zM81 760h1v1h-1zM303 760h1v1h-1zM551 760h1v1h-1zM606 760h2v1h-2zM641 760h3v1h-3zM647 760h3v1h-3zM653 760h3v1h-3zM659 760h3v1h-3zM671 760h2v1h-2zM847 760h1v1h-1zM925 760h2v1h-2zM937 760h2v1h-2zM1136 760h1v1h-1zM82 759h2v1h-2zM302 759h1v1h-1zM385 759h1v1h-1zM425 759h2v1h-2zM611 759h2v1h-2zM637 759h1v1h-1zM673 759h1v1h-1zM841 759h3v1h-3zM930 759h3v1h-3zM936 759h1v1h-1zM1297 759h3v1h-3zM1303 759h2v1h-2zM87 757h2v1h-2zM360 757h2v1h-2zM383 757h1v1h-1zM456 757h1v1h-1zM515 757h1v1h-1zM547 757h1v1h-1zM617 757h3v1h-3zM629 757h3v1h-3zM683 757h1v1h-1zM829 757h3v1h-3zM835 757h2v1h-2zM1257 757h1v1h-1zM1261 757h3v1h-3zM1267 757h2v1h-2zM1285 757h3v1h-3zM1291 757h2v1h-2zM1309 757h3v1h-3zM89 756h1v1h-1zM431 756h1v1h-1zM455 756h1v1h-1zM516 756h2v1h-2zM545 756h2v1h-2zM623 756h3v1h-3zM684 756h2v1h-2zM1140 756h1v1h-1zM1255 756h2v1h-2zM1269 756h1v1h-1zM1273 756h3v1h-3zM1279 756h3v1h-3zM93 755h3v1h-3zM99 755h3v1h-3zM105 755h3v1h-3zM111 755h1v1h-1zM365 755h1v1h-1zM378 755h2v1h-2zM432 755h2v1h-2zM824 755h2v1h-2zM1141 755h1v1h-1zM1251 755h1v1h-1zM1315 755h1v1h-1zM112 754h2v1h-2zM248 754h3v1h-3zM297 754h1v1h-1zM366 754h2v1h-2zM377 754h1v1h-1zM449 754h3v1h-3zM521 754h1v1h-1zM823 754h1v1h-1zM1142 754h1v1h-1zM1249 754h2v1h-2zM1316 754h2v1h-2zM117 752h3v1h-3zM238 752h1v1h-1zM254 752h2v1h-2zM296 752h1v1h-1zM443 752h2v1h-2zM527 752h2v1h-2zM539 752h1v1h-1zM691 752h1v1h-1zM819 752h1v1h-1zM1321 752h1v1h-1zM123 751h1v1h-1zM236 751h2v1h-2zM256 751h1v1h-1zM529 751h1v1h-1zM533 751h3v1h-3zM817 751h2v1h-2zM1245 751h1v1h-1zM1322 751h2v1h-2zM124 750h2v1h-2zM1145 750h1v1h-1zM1244 750h1v1h-1zM129 747h2v1h-2zM231 747h1v1h-1zM291 747h1v1h-1zM696 747h1v1h-1zM813 747h1v1h-1zM131 746h1v1h-1zM230 746h1v1h-1zM266 746h1v1h-1zM290 746h1v1h-1zM697 746h1v1h-1zM812 746h1v1h-1zM135 743h1v1h-1zM272 743h1v1h-1zM284 743h1v1h-1zM1150 743h1v1h-1zM1238 743h1v1h-1zM136 742h2v1h-2zM227 742h1v1h-1zM273 742h2v1h-2zM278 742h3v1h-3zM700 742h1v1h-1zM1151 742h1v1h-1zM1339 742h1v1h-1zM141 739h2v1h-2zM805 739h1v1h-1zM1235 739h1v1h-1zM143 738h1v1h-1zM1154 738h1v1h-1zM1234 738h1v1h-1zM147 737h1v1h-1zM1154 737h1v1h-1zM1233 737h1v1h-1zM148 736h2v1h-2zM221 736h1v1h-1zM704 736h1v1h-1zM1155 736h1v1h-1zM153 734h3v1h-3zM219 734h1v1h-1zM706 734h1v1h-1zM802 734h1v1h-1zM159 733h3v1h-3zM165 733h3v1h-3zM171 733h2v1h-2zM801 733h1v1h-1zM1230 733h1v1h-1zM173 732h1v1h-1zM177 732h3v1h-3zM1158 732h1v1h-1zM1229 732h1v1h-1zM183 731h2v1h-2zM1159 731h1v1h-1zM1229 731h1v1h-1zM185 730h1v1h-1zM214 730h2v1h-2zM709 730h1v1h-1zM741 730h1v1h-1zM745 730h3v1h-3zM1160 730h1v1h-1zM189 729h1v1h-1zM213 729h1v1h-1zM710 729h1v1h-1zM739 729h2v1h-2zM751 729h1v1h-1zM798 729h1v1h-1zM190 728h2v1h-2zM711 728h1v1h-1zM752 728h1v1h-1zM798 728h1v1h-1zM1225 728h1v1h-1zM195 727h2v1h-2zM208 727h2v1h-2zM734 727h2v1h-2zM753 727h1v1h-1zM797 727h1v1h-1zM1224 727h1v1h-1zM197 726h1v1h-1zM207 726h1v1h-1zM733 726h1v1h-1zM1163 726h1v1h-1zM1223 726h1v1h-1zM201 725h3v1h-3zM715 725h1v1h-1zM1164 725h1v1h-1zM220 735h1v1h-1zM705 735h1v1h-1zM802 735h1v1h-1zM225 740h1v1h-1zM701 740h1v1h-1zM806 740h1v1h-1zM226 741h1v1h-1zM701 741h1v1h-1zM807 741h1v1h-1zM232 748h1v1h-1zM262 748h1v1h-1zM292 748h1v1h-1zM695 748h1v1h-1zM1146 748h1v1h-1zM1328 748h2v1h-2zM242 753h3v1h-3zM297 753h1v1h-1zM371 753h3v1h-3zM437 753h3v1h-3zM445 753h1v1h-1zM522 753h2v1h-2zM540 753h2v1h-2zM689 753h2v1h-2zM260 749h2v1h-2zM1146 749h1v1h-1zM1243 749h1v1h-1zM1327 749h1v1h-1zM267 745h1v1h-1zM811 745h1v1h-1zM1240 745h1v1h-1zM1333 745h2v1h-2zM268 744h1v1h-1zM285 744h2v1h-2zM1149 744h1v1h-1zM1239 744h1v1h-1zM1335 744h1v1h-1zM301 758h1v1h-1zM359 758h1v1h-1zM384 758h1v1h-1zM427 758h1v1h-1zM457 758h1v1h-1zM613 758h1v1h-1zM635 758h2v1h-2zM677 758h3v1h-3zM837 758h1v1h-1zM1293 758h1v1h-1zM1305 758h1v1h-1zM307 765h1v1h-1zM419 765h1v1h-1zM467 765h1v1h-1zM505 765h1v1h-1zM557 765h2v1h-2zM855 765h1v1h-1zM919 765h1v1h-1zM948 765h2v1h-2zM1056 765h1v1h-1zM1068 765h1v1h-1zM1130 765h1v1h-1zM313 772h1v1h-1zM341 772h2v1h-2zM493 772h1v1h-1zM575 772h2v1h-2zM865 772h2v1h-2zM913 772h1v1h-1zM973 772h2v1h-2zM978 772h2v1h-2zM1040 772h1v1h-1zM1082 772h1v1h-1zM1122 772h1v1h-1zM323 777h3v1h-3zM329 777h3v1h-3zM907 777h1v1h-1zM1032 777h2v1h-2zM347 768h1v1h-1zM413 768h1v1h-1zM563 768h2v1h-2zM860 768h1v1h-1zM954 768h1v1h-1zM1074 768h2v1h-2zM355 761h1v1h-1zM461 761h1v1h-1zM511 761h1v1h-1zM552 761h1v1h-1zM605 761h1v1h-1zM665 761h3v1h-3zM848 761h2v1h-2zM924 761h1v1h-1zM1135 761h1v1h-1zM479 773h2v1h-2zM491 773h2v1h-2zM867 773h1v1h-1zM980 773h1v1h-1zM1039 773h1v1h-1zM716 724h2v1h-2zM728 724h2v1h-2zM757 724h2v1h-2zM1165 724h1v1h-1zM721 722h3v1h-3zM793 722h1v1h-1zM1217 722h2v1h-2zM727 723h1v1h-1zM759 723h1v1h-1zM794 723h1v1h-1zM1219 723h1v1h-1zM763 720h1v1h-1zM1169 720h2v1h-2zM1213 720h1v1h-1zM764 719h1v1h-1zM1171 719h1v1h-1zM1211 719h2v1h-2zM765 718h1v1h-1zM1199 718h3v1h-3zM1205 718h3v1h-3zM769 714h2v1h-2zM771 713h1v1h-1zM775 711h3v1h-3zM781 712h3v1h-3zM787 715h1v1h-1zM1177 715h1v1h-1zM1181 715h3v1h-3zM788 716h1v1h-1zM1175 716h2v1h-2zM1187 716h3v1h-3zM789 717h1v1h-1zM1193 717h3v1h-3zM793 721h1v1h-1zM877 779h2v1h-2zM992 779h1v1h-1zM1094 779h1v1h-1zM1105 779h2v1h-2zM883 783h2v1h-2zM896 783h2v1h-2zM997 783h2v1h-2zM885 784h1v1h-1zM895 784h1v1h-1zM889 785h3v1h-3zM1002 785h2v1h-2zM1021 785h2v1h-2zM990 778h2v1h-2zM1092 778h2v1h-2zM1110 778h3v1h-3zM1009 788h2v1h-2zM1014 788h3v1h-3z" fill="#ff0000"/>
</g>
<text x="1687" y="709" font-size="9.5" fill="#000" color="#000" text-anchor="start" >0.00463</text>
<text x="1687" y="751" font-size="9.5" fill="#000" color="#000" text-anchor="start" >0.00</text>
<text x="1687" y="798" font-size="9.5" fill="#000" color="#000" text-anchor="start" >-0.005295</text>
<rect x="1684" y="700" width="2" height="1" fill="#000"/>
<rect x="1684" y="747" width="2" height="1" fill="#000"/>
<rect x="1684" y="800" width="2" height="1" fill="#000"/>
<rect x="3" y="802" width="1" height="3" fill="#000"/>
<text x="2" y="813.5" font-size="9.5" fill="#000" color="#000" text-anchor="start" >19 Nov 2018</text>
<rect x="67" y="802" width="1" height="3" fill="#000"/>
<text x="66" y="813.5" font-size="9.5" fill="#000" color="#000" text-anchor="start" >7 Dec 2018</text>
<rect x="131" y="802" width="1" height="3" fill="#000"/>
<text x="130" y="813.5" font-size="9.5" fill="#000" color="#000" text-anchor="start" >26 Dec 2018</text>
<rect x="195" y="802" width="1" height="3" fill="#000"/>
<text x="194" y="813.5" font-size="9.5" fill="#000" color="#000" text-anchor="start" >14 Jan 2019</text>
<rect x="259" y="802" width="1" height="3" fill="#000"/>
<text x="258" y="813.5" font-size="9.5" fill="#000" color="#000" text-anchor="start" >1 Feb 2019</text>
<rect x="323" y="802" width="1" height="3" fill="#000"/>
<text x="322" y="813.5" font-size="9.5" fill="#000" color="#000" text-anchor="start" >20 Feb 2019</text>
<rect x="387" y="802" width="1" height="3" fill="#000"/>
<text x="386" y="813.5" font-size="9.5" fill="#000" color="#000" text-anchor="start" >11 Mar 2019</text>
<rect x="451" y="802" width="1" height="3" fill="#000"/>
<text x="450" y="813.5" font-size="9.5" fill="#000" color="#000" text-anchor="start" >29 Mar 2019</text>
<rect x="515" y="802" width="1" height="3" fill="#000"/>
<text x="514" y="813.5" font-size="9.5" fill="#000" color="#000" text-anchor="start" >17 Apr 2019</text>
<rect x="579" y="802" width="1" height="3" fill="#000"/>
<text x="578" y="813.5" font-size="9.5" fill="#000" color="#000" text-anchor="start" >6 May 2019</text>
<rect x="643" y="802" width="1" height="3" fill="#000"/>
<text x="642" y="813.5" font-size="9.5" fill="#000" color="#000" text-anchor="start" >24 May 2019</text>
<rect x="707" y="802" width="1" height="3" fill="#000"/>
<text x="706" y="813.5" font-size="9.5" fill="#000" color="#000" text-anchor="start" >12 Jun 2019</text>
<rect x="771" y="802" width="1" height="3" fill="#000"/>
<text x="770" y="813.5" font-size="9.5" fill="#000" color="#000" text-anchor="start" >1 Jul 2019</text>
<rect x="835" y="802" width="1" height="3" fill="#000"/>
<text x="834" y="813.5" font-size="9.5" fill="#000" color="#000" text-anchor="start" >19 Jul 2019</text>
<rect x="899" y="802" width="1" height="3" fill="#000"/>
<text x="898" y="813.5" font-size="9.5" fill="#000" color="#000" text-anchor="start" >7 Aug 2019</text>
<rect x="963" y="802" width="1" height="3" fill="#000"/>
<text x="962" y="813.5" font-size="9.5" fill="#000" color="#000" text-anchor="start" >26 Aug 2019</text>
<rect x="1027" y="802" width="1" height="3" fill="#000"/>
<text x="1026" y="813.5" font-size="9.5" fill="#000" color="#000" text-anchor="start" >13 Sep 2019</text>
<rect x="1091" y="802" width="1" height="3" fill="#000"/>
<text x="1090" y="813.5" font-size="9.5" fill="#000" color="#000" text-anchor="start" >2 Oct 2019</text>
<rect x="1155" y="802" width="1" height="3" fill="#000"/>
<text x="1154" y="813.5" font-size="9.5" fill="#000" color="#000" text-anchor="start" >21 Oct 2019</text>
<rect x="1219" y="802" width="1" height="3" fill="#000"/>
<text x="1218" y="813.5" font-size="9.5" fill="#000" color="#000" text-anchor="start" >8 Nov 2019</text>
<rect x="1283" y="802" width="1" height="3" fill="#000"/>
<text x="1282" y="813.5" font-size="9.5" fill="#000" color="#000" text-anchor="start" >27 Nov 2019</text>
<rect x="0" y="822" width="1726" height="1" fill="#e3e3e3"/>
<rect x="0" y="824" width="1726" height="20" fill="#f0f0f0"/>
<rect x="0" y="824" width="1726" height="1" fill="#000"/>
<rect x="4" y="824" width="104" height="19" fill="#fff"/>
<rect x="4" y="824" width="1" height="19" fill="#000"/>
<rect x="107" y="824" width="1" height="19" fill="#000"/>
<rect x="4" y="842" width="104" height="1" fill="#000"/>
<rect x="0" y="843" width="108" height="1" fill="#a0a0a0"/>
<text x="16.3" y="839" font-size="12" fill="#000" color="#000" text-anchor="start" >EURUSD,Daily</text>
<text x="118" y="839" font-size="12" fill="#6d6d6d" color="#6d6d6d" text-anchor="start" >USDCHF,Daily</text>
<text x="219" y="839" font-size="12" fill="#6d6d6d" color="#6d6d6d" text-anchor="start" >AUDUSD,Daily</text>
<text x="323" y="839" font-size="12" fill="#6d6d6d" color="#6d6d6d" text-anchor="start" >USDCAD,Daily</text>
<text x="426" y="839" font-size="12" fill="#6d6d6d" color="#6d6d6d" text-anchor="start" >USDCNH,Daily</text>
<rect x="208" y="828" width="1" height="13" fill="#808080"/>
<rect x="312" y="828" width="1" height="13" fill="#808080"/>
<rect x="416" y="828" width="1" height="13" fill="#808080"/>
<rect x="520" y="828" width="1" height="13" fill="#808080"/>
<polygon points="1702,830 1702,836 1699,833" fill="#a0a0a0"/>
<polygon points="1718,830 1718,836 1721,833" fill="#a0a0a0"/>
</svg></body></html>
